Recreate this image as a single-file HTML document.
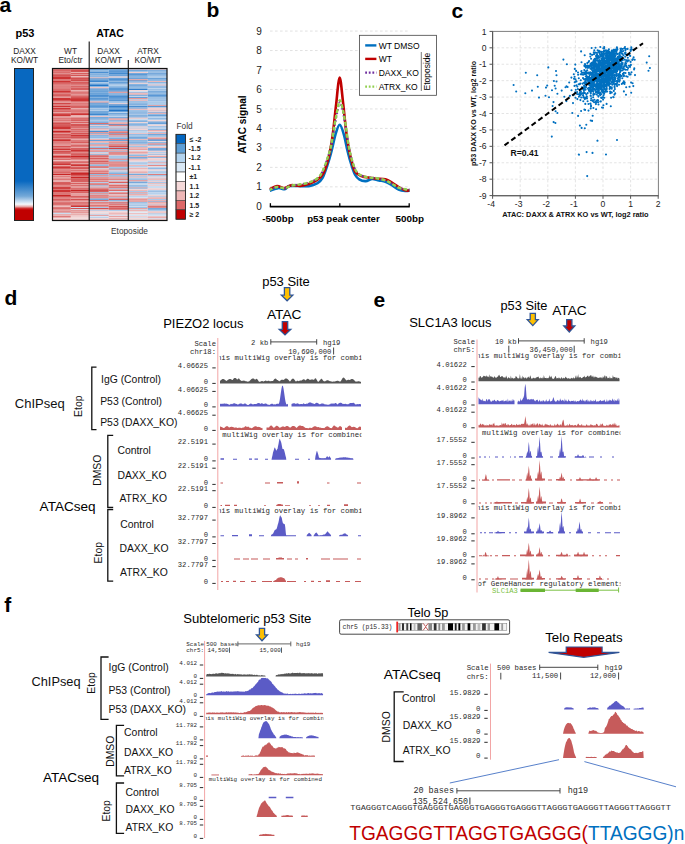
<!DOCTYPE html>
<html><head><meta charset="utf-8"><style>
html,body{margin:0;padding:0;background:#fff;width:685px;height:844px;overflow:hidden}
svg{display:block;font-family:"Liberation Sans",sans-serif}
</style></head><body>
<svg width="685" height="844" viewBox="0 0 685 844">
<text x="-0.50" y="11.50" font-size="21" font-weight="bold" >a</text>
<text x="25.00" y="37.20" font-size="11" text-anchor="middle" font-weight="bold" >p53</text>
<text x="24.50" y="53.80" font-size="8.3" text-anchor="middle" fill="#222" >DAXX</text>
<text x="24.50" y="63.20" font-size="8.3" text-anchor="middle" fill="#222" >KO/WT</text>
<defs><linearGradient id="gbar" x1="0" y1="0" x2="0" y2="1">
<stop offset="0" stop-color="#0868c0"/><stop offset="0.74" stop-color="#0868c0"/>
<stop offset="0.84" stop-color="#74a9d8"/><stop offset="0.893" stop-color="#f4f8fc"/>
<stop offset="0.907" stop-color="#e8b4b4"/><stop offset="0.922" stop-color="#cc2424"/><stop offset="0.932" stop-color="#c00000"/><stop offset="1" stop-color="#c00000"/>
</linearGradient></defs>
<rect x="14.50" y="68.50" width="19.00" height="152.00" fill="url(#gbar)" stroke="#222" stroke-width="1"/>
<text x="110.00" y="37.00" font-size="10.5" text-anchor="middle" font-weight="bold" >ATAC</text>
<text x="70.50" y="53.80" font-size="8.3" text-anchor="middle" fill="#222" >WT</text>
<text x="70.50" y="63.20" font-size="8.3" text-anchor="middle" fill="#222" >Eto/ctr</text>
<text x="108.50" y="53.80" font-size="8.3" text-anchor="middle" fill="#222" >DAXX</text>
<text x="108.50" y="63.20" font-size="8.3" text-anchor="middle" fill="#222" >KO/WT</text>
<text x="148.00" y="53.80" font-size="8.3" text-anchor="middle" fill="#222" >ATRX</text>
<text x="148.00" y="63.20" font-size="8.3" text-anchor="middle" fill="#222" >KO/WT</text>
<path d="M89.2 69.39h19.5v0.91h-19.5zM128.3 69.39h19.4v0.91h-19.4zM108.7 71.18h19.6v0.91h-19.6zM108.7 79.23h19.6v0.91h-19.6zM89.2 84.59h19.5v0.91h-19.5zM89.2 85.49h19.5v0.91h-19.5zM108.7 88.17h19.6v0.91h-19.6zM89.2 96.22h19.5v0.91h-19.5zM89.2 102.48h19.5v0.91h-19.5zM108.7 104.26h19.6v0.91h-19.6zM108.7 109.63h19.6v0.91h-19.6zM108.7 110.52h19.6v0.91h-19.6zM89.2 111.42h19.5v0.91h-19.5zM108.7 113.21h19.6v0.91h-19.6z" fill="#2376c8"/>
<path d="M89.2 83.70h19.5v0.91h-19.5zM128.3 83.70h19.4v0.91h-19.4zM128.3 89.06h19.4v0.91h-19.4zM89.2 93.54h19.5v0.91h-19.5zM147.7 95.32h19.3v0.91h-19.3zM108.7 106.05h19.6v0.91h-19.6zM89.2 106.95h19.5v0.91h-19.5zM89.2 123.94h19.5v0.91h-19.5zM108.7 123.94h19.6v0.91h-19.6z" fill="#317ecb"/>
<path d="M108.7 72.97h19.6v0.91h-19.6zM108.7 75.65h19.6v0.91h-19.6zM89.2 78.34h19.5v0.91h-19.5zM108.7 78.34h19.6v0.91h-19.6zM128.3 78.34h19.4v0.91h-19.4zM147.7 78.34h19.3v0.91h-19.3zM89.2 81.02h19.5v0.91h-19.5zM108.7 81.91h19.6v0.91h-19.6zM128.3 86.38h19.4v0.91h-19.4zM89.2 90.85h19.5v0.91h-19.5zM89.2 92.64h19.5v0.91h-19.5zM147.7 94.43h19.3v0.91h-19.3zM89.2 105.16h19.5v0.91h-19.5zM108.7 108.74h19.6v0.91h-19.6zM128.3 110.52h19.4v0.91h-19.4zM108.7 111.42h19.6v0.91h-19.6zM89.2 113.21h19.5v0.91h-19.5zM89.2 114.10h19.5v0.91h-19.5zM89.2 117.68h19.5v0.91h-19.5zM108.7 127.51h19.6v0.91h-19.6z" fill="#3e87ce"/>
<path d="M108.7 68.50h19.6v0.91h-19.6zM89.2 72.08h19.5v0.91h-19.5zM108.7 74.76h19.6v0.91h-19.6zM89.2 75.65h19.5v0.91h-19.5zM108.7 77.44h19.6v0.91h-19.6zM108.7 82.81h19.6v0.91h-19.6zM147.7 85.49h19.3v0.91h-19.3zM108.7 86.38h19.6v0.91h-19.6zM108.7 89.96h19.6v0.91h-19.6zM89.2 94.43h19.5v0.91h-19.5zM89.2 95.32h19.5v0.91h-19.5zM108.7 95.32h19.6v0.91h-19.6zM108.7 96.22h19.6v0.91h-19.6zM128.3 97.11h19.4v0.91h-19.4zM108.7 98.90h19.6v0.91h-19.6zM108.7 105.16h19.6v0.91h-19.6zM128.3 106.05h19.4v0.91h-19.4zM108.7 116.78h19.6v0.91h-19.6zM108.7 130.19h19.6v0.91h-19.6zM89.2 131.09h19.5v0.91h-19.5zM147.7 133.77h19.3v0.91h-19.3zM108.7 138.24h19.6v0.91h-19.6zM147.7 139.14h19.3v0.91h-19.3zM128.3 186.52h19.4v0.91h-19.4zM108.7 199.94h19.6v0.91h-19.6z" fill="#4c8fd1"/>
<path d="M89.2 68.50h19.5v0.91h-19.5zM147.7 69.39h19.3v0.91h-19.3zM128.3 70.29h19.4v0.91h-19.4zM89.2 73.86h19.5v0.91h-19.5zM108.7 73.86h19.6v0.91h-19.6zM128.3 73.86h19.4v0.91h-19.4zM128.3 74.76h19.4v0.91h-19.4zM128.3 76.55h19.4v0.91h-19.4zM89.2 79.23h19.5v0.91h-19.5zM89.2 80.12h19.5v0.91h-19.5zM147.7 81.91h19.3v0.91h-19.3zM89.2 88.17h19.5v0.91h-19.5zM108.7 89.06h19.6v0.91h-19.6zM89.2 89.96h19.5v0.91h-19.5zM108.7 90.85h19.6v0.91h-19.6zM147.7 90.85h19.3v0.91h-19.3zM108.7 92.64h19.6v0.91h-19.6zM147.7 93.54h19.3v0.91h-19.3zM108.7 94.43h19.6v0.91h-19.6zM147.7 96.22h19.3v0.91h-19.3zM108.7 97.11h19.6v0.91h-19.6zM89.2 98.01h19.5v0.91h-19.5zM108.7 99.79h19.6v0.91h-19.6zM108.7 100.69h19.6v0.91h-19.6zM89.2 104.26h19.5v0.91h-19.5zM128.3 104.26h19.4v0.91h-19.4zM89.2 106.05h19.5v0.91h-19.5zM147.7 106.05h19.3v0.91h-19.3zM108.7 106.95h19.6v0.91h-19.6zM108.7 107.84h19.6v0.91h-19.6zM89.2 110.52h19.5v0.91h-19.5zM89.2 112.31h19.5v0.91h-19.5zM147.7 112.31h19.3v0.91h-19.3zM89.2 116.78h19.5v0.91h-19.5zM147.7 117.68h19.3v0.91h-19.3zM108.7 120.36h19.6v0.91h-19.6zM89.2 122.15h19.5v0.91h-19.5zM147.7 122.15h19.3v0.91h-19.3zM89.2 125.72h19.5v0.91h-19.5zM89.2 127.51h19.5v0.91h-19.5zM89.2 132.88h19.5v0.91h-19.5zM108.7 132.88h19.6v0.91h-19.6zM89.2 135.56h19.5v0.91h-19.5zM128.3 141.82h19.4v0.91h-19.4zM89.2 142.71h19.5v0.91h-19.5zM108.7 142.71h19.6v0.91h-19.6zM128.3 143.61h19.4v0.91h-19.4z" fill="#5a98d4"/>
<path d="M108.7 69.39h19.6v0.91h-19.6zM108.7 70.29h19.6v0.91h-19.6zM147.7 70.29h19.3v0.91h-19.3zM89.2 71.18h19.5v0.91h-19.5zM108.7 72.08h19.6v0.91h-19.6zM147.7 73.86h19.3v0.91h-19.3zM128.3 75.65h19.4v0.91h-19.4zM147.7 75.65h19.3v0.91h-19.3zM128.3 77.44h19.4v0.91h-19.4zM147.7 77.44h19.3v0.91h-19.3zM108.7 80.12h19.6v0.91h-19.6zM128.3 80.12h19.4v0.91h-19.4zM108.7 87.28h19.6v0.91h-19.6zM128.3 88.17h19.4v0.91h-19.4zM89.2 91.75h19.5v0.91h-19.5zM147.7 91.75h19.3v0.91h-19.3zM108.7 93.54h19.6v0.91h-19.6zM108.7 98.01h19.6v0.91h-19.6zM89.2 98.90h19.5v0.91h-19.5zM89.2 99.79h19.5v0.91h-19.5zM128.3 100.69h19.4v0.91h-19.4zM89.2 103.37h19.5v0.91h-19.5zM128.3 107.84h19.4v0.91h-19.4zM89.2 108.74h19.5v0.91h-19.5zM147.7 114.99h19.3v0.91h-19.3zM128.3 115.89h19.4v0.91h-19.4zM89.2 118.57h19.5v0.91h-19.5zM147.7 123.04h19.3v0.91h-19.3zM128.3 123.94h19.4v0.91h-19.4zM147.7 129.30h19.3v0.91h-19.3zM89.2 134.66h19.5v0.91h-19.5zM147.7 134.66h19.3v0.91h-19.3zM128.3 138.24h19.4v0.91h-19.4zM89.2 140.03h19.5v0.91h-19.5zM108.7 140.03h19.6v0.91h-19.6zM147.7 140.03h19.3v0.91h-19.3zM147.7 141.82h19.3v0.91h-19.3zM89.2 147.18h19.5v0.91h-19.5zM147.7 149.86h19.3v0.91h-19.3zM89.2 154.34h19.5v0.91h-19.5zM108.7 160.59h19.6v0.91h-19.6zM128.3 162.38h19.4v0.91h-19.4zM147.7 208.88h19.3v0.91h-19.3z" fill="#68a0d8"/>
<path d="M128.3 72.97h19.4v0.91h-19.4zM147.7 72.97h19.3v0.91h-19.3zM89.2 76.55h19.5v0.91h-19.5zM147.7 79.23h19.3v0.91h-19.3zM128.3 81.91h19.4v0.91h-19.4zM147.7 83.70h19.3v0.91h-19.3zM128.3 84.59h19.4v0.91h-19.4zM128.3 85.49h19.4v0.91h-19.4zM147.7 87.28h19.3v0.91h-19.3zM89.2 89.06h19.5v0.91h-19.5zM128.3 91.75h19.4v0.91h-19.4zM147.7 99.79h19.3v0.91h-19.3zM108.7 102.48h19.6v0.91h-19.6zM128.3 102.48h19.4v0.91h-19.4zM128.3 106.95h19.4v0.91h-19.4zM128.3 113.21h19.4v0.91h-19.4zM147.7 118.57h19.3v0.91h-19.3zM89.2 119.46h19.5v0.91h-19.5zM89.2 121.25h19.5v0.91h-19.5zM147.7 121.25h19.3v0.91h-19.3zM128.3 124.83h19.4v0.91h-19.4zM147.7 126.62h19.3v0.91h-19.3zM108.7 129.30h19.6v0.91h-19.6zM128.3 133.77h19.4v0.91h-19.4zM108.7 134.66h19.6v0.91h-19.6zM128.3 136.45h19.4v0.91h-19.4zM89.2 137.35h19.5v0.91h-19.5zM128.3 137.35h19.4v0.91h-19.4zM147.7 144.50h19.3v0.91h-19.3zM147.7 148.08h19.3v0.91h-19.3zM147.7 148.97h19.3v0.91h-19.3zM147.7 154.34h19.3v0.91h-19.3zM128.3 157.02h19.4v0.91h-19.4zM128.3 157.91h19.4v0.91h-19.4zM147.7 167.75h19.3v0.91h-19.3zM128.3 174.01h19.4v0.91h-19.4zM128.3 182.05h19.4v0.91h-19.4zM128.3 184.74h19.4v0.91h-19.4zM89.2 199.04h19.5v0.91h-19.5zM147.7 200.83h19.3v0.91h-19.3zM147.7 207.98h19.3v0.91h-19.3z" fill="#76a8db"/>
<path d="M89.2 70.29h19.5v0.91h-19.5zM147.7 71.18h19.3v0.91h-19.3zM89.2 74.76h19.5v0.91h-19.5zM147.7 74.76h19.3v0.91h-19.3zM89.2 82.81h19.5v0.91h-19.5zM108.7 85.49h19.6v0.91h-19.6zM89.2 86.38h19.5v0.91h-19.5zM147.7 86.38h19.3v0.91h-19.3zM128.3 87.28h19.4v0.91h-19.4zM147.7 92.64h19.3v0.91h-19.3zM128.3 94.43h19.4v0.91h-19.4zM128.3 95.32h19.4v0.91h-19.4zM89.2 97.11h19.5v0.91h-19.5zM128.3 101.58h19.4v0.91h-19.4zM147.7 102.48h19.3v0.91h-19.3zM128.3 103.37h19.4v0.91h-19.4zM128.3 114.99h19.4v0.91h-19.4zM147.7 115.89h19.3v0.91h-19.3zM108.7 117.68h19.6v0.91h-19.6zM128.3 120.36h19.4v0.91h-19.4zM128.3 121.25h19.4v0.91h-19.4zM108.7 125.72h19.6v0.91h-19.6zM128.3 127.51h19.4v0.91h-19.4zM89.2 130.19h19.5v0.91h-19.5zM128.3 130.19h19.4v0.91h-19.4zM128.3 135.56h19.4v0.91h-19.4zM147.7 135.56h19.3v0.91h-19.3zM89.2 136.45h19.5v0.91h-19.5zM108.7 136.45h19.6v0.91h-19.6zM128.3 140.92h19.4v0.91h-19.4zM128.3 142.71h19.4v0.91h-19.4zM89.2 143.61h19.5v0.91h-19.5zM128.3 146.29h19.4v0.91h-19.4zM147.7 152.55h19.3v0.91h-19.3zM108.7 159.70h19.6v0.91h-19.6zM108.7 167.75h19.6v0.91h-19.6zM147.7 168.64h19.3v0.91h-19.3zM108.7 169.54h19.6v0.91h-19.6zM108.7 172.22h19.6v0.91h-19.6zM108.7 173.11h19.6v0.91h-19.6zM147.7 174.90h19.3v0.91h-19.3zM128.3 178.48h19.4v0.91h-19.4zM89.2 184.74h19.5v0.91h-19.5zM128.3 188.31h19.4v0.91h-19.4zM89.2 191.89h19.5v0.91h-19.5zM89.2 193.68h19.5v0.91h-19.5zM89.2 198.15h19.5v0.91h-19.5zM108.7 209.77h19.6v0.91h-19.6zM147.7 209.77h19.3v0.91h-19.3z" fill="#83b1de"/>
<path d="M128.3 71.18h19.4v0.91h-19.4zM89.2 72.97h19.5v0.91h-19.5zM147.7 80.12h19.3v0.91h-19.3zM108.7 81.02h19.6v0.91h-19.6zM128.3 81.02h19.4v0.91h-19.4zM147.7 98.90h19.3v0.91h-19.3zM89.2 100.69h19.5v0.91h-19.5zM108.7 101.58h19.6v0.91h-19.6zM147.7 101.58h19.3v0.91h-19.3zM147.7 104.26h19.3v0.91h-19.3zM128.3 105.16h19.4v0.91h-19.4zM147.7 106.95h19.3v0.91h-19.3zM128.3 111.42h19.4v0.91h-19.4zM128.3 112.31h19.4v0.91h-19.4zM108.7 114.10h19.6v0.91h-19.6zM147.7 114.10h19.3v0.91h-19.3zM128.3 116.78h19.4v0.91h-19.4zM128.3 119.46h19.4v0.91h-19.4zM108.7 121.25h19.6v0.91h-19.6zM147.7 128.41h19.3v0.91h-19.3zM128.3 134.66h19.4v0.91h-19.4zM147.7 136.45h19.3v0.91h-19.3zM108.7 137.35h19.6v0.91h-19.6zM128.3 140.03h19.4v0.91h-19.4zM147.7 145.39h19.3v0.91h-19.3zM108.7 150.76h19.6v0.91h-19.6zM89.2 151.65h19.5v0.91h-19.5zM128.3 154.34h19.4v0.91h-19.4zM128.3 155.23h19.4v0.91h-19.4zM147.7 157.02h19.3v0.91h-19.3zM108.7 157.91h19.6v0.91h-19.6zM89.2 165.06h19.5v0.91h-19.5zM128.3 165.96h19.4v0.91h-19.4zM108.7 166.85h19.6v0.91h-19.6zM147.7 172.22h19.3v0.91h-19.3zM89.2 174.01h19.5v0.91h-19.5zM89.2 175.79h19.5v0.91h-19.5zM128.3 179.37h19.4v0.91h-19.4zM108.7 188.31h19.6v0.91h-19.6zM147.7 193.68h19.3v0.91h-19.3zM128.3 203.51h19.4v0.91h-19.4zM147.7 204.41h19.3v0.91h-19.3zM89.2 216.92h19.5v0.91h-19.5z" fill="#91b9e1"/>
<path d="M147.7 72.08h19.3v0.91h-19.3zM89.2 81.91h19.5v0.91h-19.5zM147.7 89.06h19.3v0.91h-19.3zM147.7 89.96h19.3v0.91h-19.3zM147.7 97.11h19.3v0.91h-19.3zM147.7 98.01h19.3v0.91h-19.3zM128.3 98.90h19.4v0.91h-19.4zM147.7 100.69h19.3v0.91h-19.3zM89.2 107.84h19.5v0.91h-19.5zM128.3 109.63h19.4v0.91h-19.4zM147.7 110.52h19.3v0.91h-19.3zM89.2 114.99h19.5v0.91h-19.5zM108.7 114.99h19.6v0.91h-19.6zM89.2 120.36h19.5v0.91h-19.5zM128.3 123.04h19.4v0.91h-19.4zM128.3 125.72h19.4v0.91h-19.4zM147.7 125.72h19.3v0.91h-19.3zM147.7 142.71h19.3v0.91h-19.3zM108.7 147.18h19.6v0.91h-19.6zM108.7 148.97h19.6v0.91h-19.6zM108.7 156.12h19.6v0.91h-19.6zM147.7 160.59h19.3v0.91h-19.3zM128.3 163.28h19.4v0.91h-19.4zM89.2 164.17h19.5v0.91h-19.5zM108.7 171.32h19.6v0.91h-19.6zM108.7 174.90h19.6v0.91h-19.6zM108.7 175.79h19.6v0.91h-19.6zM128.3 175.79h19.4v0.91h-19.4zM128.3 177.58h19.4v0.91h-19.4zM128.3 181.16h19.4v0.91h-19.4zM128.3 185.63h19.4v0.91h-19.4zM89.2 186.52h19.5v0.91h-19.5zM147.7 190.99h19.3v0.91h-19.3zM128.3 192.78h19.4v0.91h-19.4zM147.7 196.36h19.3v0.91h-19.3zM108.7 197.25h19.6v0.91h-19.6zM128.3 201.72h19.4v0.91h-19.4zM128.3 202.62h19.4v0.91h-19.4zM128.3 207.09h19.4v0.91h-19.4zM89.2 209.77h19.5v0.91h-19.5zM147.7 213.35h19.3v0.91h-19.3z" fill="#9dc0e4"/>
<path d="M147.7 76.55h19.3v0.91h-19.3zM147.7 82.81h19.3v0.91h-19.3zM108.7 83.70h19.6v0.91h-19.6zM108.7 84.59h19.6v0.91h-19.6zM147.7 103.37h19.3v0.91h-19.3zM128.3 114.10h19.4v0.91h-19.4zM147.7 119.46h19.3v0.91h-19.3zM89.2 126.62h19.5v0.91h-19.5zM147.7 131.98h19.3v0.91h-19.3zM128.3 145.39h19.4v0.91h-19.4zM89.2 146.29h19.5v0.91h-19.5zM89.2 148.97h19.5v0.91h-19.5zM147.7 151.65h19.3v0.91h-19.3zM108.7 157.02h19.6v0.91h-19.6zM147.7 161.49h19.3v0.91h-19.3zM147.7 164.17h19.3v0.91h-19.3zM147.7 166.85h19.3v0.91h-19.3zM147.7 180.26h19.3v0.91h-19.3zM147.7 182.05h19.3v0.91h-19.3zM108.7 182.95h19.6v0.91h-19.6zM128.3 182.95h19.4v0.91h-19.4zM147.7 185.63h19.3v0.91h-19.3zM147.7 187.42h19.3v0.91h-19.3zM128.3 190.99h19.4v0.91h-19.4zM147.7 192.78h19.3v0.91h-19.3zM128.3 196.36h19.4v0.91h-19.4zM147.7 199.04h19.3v0.91h-19.3zM89.2 200.83h19.5v0.91h-19.5zM108.7 202.62h19.6v0.91h-19.6zM128.3 204.41h19.4v0.91h-19.4zM128.3 205.30h19.4v0.91h-19.4zM89.2 207.09h19.5v0.91h-19.5zM89.2 214.24h19.5v0.91h-19.5z" fill="#a9c7e7"/>
<path d="M147.7 88.17h19.3v0.91h-19.3zM128.3 96.22h19.4v0.91h-19.4zM89.2 109.63h19.5v0.91h-19.5zM108.7 112.31h19.6v0.91h-19.6zM108.7 115.89h19.6v0.91h-19.6zM147.7 116.78h19.3v0.91h-19.3zM147.7 123.94h19.3v0.91h-19.3zM147.7 127.51h19.3v0.91h-19.3zM89.2 138.24h19.5v0.91h-19.5zM89.2 152.55h19.5v0.91h-19.5zM128.3 161.49h19.4v0.91h-19.4zM128.3 164.17h19.4v0.91h-19.4zM147.7 170.43h19.3v0.91h-19.3zM147.7 171.32h19.3v0.91h-19.3zM147.7 175.79h19.3v0.91h-19.3zM147.7 177.58h19.3v0.91h-19.3zM108.7 180.26h19.6v0.91h-19.6zM89.2 182.05h19.5v0.91h-19.5zM147.7 190.10h19.3v0.91h-19.3zM147.7 191.89h19.3v0.91h-19.3zM128.3 195.46h19.4v0.91h-19.4z" fill="#b5ceea"/>
<path d="M128.3 131.09h19.4v0.91h-19.4zM128.3 131.98h19.4v0.91h-19.4zM108.7 155.23h19.6v0.91h-19.6zM89.2 167.75h19.5v0.91h-19.5zM128.3 173.11h19.4v0.91h-19.4zM147.7 173.11h19.3v0.91h-19.3zM128.3 183.84h19.4v0.91h-19.4zM147.7 183.84h19.3v0.91h-19.3zM147.7 186.52h19.3v0.91h-19.3zM108.7 193.68h19.6v0.91h-19.6zM108.7 200.83h19.6v0.91h-19.6zM128.3 206.19h19.4v0.91h-19.4zM128.3 208.88h19.4v0.91h-19.4zM128.3 211.56h19.4v0.91h-19.4zM89.2 212.45h19.5v0.91h-19.5zM147.7 214.24h19.3v0.91h-19.3zM128.3 215.14h19.4v0.91h-19.4zM128.3 216.92h19.4v0.91h-19.4z" fill="#c0d6ec"/>
<path d="M128.3 90.85h19.4v0.91h-19.4zM128.3 118.57h19.4v0.91h-19.4zM128.3 149.86h19.4v0.91h-19.4zM147.7 163.28h19.3v0.91h-19.3zM128.3 166.85h19.4v0.91h-19.4zM108.7 177.58h19.6v0.91h-19.6zM108.7 190.99h19.6v0.91h-19.6zM147.7 194.57h19.3v0.91h-19.3zM128.3 197.25h19.4v0.91h-19.4zM70.8 207.09h18.4v0.91h-18.4zM70.8 208.88h18.4v0.91h-18.4zM52.5 212.45h18.3v0.91h-18.3zM52.5 213.35h18.3v0.91h-18.3zM108.7 215.14h19.6v0.91h-19.6zM147.7 215.14h19.3v0.91h-19.3zM147.7 217.82h19.3v0.91h-19.3zM108.7 219.61h19.6v0.91h-19.6z" fill="#ccddef"/>
<path d="M147.7 210.66h19.3v0.91h-19.3zM89.2 216.03h19.5v0.91h-19.5z" fill="#d8e4f2"/>
<path d="M108.7 210.66h19.6v0.91h-19.6zM128.3 212.45h19.4v0.91h-19.4zM128.3 214.24h19.4v0.91h-19.4z" fill="#e4ebf5"/>
<path d="M108.7 216.92h19.6v0.91h-19.6zM52.5 217.82h18.3v0.91h-18.3zM89.2 217.82h19.5v0.91h-19.5zM128.3 219.61h19.4v0.91h-19.4z" fill="#f4e5e7"/>
<path d="M89.2 211.56h19.5v0.91h-19.5zM70.8 217.82h18.4v0.91h-18.4zM128.3 218.71h19.4v0.91h-19.4z" fill="#f2dadc"/>
<path d="M128.3 72.08h19.4v0.91h-19.4zM108.7 76.55h19.6v0.91h-19.6zM128.3 82.81h19.4v0.91h-19.4zM128.3 89.96h19.4v0.91h-19.4zM108.7 103.37h19.6v0.91h-19.6zM147.7 108.74h19.3v0.91h-19.3zM147.7 120.36h19.3v0.91h-19.3zM128.3 122.15h19.4v0.91h-19.4zM147.7 124.83h19.3v0.91h-19.3zM108.7 126.62h19.6v0.91h-19.6zM128.3 126.62h19.4v0.91h-19.4zM128.3 129.30h19.4v0.91h-19.4zM147.7 131.09h19.3v0.91h-19.3zM147.7 140.92h19.3v0.91h-19.3zM147.7 146.29h19.3v0.91h-19.3zM128.3 150.76h19.4v0.91h-19.4zM128.3 153.44h19.4v0.91h-19.4zM147.7 153.44h19.3v0.91h-19.3zM147.7 155.23h19.3v0.91h-19.3zM147.7 157.91h19.3v0.91h-19.3zM147.7 159.70h19.3v0.91h-19.3zM128.3 160.59h19.4v0.91h-19.4zM147.7 165.96h19.3v0.91h-19.3zM128.3 168.64h19.4v0.91h-19.4zM147.7 169.54h19.3v0.91h-19.3zM128.3 170.43h19.4v0.91h-19.4zM147.7 188.31h19.3v0.91h-19.3zM128.3 189.21h19.4v0.91h-19.4zM147.7 189.21h19.3v0.91h-19.3zM128.3 210.66h19.4v0.91h-19.4zM147.7 212.45h19.3v0.91h-19.3zM70.8 213.35h18.4v0.91h-18.4zM89.2 213.35h19.5v0.91h-19.5zM70.8 215.14h18.4v0.91h-18.4zM70.8 216.03h18.4v0.91h-18.4zM128.3 216.03h19.4v0.91h-19.4zM70.8 216.92h18.4v0.91h-18.4zM128.3 217.82h19.4v0.91h-19.4zM70.8 218.71h18.4v0.91h-18.4zM147.7 219.61h19.3v0.91h-19.3z" fill="#efcfd0"/>
<path d="M128.3 68.50h19.4v0.91h-19.4zM147.7 84.59h19.3v0.91h-19.3zM147.7 107.84h19.3v0.91h-19.3zM147.7 111.42h19.3v0.91h-19.3zM89.2 124.83h19.5v0.91h-19.5zM128.3 128.41h19.4v0.91h-19.4zM89.2 129.30h19.5v0.91h-19.5zM147.7 150.76h19.3v0.91h-19.3zM147.7 158.81h19.3v0.91h-19.3zM128.3 169.54h19.4v0.91h-19.4zM108.7 170.43h19.6v0.91h-19.6zM147.7 176.69h19.3v0.91h-19.3zM147.7 179.37h19.3v0.91h-19.3zM147.7 181.16h19.3v0.91h-19.3zM147.7 184.74h19.3v0.91h-19.3zM89.2 210.66h19.5v0.91h-19.5zM108.7 211.56h19.6v0.91h-19.6zM108.7 214.24h19.6v0.91h-19.6zM147.7 216.03h19.3v0.91h-19.3zM70.8 219.61h18.4v0.91h-18.4zM89.2 219.61h19.5v0.91h-19.5z" fill="#edc4c5"/>
<path d="M147.7 68.50h19.3v0.91h-19.3zM147.7 81.02h19.3v0.91h-19.3zM89.2 87.28h19.5v0.91h-19.5zM128.3 92.64h19.4v0.91h-19.4zM89.2 115.89h19.5v0.91h-19.5zM108.7 119.46h19.6v0.91h-19.6zM128.3 132.88h19.4v0.91h-19.4zM128.3 148.08h19.4v0.91h-19.4zM128.3 159.70h19.4v0.91h-19.4zM128.3 165.06h19.4v0.91h-19.4zM108.7 183.84h19.6v0.91h-19.6zM128.3 190.10h19.4v0.91h-19.4zM147.7 195.46h19.3v0.91h-19.3zM147.7 202.62h19.3v0.91h-19.3zM52.5 206.19h18.3v0.91h-18.3zM108.7 212.45h19.6v0.91h-19.6zM108.7 213.35h19.6v0.91h-19.6zM147.7 218.71h19.3v0.91h-19.3zM52.5 219.61h18.3v0.91h-18.3z" fill="#ebb9ba"/>
<path d="M70.8 72.08h18.4v0.91h-18.4zM70.8 75.65h18.4v0.91h-18.4zM89.2 77.44h19.5v0.91h-19.5zM70.8 89.96h18.4v0.91h-18.4zM128.3 99.79h19.4v0.91h-19.4zM52.5 101.58h18.3v0.91h-18.3zM70.8 107.84h18.4v0.91h-18.4zM128.3 108.74h19.4v0.91h-19.4zM52.5 112.31h18.3v0.91h-18.3zM70.8 114.99h18.4v0.91h-18.4zM70.8 115.89h18.4v0.91h-18.4zM128.3 117.68h19.4v0.91h-19.4zM108.7 123.04h19.6v0.91h-19.6zM108.7 128.41h19.6v0.91h-19.6zM147.7 137.35h19.3v0.91h-19.3zM128.3 139.14h19.4v0.91h-19.4zM89.2 141.82h19.5v0.91h-19.5zM52.5 144.50h18.3v0.91h-18.3zM147.7 147.18h19.3v0.91h-19.3zM89.2 153.44h19.5v0.91h-19.5zM52.5 154.34h18.3v0.91h-18.3zM128.3 156.12h19.4v0.91h-19.4zM128.3 158.81h19.4v0.91h-19.4zM52.5 160.59h18.3v0.91h-18.3zM128.3 171.32h19.4v0.91h-19.4zM128.3 172.22h19.4v0.91h-19.4zM128.3 174.90h19.4v0.91h-19.4zM128.3 176.69h19.4v0.91h-19.4zM52.5 180.26h18.3v0.91h-18.3zM52.5 181.16h18.3v0.91h-18.3zM147.7 182.95h19.3v0.91h-19.3zM128.3 194.57h19.4v0.91h-19.4zM147.7 197.25h19.3v0.91h-19.3zM70.8 200.83h18.4v0.91h-18.4zM147.7 211.56h19.3v0.91h-19.3zM128.3 213.35h19.4v0.91h-19.4zM52.5 215.14h18.3v0.91h-18.3zM52.5 218.71h18.3v0.91h-18.3zM89.2 218.71h19.5v0.91h-19.5zM108.7 218.71h19.6v0.91h-19.6z" fill="#e8aeae"/>
<path d="M52.5 72.97h18.3v0.91h-18.3zM70.8 73.86h18.4v0.91h-18.4zM70.8 93.54h18.4v0.91h-18.4zM52.5 97.11h18.3v0.91h-18.3zM70.8 109.63h18.4v0.91h-18.4zM147.7 109.63h19.3v0.91h-19.3zM147.7 113.21h19.3v0.91h-19.3zM70.8 116.78h18.4v0.91h-18.4zM52.5 119.46h18.3v0.91h-18.3zM52.5 121.25h18.3v0.91h-18.3zM70.8 121.25h18.4v0.91h-18.4zM108.7 122.15h19.6v0.91h-19.6zM70.8 123.04h18.4v0.91h-18.4zM70.8 125.72h18.4v0.91h-18.4zM52.5 132.88h18.3v0.91h-18.3zM147.7 132.88h19.3v0.91h-19.3zM89.2 133.77h19.5v0.91h-19.5zM70.8 139.14h18.4v0.91h-18.4zM89.2 139.14h19.5v0.91h-19.5zM89.2 140.92h19.5v0.91h-19.5zM108.7 140.92h19.6v0.91h-19.6zM70.8 143.61h18.4v0.91h-18.4zM128.3 144.50h19.4v0.91h-19.4zM89.2 145.39h19.5v0.91h-19.5zM70.8 147.18h18.4v0.91h-18.4zM128.3 147.18h19.4v0.91h-19.4zM128.3 148.97h19.4v0.91h-19.4zM147.7 156.12h19.3v0.91h-19.3zM52.5 159.70h18.3v0.91h-18.3zM70.8 160.59h18.4v0.91h-18.4zM70.8 163.28h18.4v0.91h-18.4zM52.5 165.06h18.3v0.91h-18.3zM128.3 167.75h19.4v0.91h-19.4zM89.2 169.54h19.5v0.91h-19.5zM70.8 171.32h18.4v0.91h-18.4zM52.5 174.90h18.3v0.91h-18.3zM147.7 178.48h19.3v0.91h-19.3zM89.2 180.26h19.5v0.91h-19.5zM70.8 182.05h18.4v0.91h-18.4zM128.3 187.42h19.4v0.91h-19.4zM108.7 191.89h19.6v0.91h-19.6zM70.8 192.78h18.4v0.91h-18.4zM70.8 194.57h18.4v0.91h-18.4zM108.7 195.46h19.6v0.91h-19.6zM128.3 198.15h19.4v0.91h-19.4zM147.7 198.15h19.3v0.91h-19.3zM147.7 199.94h19.3v0.91h-19.3zM147.7 203.51h19.3v0.91h-19.3zM128.3 207.98h19.4v0.91h-19.4zM89.2 208.88h19.5v0.91h-19.5zM128.3 209.77h19.4v0.91h-19.4zM108.7 216.03h19.6v0.91h-19.6zM108.7 217.82h19.6v0.91h-19.6z" fill="#e6a3a3"/>
<path d="M70.8 76.55h18.4v0.91h-18.4zM128.3 79.23h19.4v0.91h-19.4zM70.8 84.59h18.4v0.91h-18.4zM52.5 85.49h18.3v0.91h-18.3zM128.3 93.54h19.4v0.91h-19.4zM128.3 98.01h19.4v0.91h-19.4zM89.2 101.58h19.5v0.91h-19.5zM70.8 102.48h18.4v0.91h-18.4zM52.5 109.63h18.3v0.91h-18.3zM70.8 111.42h18.4v0.91h-18.4zM52.5 115.89h18.3v0.91h-18.3zM52.5 116.78h18.3v0.91h-18.3zM89.2 128.41h19.5v0.91h-19.5zM147.7 130.19h19.3v0.91h-19.3zM108.7 131.09h19.6v0.91h-19.6zM89.2 131.98h19.5v0.91h-19.5zM52.5 149.86h18.3v0.91h-18.3zM89.2 149.86h19.5v0.91h-19.5zM108.7 149.86h19.6v0.91h-19.6zM128.3 152.55h19.4v0.91h-19.4zM89.2 157.02h19.5v0.91h-19.5zM70.8 159.70h18.4v0.91h-18.4zM89.2 159.70h19.5v0.91h-19.5zM70.8 165.96h18.4v0.91h-18.4zM70.8 168.64h18.4v0.91h-18.4zM89.2 168.64h19.5v0.91h-19.5zM89.2 172.22h19.5v0.91h-19.5zM52.5 173.11h18.3v0.91h-18.3zM108.7 174.01h19.6v0.91h-19.6zM52.5 177.58h18.3v0.91h-18.3zM108.7 179.37h19.6v0.91h-19.6zM108.7 181.16h19.6v0.91h-19.6zM70.8 183.84h18.4v0.91h-18.4zM52.5 185.63h18.3v0.91h-18.3zM89.2 185.63h19.5v0.91h-19.5zM70.8 186.52h18.4v0.91h-18.4zM128.3 191.89h19.4v0.91h-19.4zM52.5 193.68h18.3v0.91h-18.3zM108.7 194.57h19.6v0.91h-19.6zM70.8 198.15h18.4v0.91h-18.4zM128.3 199.04h19.4v0.91h-19.4zM128.3 199.94h19.4v0.91h-19.4zM147.7 201.72h19.3v0.91h-19.3zM89.2 203.51h19.5v0.91h-19.5zM70.8 204.41h18.4v0.91h-18.4zM52.5 205.30h18.3v0.91h-18.3zM108.7 205.30h19.6v0.91h-19.6zM147.7 205.30h19.3v0.91h-19.3zM52.5 209.77h18.3v0.91h-18.3zM70.8 209.77h18.4v0.91h-18.4zM70.8 210.66h18.4v0.91h-18.4zM52.5 214.24h18.3v0.91h-18.3zM70.8 214.24h18.4v0.91h-18.4zM52.5 216.92h18.3v0.91h-18.3zM147.7 216.92h19.3v0.91h-19.3z" fill="#e49898"/>
<path d="M70.8 81.02h18.4v0.91h-18.4zM108.7 91.75h19.6v0.91h-19.6zM147.7 105.16h19.3v0.91h-19.3zM52.5 106.95h18.3v0.91h-18.3zM52.5 129.30h18.3v0.91h-18.3zM70.8 131.98h18.4v0.91h-18.4zM108.7 135.56h19.6v0.91h-19.6zM52.5 138.24h18.3v0.91h-18.3zM108.7 143.61h19.6v0.91h-19.6zM108.7 154.34h19.6v0.91h-19.6zM52.5 157.91h18.3v0.91h-18.3zM89.2 162.38h19.5v0.91h-19.5zM147.7 162.38h19.3v0.91h-19.3zM108.7 163.28h19.6v0.91h-19.6zM108.7 164.17h19.6v0.91h-19.6zM108.7 165.06h19.6v0.91h-19.6zM147.7 165.06h19.3v0.91h-19.3zM128.3 180.26h19.4v0.91h-19.4zM108.7 189.21h19.6v0.91h-19.6zM128.3 193.68h19.4v0.91h-19.4zM89.2 194.57h19.5v0.91h-19.5zM89.2 196.36h19.5v0.91h-19.5zM52.5 200.83h18.3v0.91h-18.3zM128.3 200.83h19.4v0.91h-19.4zM89.2 201.72h19.5v0.91h-19.5zM89.2 204.41h19.5v0.91h-19.5zM89.2 206.19h19.5v0.91h-19.5zM147.7 207.09h19.3v0.91h-19.3zM70.8 211.56h18.4v0.91h-18.4zM89.2 215.14h19.5v0.91h-19.5z" fill="#e08a8a"/>
<path d="M70.8 68.50h18.4v0.91h-18.4zM52.5 80.12h18.3v0.91h-18.3zM52.5 87.28h18.3v0.91h-18.3zM70.8 87.28h18.4v0.91h-18.4zM70.8 90.85h18.4v0.91h-18.4zM52.5 96.22h18.3v0.91h-18.3zM52.5 104.26h18.3v0.91h-18.3zM108.7 118.57h19.6v0.91h-19.6zM70.8 128.41h18.4v0.91h-18.4zM70.8 130.19h18.4v0.91h-18.4zM108.7 131.98h19.6v0.91h-19.6zM70.8 138.24h18.4v0.91h-18.4zM147.7 138.24h19.3v0.91h-19.3zM70.8 140.03h18.4v0.91h-18.4zM52.5 141.82h18.3v0.91h-18.3zM108.7 141.82h19.6v0.91h-19.6zM52.5 142.71h18.3v0.91h-18.3zM89.2 144.50h19.5v0.91h-19.5zM108.7 145.39h19.6v0.91h-19.6zM52.5 147.18h18.3v0.91h-18.3zM89.2 150.76h19.5v0.91h-19.5zM128.3 151.65h19.4v0.91h-19.4zM89.2 158.81h19.5v0.91h-19.5zM108.7 158.81h19.6v0.91h-19.6zM108.7 161.49h19.6v0.91h-19.6zM108.7 165.96h19.6v0.91h-19.6zM147.7 174.01h19.3v0.91h-19.3zM89.2 174.90h19.5v0.91h-19.5zM52.5 176.69h18.3v0.91h-18.3zM89.2 176.69h19.5v0.91h-19.5zM89.2 178.48h19.5v0.91h-19.5zM89.2 182.95h19.5v0.91h-19.5zM108.7 186.52h19.6v0.91h-19.6zM89.2 187.42h19.5v0.91h-19.5zM108.7 187.42h19.6v0.91h-19.6zM89.2 192.78h19.5v0.91h-19.5zM108.7 196.36h19.6v0.91h-19.6zM52.5 197.25h18.3v0.91h-18.3zM108.7 198.15h19.6v0.91h-19.6zM52.5 204.41h18.3v0.91h-18.3zM52.5 207.09h18.3v0.91h-18.3zM108.7 207.09h19.6v0.91h-19.6zM52.5 208.88h18.3v0.91h-18.3zM52.5 210.66h18.3v0.91h-18.3zM52.5 216.03h18.3v0.91h-18.3z" fill="#dd7c7c"/>
<path d="M52.5 71.18h18.3v0.91h-18.3zM52.5 72.08h18.3v0.91h-18.3zM52.5 79.23h18.3v0.91h-18.3zM52.5 83.70h18.3v0.91h-18.3zM52.5 89.06h18.3v0.91h-18.3zM70.8 91.75h18.4v0.91h-18.4zM52.5 92.64h18.3v0.91h-18.3zM70.8 95.32h18.4v0.91h-18.4zM70.8 104.26h18.4v0.91h-18.4zM70.8 108.74h18.4v0.91h-18.4zM70.8 112.31h18.4v0.91h-18.4zM89.2 123.04h19.5v0.91h-19.5zM70.8 127.51h18.4v0.91h-18.4zM70.8 131.09h18.4v0.91h-18.4zM70.8 133.77h18.4v0.91h-18.4zM108.7 139.14h19.6v0.91h-19.6zM70.8 140.92h18.4v0.91h-18.4zM70.8 142.71h18.4v0.91h-18.4zM147.7 143.61h19.3v0.91h-19.3zM70.8 146.29h18.4v0.91h-18.4zM52.5 148.08h18.3v0.91h-18.3zM89.2 148.08h19.5v0.91h-19.5zM70.8 148.97h18.4v0.91h-18.4zM70.8 152.55h18.4v0.91h-18.4zM108.7 152.55h19.6v0.91h-19.6zM70.8 153.44h18.4v0.91h-18.4zM89.2 156.12h19.5v0.91h-19.5zM70.8 158.81h18.4v0.91h-18.4zM89.2 165.96h19.5v0.91h-19.5zM108.7 168.64h19.6v0.91h-19.6zM52.5 169.54h18.3v0.91h-18.3zM70.8 169.54h18.4v0.91h-18.4zM89.2 170.43h19.5v0.91h-19.5zM89.2 173.11h19.5v0.91h-19.5zM70.8 175.79h18.4v0.91h-18.4zM108.7 176.69h19.6v0.91h-19.6zM89.2 177.58h19.5v0.91h-19.5zM52.5 179.37h18.3v0.91h-18.3zM52.5 184.74h18.3v0.91h-18.3zM70.8 184.74h18.4v0.91h-18.4zM108.7 184.74h19.6v0.91h-19.6zM70.8 185.63h18.4v0.91h-18.4zM108.7 185.63h19.6v0.91h-19.6zM70.8 187.42h18.4v0.91h-18.4zM70.8 188.31h18.4v0.91h-18.4zM89.2 188.31h19.5v0.91h-19.5zM108.7 190.10h19.6v0.91h-19.6zM70.8 190.99h18.4v0.91h-18.4zM70.8 193.68h18.4v0.91h-18.4zM70.8 195.46h18.4v0.91h-18.4zM70.8 197.25h18.4v0.91h-18.4zM89.2 197.25h19.5v0.91h-19.5zM52.5 198.15h18.3v0.91h-18.3zM70.8 199.94h18.4v0.91h-18.4zM52.5 201.72h18.3v0.91h-18.3zM70.8 202.62h18.4v0.91h-18.4zM108.7 204.41h19.6v0.91h-19.6zM52.5 207.98h18.3v0.91h-18.3zM70.8 212.45h18.4v0.91h-18.4z" fill="#da6d6d"/>
<path d="M52.5 69.39h18.3v0.91h-18.3zM70.8 72.97h18.4v0.91h-18.4zM52.5 88.17h18.3v0.91h-18.3zM70.8 89.06h18.4v0.91h-18.4zM70.8 94.43h18.4v0.91h-18.4zM70.8 97.11h18.4v0.91h-18.4zM70.8 101.58h18.4v0.91h-18.4zM52.5 102.48h18.3v0.91h-18.3zM70.8 103.37h18.4v0.91h-18.4zM52.5 105.16h18.3v0.91h-18.3zM70.8 105.16h18.4v0.91h-18.4zM70.8 106.05h18.4v0.91h-18.4zM52.5 117.68h18.3v0.91h-18.3zM70.8 118.57h18.4v0.91h-18.4zM108.7 124.83h19.6v0.91h-19.6zM52.5 130.19h18.3v0.91h-18.3zM52.5 131.98h18.3v0.91h-18.3zM108.7 133.77h19.6v0.91h-19.6zM52.5 136.45h18.3v0.91h-18.3zM52.5 140.92h18.3v0.91h-18.3zM52.5 145.39h18.3v0.91h-18.3zM70.8 148.08h18.4v0.91h-18.4zM70.8 151.65h18.4v0.91h-18.4zM108.7 151.65h19.6v0.91h-19.6zM52.5 153.44h18.3v0.91h-18.3zM108.7 153.44h19.6v0.91h-19.6zM52.5 155.23h18.3v0.91h-18.3zM89.2 155.23h19.5v0.91h-19.5zM52.5 157.02h18.3v0.91h-18.3zM70.8 157.02h18.4v0.91h-18.4zM89.2 160.59h19.5v0.91h-19.5zM89.2 161.49h19.5v0.91h-19.5zM70.8 162.38h18.4v0.91h-18.4zM108.7 162.38h19.6v0.91h-19.6zM89.2 163.28h19.5v0.91h-19.5zM52.5 168.64h18.3v0.91h-18.3zM52.5 171.32h18.3v0.91h-18.3zM89.2 171.32h19.5v0.91h-19.5zM52.5 175.79h18.3v0.91h-18.3zM52.5 178.48h18.3v0.91h-18.3zM70.8 178.48h18.4v0.91h-18.4zM108.7 178.48h19.6v0.91h-19.6zM70.8 179.37h18.4v0.91h-18.4zM89.2 179.37h19.5v0.91h-19.5zM70.8 180.26h18.4v0.91h-18.4zM70.8 181.16h18.4v0.91h-18.4zM89.2 181.16h19.5v0.91h-19.5zM52.5 182.05h18.3v0.91h-18.3zM108.7 182.05h19.6v0.91h-19.6zM89.2 183.84h19.5v0.91h-19.5zM52.5 189.21h18.3v0.91h-18.3zM89.2 190.99h19.5v0.91h-19.5zM52.5 191.89h18.3v0.91h-18.3zM52.5 199.04h18.3v0.91h-18.3zM108.7 199.04h19.6v0.91h-19.6zM70.8 201.72h18.4v0.91h-18.4zM108.7 201.72h19.6v0.91h-19.6zM52.5 202.62h18.3v0.91h-18.3zM89.2 202.62h19.5v0.91h-19.5zM108.7 207.98h19.6v0.91h-19.6zM108.7 208.88h19.6v0.91h-19.6zM52.5 211.56h18.3v0.91h-18.3z" fill="#d65f5f"/>
<path d="M52.5 73.86h18.3v0.91h-18.3zM70.8 80.12h18.4v0.91h-18.4zM70.8 82.81h18.4v0.91h-18.4zM70.8 85.49h18.4v0.91h-18.4zM52.5 89.96h18.3v0.91h-18.3zM52.5 93.54h18.3v0.91h-18.3zM52.5 111.42h18.3v0.91h-18.3zM52.5 120.36h18.3v0.91h-18.3zM52.5 122.15h18.3v0.91h-18.3zM52.5 123.04h18.3v0.91h-18.3zM52.5 143.61h18.3v0.91h-18.3zM70.8 144.50h18.4v0.91h-18.4zM108.7 144.50h19.6v0.91h-19.6zM70.8 155.23h18.4v0.91h-18.4zM89.2 166.85h19.5v0.91h-19.5zM52.5 170.43h18.3v0.91h-18.3zM70.8 189.21h18.4v0.91h-18.4zM89.2 190.10h19.5v0.91h-19.5zM52.5 192.78h18.3v0.91h-18.3zM108.7 192.78h19.6v0.91h-19.6zM70.8 199.04h18.4v0.91h-18.4zM52.5 199.94h18.3v0.91h-18.3zM89.2 205.30h19.5v0.91h-19.5zM147.7 206.19h19.3v0.91h-19.3zM70.8 207.98h18.4v0.91h-18.4zM89.2 207.98h19.5v0.91h-19.5z" fill="#d25151"/>
<path d="M52.5 68.50h18.3v0.91h-18.3zM52.5 70.29h18.3v0.91h-18.3zM70.8 79.23h18.4v0.91h-18.4zM52.5 82.81h18.3v0.91h-18.3zM52.5 84.59h18.3v0.91h-18.3zM52.5 95.32h18.3v0.91h-18.3zM70.8 96.22h18.4v0.91h-18.4zM70.8 98.01h18.4v0.91h-18.4zM52.5 100.69h18.3v0.91h-18.3zM52.5 113.21h18.3v0.91h-18.3zM52.5 114.10h18.3v0.91h-18.3zM52.5 118.57h18.3v0.91h-18.3zM70.8 120.36h18.4v0.91h-18.4zM52.5 123.94h18.3v0.91h-18.3zM52.5 125.72h18.3v0.91h-18.3zM70.8 129.30h18.4v0.91h-18.4zM52.5 134.66h18.3v0.91h-18.3zM108.7 148.08h19.6v0.91h-19.6zM70.8 157.91h18.4v0.91h-18.4zM52.5 158.81h18.3v0.91h-18.3zM52.5 165.96h18.3v0.91h-18.3zM70.8 166.85h18.4v0.91h-18.4zM52.5 172.22h18.3v0.91h-18.3zM52.5 183.84h18.3v0.91h-18.3zM52.5 186.52h18.3v0.91h-18.3zM52.5 187.42h18.3v0.91h-18.3zM52.5 188.31h18.3v0.91h-18.3zM89.2 189.21h19.5v0.91h-19.5zM89.2 195.46h19.5v0.91h-19.5zM89.2 199.94h19.5v0.91h-19.5zM70.8 203.51h18.4v0.91h-18.4zM108.7 203.51h19.6v0.91h-19.6z" fill="#cf4242"/>
<path d="M70.8 69.39h18.4v0.91h-18.4zM70.8 71.18h18.4v0.91h-18.4zM52.5 74.76h18.3v0.91h-18.3zM52.5 76.55h18.3v0.91h-18.3zM52.5 77.44h18.3v0.91h-18.3zM70.8 77.44h18.4v0.91h-18.4zM52.5 78.34h18.3v0.91h-18.3zM52.5 81.02h18.3v0.91h-18.3zM52.5 81.91h18.3v0.91h-18.3zM70.8 81.91h18.4v0.91h-18.4zM52.5 86.38h18.3v0.91h-18.3zM70.8 88.17h18.4v0.91h-18.4zM52.5 90.85h18.3v0.91h-18.3zM52.5 91.75h18.3v0.91h-18.3zM52.5 98.01h18.3v0.91h-18.3zM52.5 98.90h18.3v0.91h-18.3zM70.8 98.90h18.4v0.91h-18.4zM52.5 99.79h18.3v0.91h-18.3zM70.8 99.79h18.4v0.91h-18.4zM70.8 100.69h18.4v0.91h-18.4zM52.5 106.05h18.3v0.91h-18.3zM70.8 106.95h18.4v0.91h-18.4zM52.5 107.84h18.3v0.91h-18.3zM52.5 108.74h18.3v0.91h-18.3zM70.8 114.10h18.4v0.91h-18.4zM52.5 114.99h18.3v0.91h-18.3zM70.8 119.46h18.4v0.91h-18.4zM70.8 122.15h18.4v0.91h-18.4zM70.8 123.94h18.4v0.91h-18.4zM52.5 124.83h18.3v0.91h-18.3zM52.5 126.62h18.3v0.91h-18.3zM52.5 127.51h18.3v0.91h-18.3zM52.5 128.41h18.3v0.91h-18.3zM52.5 133.77h18.3v0.91h-18.3zM70.8 134.66h18.4v0.91h-18.4zM52.5 135.56h18.3v0.91h-18.3zM70.8 135.56h18.4v0.91h-18.4zM52.5 137.35h18.3v0.91h-18.3zM70.8 137.35h18.4v0.91h-18.4zM52.5 140.03h18.3v0.91h-18.3zM70.8 141.82h18.4v0.91h-18.4zM52.5 148.97h18.3v0.91h-18.3zM70.8 149.86h18.4v0.91h-18.4zM70.8 150.76h18.4v0.91h-18.4zM52.5 151.65h18.3v0.91h-18.3zM70.8 154.34h18.4v0.91h-18.4zM52.5 156.12h18.3v0.91h-18.3zM89.2 157.91h19.5v0.91h-19.5zM52.5 161.49h18.3v0.91h-18.3zM52.5 163.28h18.3v0.91h-18.3zM52.5 164.17h18.3v0.91h-18.3zM70.8 165.06h18.4v0.91h-18.4zM52.5 166.85h18.3v0.91h-18.3zM52.5 167.75h18.3v0.91h-18.3zM70.8 170.43h18.4v0.91h-18.4zM70.8 172.22h18.4v0.91h-18.4zM70.8 174.01h18.4v0.91h-18.4zM70.8 174.90h18.4v0.91h-18.4zM52.5 182.95h18.3v0.91h-18.3zM70.8 182.95h18.4v0.91h-18.4zM52.5 190.10h18.3v0.91h-18.3zM52.5 190.99h18.3v0.91h-18.3zM70.8 191.89h18.4v0.91h-18.4zM52.5 196.36h18.3v0.91h-18.3zM70.8 196.36h18.4v0.91h-18.4zM70.8 205.30h18.4v0.91h-18.4zM70.8 206.19h18.4v0.91h-18.4z" fill="#cc3434"/>
<path d="M70.8 70.29h18.4v0.91h-18.4zM70.8 74.76h18.4v0.91h-18.4zM52.5 75.65h18.3v0.91h-18.3zM70.8 78.34h18.4v0.91h-18.4zM70.8 83.70h18.4v0.91h-18.4zM70.8 86.38h18.4v0.91h-18.4zM70.8 92.64h18.4v0.91h-18.4zM52.5 94.43h18.3v0.91h-18.3zM52.5 103.37h18.3v0.91h-18.3zM52.5 110.52h18.3v0.91h-18.3zM70.8 110.52h18.4v0.91h-18.4zM70.8 113.21h18.4v0.91h-18.4zM70.8 117.68h18.4v0.91h-18.4zM70.8 124.83h18.4v0.91h-18.4zM70.8 126.62h18.4v0.91h-18.4zM52.5 131.09h18.3v0.91h-18.3zM70.8 132.88h18.4v0.91h-18.4zM70.8 136.45h18.4v0.91h-18.4zM52.5 139.14h18.3v0.91h-18.3zM70.8 145.39h18.4v0.91h-18.4zM52.5 146.29h18.3v0.91h-18.3zM108.7 146.29h19.6v0.91h-19.6zM52.5 150.76h18.3v0.91h-18.3zM52.5 152.55h18.3v0.91h-18.3zM70.8 156.12h18.4v0.91h-18.4zM70.8 161.49h18.4v0.91h-18.4zM52.5 162.38h18.3v0.91h-18.3zM70.8 164.17h18.4v0.91h-18.4zM70.8 167.75h18.4v0.91h-18.4zM70.8 173.11h18.4v0.91h-18.4zM52.5 174.01h18.3v0.91h-18.3zM70.8 176.69h18.4v0.91h-18.4zM70.8 177.58h18.4v0.91h-18.4zM70.8 190.10h18.4v0.91h-18.4zM52.5 194.57h18.3v0.91h-18.3zM52.5 195.46h18.3v0.91h-18.3zM52.5 203.51h18.3v0.91h-18.3zM108.7 206.19h19.6v0.91h-19.6z" fill="#c82626"/>
<rect x="52.50" y="68.50" width="114.50" height="152.00" fill="none" stroke="#111" stroke-width="1.2"/>
<line x1="89.20" y1="41.50" x2="89.20" y2="220.50" stroke="#111" stroke-width="1.1" />
<line x1="128.30" y1="60.00" x2="128.30" y2="220.50" stroke="#111" stroke-width="1.1" />
<text x="129.50" y="234.00" font-size="8.3" text-anchor="middle" fill="#333" >Etoposide</text>
<text x="176.50" y="129.20" font-size="8.3" fill="#333" >Fold</text>
<rect x="176.00" y="134.30" width="9.50" height="9.43" fill="#0366c0" stroke="#444" stroke-width="0.6"/>
<text x="189.50" y="141.52" font-size="7" font-weight="bold" fill="#222" >≤ -2</text>
<rect x="176.00" y="143.73" width="9.50" height="9.43" fill="#5f9fd6" stroke="#444" stroke-width="0.6"/>
<text x="188.50" y="150.95" font-size="7" font-weight="bold" fill="#222" >-1.5</text>
<rect x="176.00" y="153.17" width="9.50" height="9.43" fill="#b3d3ee" stroke="#444" stroke-width="0.6"/>
<text x="188.50" y="160.38" font-size="7" font-weight="bold" fill="#222" >-1.2</text>
<rect x="176.00" y="162.60" width="9.50" height="9.43" fill="#d9e8f5" stroke="#444" stroke-width="0.6"/>
<text x="188.50" y="169.82" font-size="7" font-weight="bold" fill="#222" >-1.1</text>
<rect x="176.00" y="172.03" width="9.50" height="9.43" fill="#ffffff" stroke="#444" stroke-width="0.6"/>
<text x="189.50" y="179.25" font-size="7" font-weight="bold" fill="#222" >±1</text>
<rect x="176.00" y="181.47" width="9.50" height="9.43" fill="#f5d9d9" stroke="#444" stroke-width="0.6"/>
<text x="189.50" y="188.68" font-size="7" font-weight="bold" fill="#222" >1.1</text>
<rect x="176.00" y="190.90" width="9.50" height="9.43" fill="#eeb7b7" stroke="#444" stroke-width="0.6"/>
<text x="189.50" y="198.12" font-size="7" font-weight="bold" fill="#222" >1.2</text>
<rect x="176.00" y="200.33" width="9.50" height="9.43" fill="#dd6767" stroke="#444" stroke-width="0.6"/>
<text x="189.50" y="207.55" font-size="7" font-weight="bold" fill="#222" >1.5</text>
<rect x="176.00" y="209.77" width="9.50" height="9.43" fill="#c00000" stroke="#444" stroke-width="0.6"/>
<text x="189.50" y="216.98" font-size="7" font-weight="bold" fill="#222" >≥ 2</text>
<rect x="176" y="134.3" width="9.5" height="84.90" fill="none" stroke="#222" stroke-width="0.8"/>
<text x="206.50" y="16.50" font-size="21" font-weight="bold" >b</text>
<text x="261.80" y="209.90" font-size="10" text-anchor="end" fill="#222" >0</text>
<text x="261.80" y="190.43" font-size="10" text-anchor="end" fill="#222" >1</text>
<line x1="270.00" y1="186.83" x2="410.00" y2="186.83" stroke="#d9d9d9" stroke-width="0.8" stroke-dasharray="2.6,2.4"/>
<text x="261.80" y="170.96" font-size="10" text-anchor="end" fill="#222" >2</text>
<line x1="270.00" y1="167.36" x2="410.00" y2="167.36" stroke="#d9d9d9" stroke-width="0.8" stroke-dasharray="2.6,2.4"/>
<text x="261.80" y="151.49" font-size="10" text-anchor="end" fill="#222" >3</text>
<line x1="270.00" y1="147.89" x2="410.00" y2="147.89" stroke="#d9d9d9" stroke-width="0.8" stroke-dasharray="2.6,2.4"/>
<text x="261.80" y="132.02" font-size="10" text-anchor="end" fill="#222" >4</text>
<line x1="270.00" y1="128.42" x2="410.00" y2="128.42" stroke="#d9d9d9" stroke-width="0.8" stroke-dasharray="2.6,2.4"/>
<text x="261.80" y="112.55" font-size="10" text-anchor="end" fill="#222" >5</text>
<line x1="270.00" y1="108.95" x2="410.00" y2="108.95" stroke="#d9d9d9" stroke-width="0.8" stroke-dasharray="2.6,2.4"/>
<text x="261.80" y="93.08" font-size="10" text-anchor="end" fill="#222" >6</text>
<line x1="270.00" y1="89.48" x2="410.00" y2="89.48" stroke="#d9d9d9" stroke-width="0.8" stroke-dasharray="2.6,2.4"/>
<text x="261.80" y="73.61" font-size="10" text-anchor="end" fill="#222" >7</text>
<line x1="270.00" y1="70.01" x2="410.00" y2="70.01" stroke="#d9d9d9" stroke-width="0.8" stroke-dasharray="2.6,2.4"/>
<text x="261.80" y="54.14" font-size="10" text-anchor="end" fill="#222" >8</text>
<line x1="270.00" y1="50.54" x2="410.00" y2="50.54" stroke="#d9d9d9" stroke-width="0.8" stroke-dasharray="2.6,2.4"/>
<text x="261.80" y="34.67" font-size="10" text-anchor="end" fill="#222" >9</text>
<line x1="270.00" y1="31.07" x2="410.00" y2="31.07" stroke="#d9d9d9" stroke-width="0.8" stroke-dasharray="2.6,2.4"/>
<text transform="translate(245.8,124.4) rotate(-90)" text-anchor="middle" font-size="10" font-weight="bold">ATAC signal</text>
<line x1="269.80" y1="206.60" x2="409.80" y2="206.60" stroke="#000" stroke-width="1.6" />
<line x1="270.40" y1="206.60" x2="270.40" y2="203.20" stroke="#000" stroke-width="1.3" />
<line x1="339.80" y1="206.60" x2="339.80" y2="203.20" stroke="#000" stroke-width="1.3" />
<line x1="409.20" y1="206.60" x2="409.20" y2="203.20" stroke="#000" stroke-width="1.3" />
<text x="277.90" y="221.60" font-size="9.8" text-anchor="middle" font-weight="bold" textLength="31.5" lengthAdjust="spacingAndGlyphs" >-500bp</text>
<text x="343.40" y="221.60" font-size="9.8" text-anchor="middle" font-weight="bold" textLength="72.5" lengthAdjust="spacingAndGlyphs" >p53 peak center</text>
<text x="409.80" y="221.60" font-size="9.8" text-anchor="middle" font-weight="bold" textLength="28.5" lengthAdjust="spacingAndGlyphs" >500bp</text>
<path d="M269.8,190.7 C271.2,190.3 275.7,188.3 278.1,188.1 C280.6,187.8 282.9,189.5 284.7,189.2 C286.5,188.9 286.9,186.7 289.1,186.1 C291.3,185.6 294.6,185.9 297.8,185.9 C301.1,185.9 305.5,186.6 308.8,186.1 C312.1,185.6 315.3,184.4 317.6,183.1 C319.8,181.7 320.7,181.2 322.4,178.2 C324.0,175.2 325.9,169.5 327.4,165.1 C328.9,160.7 330.0,157.1 331.3,152.0 C332.7,146.9 334.1,139.0 335.5,134.4 C336.9,129.9 338.3,124.8 339.7,124.8 C341.1,124.8 342.5,129.9 343.8,134.4 C345.2,139.0 346.5,146.9 347.8,152.0 C349.0,157.1 350.2,161.3 351.5,165.1 C352.7,168.9 353.9,172.6 355.2,175.0 C356.5,177.3 357.4,178.3 359.2,179.3 C360.9,180.4 363.5,181.2 365.7,181.1 C367.9,181.0 370.1,179.0 372.3,178.9 C374.5,178.8 376.7,180.0 378.9,180.4 C381.0,180.9 383.2,180.9 385.4,181.7 C387.6,182.5 389.8,183.9 392.0,185.2 C394.2,186.6 396.4,188.7 398.6,189.6 C400.8,190.6 403.3,190.8 405.1,190.9 C407.0,191.1 408.8,190.6 409.5,190.5" fill="none" stroke="#0070c0" stroke-width="2.6" />
<path d="M269.8,189.2 C271.0,188.7 274.6,186.3 277.0,186.1 C279.5,185.9 282.3,188.2 284.7,188.1 C287.1,187.9 288.7,185.6 291.3,185.2 C293.8,184.9 297.1,186.1 300.0,185.9 C303.0,185.7 305.9,185.0 308.8,183.9 C311.7,182.9 315.2,181.2 317.6,179.6 C319.9,177.9 321.4,176.8 323.0,173.9 C324.7,170.9 326.1,166.2 327.4,161.8 C328.7,157.4 329.7,152.9 330.7,147.6 C331.7,142.3 332.4,137.4 333.3,130.1 C334.2,122.8 335.1,112.6 336.2,103.8 C337.2,95.0 338.5,77.5 339.7,77.5 C340.8,77.5 342.1,95.0 343.2,103.8 C344.2,112.6 345.1,122.8 346.0,130.1 C346.9,137.4 347.7,142.5 348.6,147.6 C349.6,152.7 350.4,156.7 351.5,160.7 C352.6,164.7 353.6,169.1 355.2,171.7 C356.9,174.2 358.9,175.0 361.3,176.0 C363.8,177.1 367.5,177.4 370.1,177.8 C372.7,178.2 374.1,178.4 376.7,178.7 C379.2,178.9 382.9,178.7 385.4,179.3 C388.0,180.0 389.8,181.3 392.0,182.6 C394.2,183.9 396.4,185.7 398.6,187.0 C400.8,188.3 403.3,189.7 405.1,190.3 C407.0,190.9 408.8,190.5 409.5,190.5" fill="none" stroke="#c00000" stroke-width="2.6" />
<path d="M269.8,189.8 C271.0,189.4 274.6,187.3 277.0,187.0 C279.5,186.7 282.3,188.5 284.7,188.3 C287.1,188.1 288.7,186.3 291.3,185.7 C293.8,185.0 297.1,184.9 300.0,184.4 C303.0,183.9 305.9,183.6 308.8,182.6 C311.7,181.6 315.3,180.1 317.6,178.2 C319.8,176.4 320.7,175.0 322.4,171.7 C324.0,168.4 325.9,162.9 327.4,158.5 C328.9,154.2 330.0,150.5 331.1,145.4 C332.3,140.3 333.4,133.2 334.4,127.7 C335.4,122.2 336.3,116.6 337.3,112.4 C338.2,108.1 338.9,102.1 339.9,102.1 C340.8,102.1 342.0,108.1 343.0,112.4 C343.9,116.6 344.8,122.2 345.8,127.7 C346.7,133.2 347.6,139.9 348.6,145.4 C349.7,150.9 350.8,156.3 352.1,160.7 C353.5,165.1 354.8,169.1 356.5,171.7 C358.2,174.2 360.2,175.1 362.4,176.0 C364.7,177.0 367.7,177.2 370.1,177.6 C372.5,177.9 374.1,177.8 376.7,178.2 C379.2,178.7 382.9,179.5 385.4,180.4 C388.0,181.3 389.8,182.5 392.0,183.7 C394.2,184.9 396.4,186.7 398.6,187.7 C400.8,188.6 403.3,188.9 405.1,189.2 C407.0,189.5 408.8,189.6 409.5,189.6" fill="none" stroke="#7030a0" stroke-width="2.0" stroke-dasharray="1.6,2.2"/>
<path d="M269.8,189.8 C271.0,189.4 274.6,187.3 277.0,187.0 C279.5,186.7 282.3,188.5 284.7,188.3 C287.1,188.1 288.7,186.3 291.3,185.7 C293.8,185.0 297.1,184.9 300.0,184.4 C303.0,183.9 305.9,183.6 308.8,182.6 C311.7,181.6 315.3,180.1 317.6,178.2 C319.8,176.4 320.7,175.0 322.4,171.7 C324.0,168.4 325.9,162.9 327.4,158.5 C328.9,154.2 330.0,150.9 331.1,145.4 C332.3,139.9 333.4,131.5 334.4,125.7 C335.4,119.8 336.3,114.6 337.3,110.4 C338.2,106.1 338.9,100.1 339.9,100.1 C340.8,100.1 342.0,106.1 343.0,110.4 C343.9,114.6 344.8,119.8 345.8,125.7 C346.7,131.5 347.6,139.6 348.6,145.4 C349.7,151.2 350.8,156.3 352.1,160.7 C353.5,165.1 354.8,169.1 356.5,171.7 C358.2,174.2 360.2,175.1 362.4,176.0 C364.7,177.0 367.7,177.2 370.1,177.6 C372.5,177.9 374.1,177.8 376.7,178.2 C379.2,178.7 382.9,179.5 385.4,180.4 C388.0,181.3 389.8,182.5 392.0,183.7 C394.2,184.9 396.4,186.7 398.6,187.7 C400.8,188.6 403.3,188.9 405.1,189.2 C407.0,189.5 408.8,189.6 409.5,189.6" fill="none" stroke="#92d050" stroke-width="2.4" stroke-dasharray="4,2" stroke-dashoffset="1"/>
<rect x="359.40" y="35.30" width="77.10" height="60.00" fill="#fff" stroke="#444" stroke-width="0.8"/>
<line x1="365.20" y1="45.40" x2="376.40" y2="45.40" stroke="#0070c0" stroke-width="2.4" />
<text x="378.70" y="48.50" font-size="8.5" >WT DMSO</text>
<line x1="365.20" y1="58.90" x2="376.40" y2="58.90" stroke="#c00000" stroke-width="2.4" />
<text x="378.70" y="62.00" font-size="8.5" >WT</text>
<line x1="365.20" y1="72.60" x2="376.40" y2="72.60" stroke="#7030a0" stroke-width="2.2" stroke-dasharray="1.8,1.8"/>
<text x="378.70" y="75.70" font-size="8.5" >DAXX_KO</text>
<line x1="365.20" y1="86.60" x2="376.40" y2="86.60" stroke="#92d050" stroke-width="2.2" stroke-dasharray="1.8,1.8"/>
<text x="378.70" y="89.70" font-size="8.5" >ATRX_KO</text>
<line x1="421.30" y1="52.00" x2="421.30" y2="91.00" stroke="#444" stroke-width="0.7" />
<text transform="translate(430.4,71.6) rotate(-90)" text-anchor="middle" font-size="8.5">Etoposide</text>
<text x="451.50" y="17.50" font-size="21" font-weight="bold" >c</text>
<line x1="520.20" y1="31.40" x2="520.20" y2="195.70" stroke="#d9d9d9" stroke-width="0.7" stroke-dasharray="2.5,2"/>
<line x1="547.80" y1="31.40" x2="547.80" y2="195.70" stroke="#d9d9d9" stroke-width="0.7" stroke-dasharray="2.5,2"/>
<line x1="575.40" y1="31.40" x2="575.40" y2="195.70" stroke="#d9d9d9" stroke-width="0.7" stroke-dasharray="2.5,2"/>
<line x1="603.00" y1="31.40" x2="603.00" y2="195.70" stroke="#d9d9d9" stroke-width="0.7" stroke-dasharray="2.5,2"/>
<line x1="630.60" y1="31.40" x2="630.60" y2="195.70" stroke="#d9d9d9" stroke-width="0.7" stroke-dasharray="2.5,2"/>
<line x1="492.60" y1="179.18" x2="658.40" y2="179.18" stroke="#d9d9d9" stroke-width="0.7" stroke-dasharray="2.5,2"/>
<line x1="492.60" y1="162.76" x2="658.40" y2="162.76" stroke="#d9d9d9" stroke-width="0.7" stroke-dasharray="2.5,2"/>
<line x1="492.60" y1="146.34" x2="658.40" y2="146.34" stroke="#d9d9d9" stroke-width="0.7" stroke-dasharray="2.5,2"/>
<line x1="492.60" y1="129.92" x2="658.40" y2="129.92" stroke="#d9d9d9" stroke-width="0.7" stroke-dasharray="2.5,2"/>
<line x1="492.60" y1="113.50" x2="658.40" y2="113.50" stroke="#d9d9d9" stroke-width="0.7" stroke-dasharray="2.5,2"/>
<line x1="492.60" y1="97.08" x2="658.40" y2="97.08" stroke="#d9d9d9" stroke-width="0.7" stroke-dasharray="2.5,2"/>
<line x1="492.60" y1="80.66" x2="658.40" y2="80.66" stroke="#d9d9d9" stroke-width="0.7" stroke-dasharray="2.5,2"/>
<line x1="492.60" y1="64.24" x2="658.40" y2="64.24" stroke="#d9d9d9" stroke-width="0.7" stroke-dasharray="2.5,2"/>
<line x1="492.60" y1="47.82" x2="658.40" y2="47.82" stroke="#d9d9d9" stroke-width="0.7" stroke-dasharray="2.5,2"/>
<rect x="492.6" y="31.4" width="165.8" height="164.3" fill="none" stroke="#7f7f7f" stroke-width="1"/>
<line x1="492.60" y1="31.40" x2="492.60" y2="196.00" stroke="#555" stroke-width="1.1" />
<line x1="492.30" y1="195.70" x2="658.40" y2="195.70" stroke="#555" stroke-width="1.1" />
<line x1="489.50" y1="195.60" x2="492.60" y2="195.60" stroke="#555" stroke-width="1" />
<text x="486.60" y="198.70" font-size="8.6" text-anchor="end" fill="#222" >-9</text>
<line x1="489.50" y1="179.18" x2="492.60" y2="179.18" stroke="#555" stroke-width="1" />
<text x="486.60" y="182.28" font-size="8.6" text-anchor="end" fill="#222" >-8</text>
<line x1="489.50" y1="162.76" x2="492.60" y2="162.76" stroke="#555" stroke-width="1" />
<text x="486.60" y="165.86" font-size="8.6" text-anchor="end" fill="#222" >-7</text>
<line x1="489.50" y1="146.34" x2="492.60" y2="146.34" stroke="#555" stroke-width="1" />
<text x="486.60" y="149.44" font-size="8.6" text-anchor="end" fill="#222" >-6</text>
<line x1="489.50" y1="129.92" x2="492.60" y2="129.92" stroke="#555" stroke-width="1" />
<text x="486.60" y="133.02" font-size="8.6" text-anchor="end" fill="#222" >-5</text>
<line x1="489.50" y1="113.50" x2="492.60" y2="113.50" stroke="#555" stroke-width="1" />
<text x="486.60" y="116.60" font-size="8.6" text-anchor="end" fill="#222" >-4</text>
<line x1="489.50" y1="97.08" x2="492.60" y2="97.08" stroke="#555" stroke-width="1" />
<text x="486.60" y="100.18" font-size="8.6" text-anchor="end" fill="#222" >-3</text>
<line x1="489.50" y1="80.66" x2="492.60" y2="80.66" stroke="#555" stroke-width="1" />
<text x="486.60" y="83.76" font-size="8.6" text-anchor="end" fill="#222" >-2</text>
<line x1="489.50" y1="64.24" x2="492.60" y2="64.24" stroke="#555" stroke-width="1" />
<text x="486.60" y="67.34" font-size="8.6" text-anchor="end" fill="#222" >-1</text>
<line x1="489.50" y1="47.82" x2="492.60" y2="47.82" stroke="#555" stroke-width="1" />
<text x="486.60" y="50.92" font-size="8.6" text-anchor="end" fill="#222" >0</text>
<line x1="489.50" y1="31.40" x2="492.60" y2="31.40" stroke="#555" stroke-width="1" />
<text x="486.60" y="34.50" font-size="8.6" text-anchor="end" fill="#222" >1</text>
<line x1="492.60" y1="195.70" x2="492.60" y2="198.80" stroke="#555" stroke-width="1" />
<text x="491.10" y="206.90" font-size="8.6" text-anchor="middle" fill="#222" >-4</text>
<line x1="520.20" y1="195.70" x2="520.20" y2="198.80" stroke="#555" stroke-width="1" />
<text x="518.70" y="206.90" font-size="8.6" text-anchor="middle" fill="#222" >-3</text>
<line x1="547.80" y1="195.70" x2="547.80" y2="198.80" stroke="#555" stroke-width="1" />
<text x="546.30" y="206.90" font-size="8.6" text-anchor="middle" fill="#222" >-2</text>
<line x1="575.40" y1="195.70" x2="575.40" y2="198.80" stroke="#555" stroke-width="1" />
<text x="573.90" y="206.90" font-size="8.6" text-anchor="middle" fill="#222" >-1</text>
<line x1="603.00" y1="195.70" x2="603.00" y2="198.80" stroke="#555" stroke-width="1" />
<text x="603.00" y="206.90" font-size="8.6" text-anchor="middle" fill="#222" >0</text>
<line x1="630.60" y1="195.70" x2="630.60" y2="198.80" stroke="#555" stroke-width="1" />
<text x="630.60" y="206.90" font-size="8.6" text-anchor="middle" fill="#222" >1</text>
<line x1="658.20" y1="195.70" x2="658.20" y2="198.80" stroke="#555" stroke-width="1" />
<text x="658.20" y="206.90" font-size="8.6" text-anchor="middle" fill="#222" >2</text>
<text transform="translate(475.8,113.5) rotate(-90)" text-anchor="middle" font-size="7.9" font-weight="bold" fill="#111" textLength="105" lengthAdjust="spacingAndGlyphs">p53 DAXX KO vs WT, log2 ratio</text>
<text x="575.40" y="217.00" font-size="7.9" text-anchor="middle" font-weight="bold" fill="#111" textLength="146.5" lengthAdjust="spacingAndGlyphs" >ATAC: DAXX &amp; ATRX KO vs WT, log2 ratio</text>
<path d="M590.7 74.3h0M616.5 71.5h0M589.5 80.0h0M610.5 56.0h0M590.8 93.5h0M613.1 61.9h0M622.7 51.2h0M603.8 75.2h0M634.7 59.7h0M595.8 89.2h0M606.0 69.2h0M600.9 74.2h0M608.1 61.9h0M617.6 62.6h0M584.2 73.9h0M588.5 81.8h0M587.8 80.1h0M595.9 73.6h0M614.7 81.7h0M601.6 65.5h0M603.9 67.8h0M606.1 82.4h0M611.5 77.5h0M626.6 66.3h0M612.9 67.4h0M616.0 72.8h0M616.5 67.0h0M619.6 56.9h0M606.6 79.6h0M613.8 61.6h0M624.0 66.2h0M611.4 62.4h0M608.2 67.4h0M607.0 77.3h0M593.2 82.0h0M611.8 50.6h0M616.3 53.6h0M613.9 58.9h0M607.1 61.5h0M625.5 64.8h0M596.9 53.0h0M607.8 58.9h0M615.1 79.4h0M607.0 61.8h0M606.4 80.9h0M603.6 67.8h0M617.9 56.8h0M605.6 55.6h0M596.1 66.8h0M617.8 68.3h0M584.2 92.4h0M607.7 64.0h0M622.9 73.9h0M605.0 64.0h0M603.1 99.6h0M616.6 76.1h0M600.2 71.3h0M633.8 49.8h0M606.2 52.9h0M604.0 50.6h0M597.0 80.9h0M613.3 50.9h0M612.5 64.2h0M583.8 90.3h0M597.9 81.2h0M611.7 71.9h0M614.1 65.9h0M601.1 72.1h0M609.9 59.1h0M599.4 76.9h0M589.1 61.0h0M621.8 65.0h0M599.4 88.5h0M606.9 68.1h0M630.2 55.9h0M595.9 104.1h0M621.3 61.0h0M586.3 78.8h0M617.9 58.3h0M602.9 97.1h0M603.5 90.1h0M611.8 92.6h0M594.4 62.8h0M624.0 75.4h0M587.2 70.4h0M614.8 77.8h0M596.9 83.5h0M591.1 86.3h0M619.4 56.2h0M628.8 60.4h0M603.4 83.6h0M603.5 87.3h0M584.3 73.9h0M621.6 53.4h0M620.4 60.8h0M596.6 74.7h0M600.6 86.4h0M585.3 98.4h0M604.9 69.8h0M599.4 57.8h0M607.0 63.7h0M619.1 73.8h0M582.1 74.4h0M597.0 60.4h0M608.8 57.9h0M613.8 90.9h0M613.3 75.0h0M596.2 80.9h0M613.8 56.8h0M616.7 84.6h0M598.1 102.2h0M603.7 65.2h0M596.1 73.1h0M607.6 58.5h0M595.4 85.8h0M596.1 55.8h0M617.6 66.5h0M607.5 68.8h0M607.3 72.7h0M601.1 87.9h0M597.5 56.3h0M611.2 67.6h0M602.4 72.0h0M609.0 76.8h0M607.2 67.6h0M596.3 84.9h0M593.4 89.6h0M615.2 93.4h0M601.8 80.1h0M597.7 74.0h0M618.0 64.0h0M603.3 79.3h0M603.4 61.7h0M600.4 87.0h0M590.3 91.6h0M588.8 67.0h0M609.0 72.1h0M621.9 70.5h0M613.7 57.9h0M587.0 98.4h0M594.2 66.5h0M620.0 78.0h0M617.1 69.7h0M600.4 80.1h0M601.2 94.3h0M593.3 91.5h0M585.0 86.2h0M594.0 54.2h0M611.6 76.5h0M615.8 59.8h0M586.1 87.1h0M602.2 72.7h0M606.5 74.6h0M607.1 77.1h0M594.5 59.3h0M609.1 64.3h0M586.4 82.7h0M614.4 81.5h0M617.7 69.5h0M609.6 70.6h0M607.5 56.4h0M600.3 55.9h0M595.9 86.8h0M613.2 79.6h0M600.6 63.2h0M619.0 84.8h0M618.8 67.2h0M598.0 78.4h0M591.6 81.3h0M602.8 74.2h0M618.6 67.2h0M588.0 67.9h0M592.5 82.9h0M603.4 76.2h0M593.3 80.2h0M630.3 65.6h0M603.4 59.4h0M613.6 58.3h0M614.9 89.0h0M594.9 75.1h0M610.7 53.7h0M610.4 71.5h0M605.4 73.7h0M607.8 62.3h0M601.0 82.8h0M595.0 63.9h0M619.8 52.6h0M614.9 56.9h0M604.9 63.9h0M592.7 80.0h0M596.4 67.4h0M598.2 76.1h0M609.6 53.6h0M595.8 86.9h0M614.4 79.4h0M610.2 75.4h0M603.7 93.0h0M613.2 73.0h0M594.5 52.9h0M609.7 73.1h0M606.2 52.4h0M604.6 66.4h0M610.9 78.9h0M606.4 76.5h0M590.5 68.8h0M612.6 66.7h0M594.4 99.8h0M610.6 69.8h0M585.4 82.0h0M587.3 80.7h0M606.6 66.6h0M607.4 68.2h0M591.7 82.6h0M599.0 77.2h0M608.1 62.8h0M623.9 91.4h0M609.6 71.4h0M631.3 47.4h0M585.8 76.5h0M598.9 63.1h0M592.7 78.8h0M603.4 73.4h0M598.2 96.0h0M610.3 57.3h0M604.1 83.6h0M607.3 63.8h0M602.9 72.7h0M621.3 76.1h0M598.5 96.6h0M596.8 84.1h0M593.8 85.1h0M625.8 63.2h0M604.2 91.8h0M609.6 79.9h0M623.9 76.2h0M598.2 93.3h0M606.1 82.6h0M604.2 76.2h0M597.8 64.2h0M615.8 65.3h0M594.5 89.1h0M599.6 83.2h0M596.8 88.2h0M593.7 79.5h0M621.6 63.1h0M599.0 93.0h0M607.4 70.5h0M590.7 91.2h0M604.4 60.1h0M612.2 65.4h0M601.2 69.7h0M591.8 82.3h0M619.6 67.1h0M621.4 63.6h0M606.6 74.9h0M588.9 90.7h0M630.6 51.1h0M612.0 57.0h0M611.5 56.4h0M601.8 75.6h0M616.3 69.8h0M589.5 81.9h0M598.6 67.6h0M596.6 87.9h0M601.1 55.6h0M604.4 69.9h0M605.0 68.0h0M615.7 50.0h0M585.9 65.5h0M604.9 75.2h0M632.7 59.4h0M627.5 48.9h0M593.0 71.9h0M613.5 68.6h0M577.9 89.1h0M602.7 85.3h0M626.1 63.6h0M600.4 77.2h0M595.8 85.0h0M606.0 67.3h0M599.1 75.5h0M588.8 73.6h0M596.2 73.4h0M594.4 82.7h0M607.4 84.1h0M633.6 57.4h0M604.1 80.3h0M608.4 85.4h0M599.1 67.3h0M599.0 88.1h0M591.2 87.3h0M605.1 78.8h0M625.5 73.0h0M608.9 68.5h0M603.3 60.3h0M601.1 77.2h0M600.6 74.8h0M619.8 55.0h0M589.4 84.4h0M595.7 66.8h0M607.5 59.9h0M604.2 93.8h0M610.2 66.2h0M610.8 83.5h0M605.9 78.9h0M597.0 71.4h0M609.0 79.7h0M585.1 109.9h0M598.3 61.9h0M604.3 97.7h0M594.9 71.7h0M624.3 48.2h0M609.2 67.1h0M592.7 82.9h0M601.1 82.3h0M605.7 75.6h0M608.8 53.0h0M613.5 62.3h0M602.1 90.4h0M603.6 65.9h0M593.2 63.0h0M601.1 69.2h0M601.1 87.8h0M628.9 72.7h0M615.6 72.5h0M608.2 79.1h0M600.1 63.3h0M627.5 69.8h0M605.0 60.5h0M597.6 67.0h0M595.8 69.1h0M610.0 55.0h0M609.1 83.1h0M612.6 80.2h0M613.6 49.7h0M611.8 74.3h0M618.8 62.6h0M590.5 82.8h0M621.4 66.6h0M606.3 74.7h0M585.4 87.2h0M609.1 67.0h0M602.9 97.0h0M619.1 56.0h0M616.8 50.5h0M599.8 81.0h0M608.6 50.4h0M585.4 84.0h0M596.6 69.2h0M621.9 66.3h0M590.6 78.2h0M601.6 90.9h0M615.2 72.3h0M612.9 82.6h0M617.6 81.6h0M617.1 86.1h0M620.9 67.7h0M586.9 83.3h0M608.8 80.9h0M599.2 71.3h0M603.0 107.7h0M599.9 69.1h0M608.4 58.1h0M614.2 63.2h0M617.5 54.1h0M606.1 78.0h0M616.8 60.6h0M583.0 95.3h0M610.3 67.5h0M608.2 62.5h0M606.6 52.4h0M598.1 79.5h0M608.7 61.0h0M614.1 49.8h0M599.4 60.9h0M610.4 80.7h0M603.3 48.3h0M614.0 72.3h0M577.1 94.0h0M596.8 74.7h0M631.7 49.4h0M608.6 80.4h0M591.2 80.8h0M600.2 80.9h0M618.0 64.0h0M590.6 63.9h0M601.3 88.6h0M608.7 64.0h0M601.0 65.4h0M614.4 76.8h0M581.1 111.0h0M603.4 58.1h0M616.6 49.6h0M626.4 60.4h0M617.2 82.9h0M612.9 62.9h0M603.8 77.1h0M592.0 76.4h0M619.7 68.2h0M611.1 76.0h0M607.9 81.6h0M609.3 71.8h0M608.6 76.6h0M591.3 82.1h0M616.9 47.2h0M601.2 64.2h0M613.7 62.5h0M586.9 76.8h0M593.7 63.6h0M614.1 59.8h0M575.5 79.2h0M613.0 82.1h0M616.2 64.9h0M602.8 80.7h0M593.1 82.4h0M607.3 77.7h0M597.8 81.4h0M594.7 66.6h0M601.8 63.1h0M591.5 67.6h0M604.6 64.0h0M603.7 82.3h0M619.0 69.4h0M603.2 82.5h0M607.3 74.8h0M608.2 65.9h0M596.9 91.7h0M609.9 58.4h0M613.0 80.6h0M611.9 63.5h0M608.2 64.9h0M601.2 70.9h0M615.7 71.8h0M588.2 81.1h0M607.2 91.5h0M597.1 68.7h0M603.2 71.3h0M590.3 68.4h0M625.3 63.5h0M596.4 89.1h0M615.3 65.1h0M595.7 62.2h0M613.8 60.1h0M584.5 83.0h0M612.2 81.9h0M615.7 49.6h0M616.9 73.7h0M596.7 64.8h0M616.5 51.5h0M618.8 65.6h0M600.2 95.2h0M599.6 79.7h0M612.5 63.4h0M589.0 87.7h0M592.2 54.7h0M596.6 65.9h0M590.6 82.7h0M596.5 79.1h0M611.4 82.4h0M620.5 48.7h0M599.0 50.7h0M605.8 56.1h0M608.5 76.1h0M600.5 75.1h0M612.1 66.4h0M632.3 59.9h0M599.5 82.5h0M595.9 92.6h0M593.5 66.8h0M605.6 73.1h0M609.0 57.1h0M612.1 59.0h0M598.4 77.8h0M595.9 77.1h0M595.5 80.5h0M602.9 75.0h0M601.8 78.7h0M620.1 67.7h0M593.2 75.2h0M592.3 90.2h0M605.9 90.1h0M567.6 87.0h0M616.9 84.6h0M594.5 70.1h0M581.9 93.2h0M591.0 80.8h0M582.1 72.8h0M603.3 68.8h0M601.1 97.8h0M603.2 87.8h0M605.0 81.2h0M601.3 75.8h0M613.9 58.1h0M593.3 77.6h0M621.9 57.2h0M596.5 77.1h0M600.9 62.7h0M605.3 67.0h0M630.6 74.4h0M593.2 97.3h0M586.5 71.0h0M608.3 51.0h0M582.0 93.2h0M621.7 51.2h0M615.2 56.3h0M605.3 71.4h0M605.3 61.6h0M603.0 68.7h0M621.8 75.9h0M596.2 69.4h0M601.9 74.8h0M629.3 54.4h0M600.1 61.3h0M634.1 69.5h0M597.2 74.1h0M597.6 50.2h0M611.0 73.0h0M610.6 77.7h0M597.9 73.8h0M632.6 83.3h0M609.8 53.5h0M610.2 67.2h0M603.4 82.1h0M623.9 75.5h0M603.5 78.2h0M595.8 101.6h0M600.5 72.1h0M606.6 60.9h0M603.1 79.8h0M608.5 62.0h0M594.5 94.2h0M593.0 65.3h0M616.5 75.8h0M606.2 61.2h0M620.3 71.3h0M602.2 56.7h0M591.7 73.0h0M601.5 73.9h0M597.2 80.9h0M604.8 50.8h0M613.0 62.5h0M605.2 79.9h0M602.3 58.6h0M608.0 70.2h0M586.2 76.4h0M585.0 64.0h0M597.6 75.2h0M589.3 85.1h0M594.1 63.9h0M607.8 83.6h0M582.5 83.6h0M599.3 87.1h0M611.8 70.1h0M606.2 77.6h0M598.3 80.1h0M586.4 73.6h0M609.6 88.9h0M606.1 57.6h0M607.7 55.2h0M601.8 73.0h0M589.9 89.5h0M583.8 92.4h0M607.8 64.1h0M618.4 63.2h0M593.5 72.3h0M603.2 51.8h0M627.6 49.0h0M591.8 84.2h0M607.1 78.5h0M611.0 60.5h0M614.6 63.9h0M594.7 86.3h0M603.5 56.9h0M623.2 51.0h0M609.1 61.6h0M614.5 51.8h0M614.9 84.1h0M616.0 61.5h0M599.6 68.1h0M608.3 70.4h0M585.4 80.1h0M611.4 68.8h0M586.5 75.5h0M613.3 65.2h0M609.9 73.0h0M597.3 69.3h0M600.8 71.5h0M606.5 89.3h0M606.0 62.2h0M596.8 78.3h0M578.8 78.3h0M598.0 67.1h0M620.7 65.3h0M616.3 62.8h0M602.6 75.9h0M595.1 61.7h0M615.1 77.9h0M614.7 74.9h0M587.5 66.5h0M590.1 65.4h0M607.2 59.9h0M610.9 55.2h0M609.0 62.8h0M607.8 57.4h0M600.4 62.1h0M622.4 63.4h0M610.0 74.8h0M601.6 70.2h0M601.0 83.7h0M604.6 69.4h0M608.7 61.4h0M584.4 65.6h0M602.9 81.4h0M600.6 68.6h0M615.0 70.6h0M606.8 88.9h0M606.9 71.8h0M599.9 63.8h0M625.7 49.1h0M595.9 58.5h0M601.1 73.9h0M598.2 69.6h0M611.3 66.6h0M602.5 74.4h0M600.3 62.7h0M598.9 76.2h0M602.5 81.3h0M602.3 89.6h0M609.7 62.9h0M601.5 55.4h0M595.4 69.9h0M610.5 74.8h0M602.1 62.7h0M605.6 67.9h0M621.1 60.8h0M585.6 89.6h0M614.6 68.1h0M592.5 100.4h0M608.7 52.4h0M590.5 103.6h0M610.7 74.8h0M601.5 76.9h0M594.5 71.7h0M615.5 61.9h0M598.5 62.8h0M603.7 65.5h0M594.2 69.4h0M613.5 52.4h0M605.3 66.2h0M598.3 64.7h0M613.9 54.6h0M600.5 87.6h0M604.2 74.2h0M596.4 68.9h0M615.8 61.5h0M617.7 60.5h0M593.7 83.8h0M600.9 65.7h0M615.5 64.6h0M616.6 74.9h0M603.6 55.1h0M610.0 57.0h0M583.3 101.3h0M595.1 65.0h0M623.6 69.0h0M593.7 88.6h0M594.7 70.3h0M601.4 51.9h0M613.2 75.0h0M607.7 71.8h0M614.0 56.6h0M601.0 63.3h0M611.5 69.1h0M607.9 62.2h0M601.3 80.9h0M619.5 64.0h0M598.2 69.6h0M588.1 79.3h0M589.4 84.1h0M584.6 89.8h0M615.2 68.3h0M591.1 58.8h0M597.8 58.3h0M599.0 91.0h0M626.0 65.6h0M613.6 53.6h0M590.0 78.1h0M598.4 67.9h0M604.8 85.7h0M605.6 62.4h0M601.6 66.7h0M598.9 75.0h0M609.0 67.8h0M619.4 53.4h0M614.6 58.4h0M606.8 83.6h0M607.6 72.9h0M604.6 58.0h0M608.3 80.8h0M603.1 81.0h0M602.7 82.6h0M595.1 59.7h0M616.9 83.4h0M593.9 82.0h0M600.6 89.1h0M615.1 84.4h0M612.9 59.5h0M600.9 80.8h0M605.7 69.3h0M581.2 97.5h0M611.0 69.5h0M600.3 84.9h0M597.0 84.0h0M622.4 57.2h0M607.4 67.9h0M600.7 55.4h0M610.8 68.7h0M603.6 69.8h0M592.1 81.5h0M598.0 67.9h0M611.8 88.8h0M602.5 61.5h0M590.4 92.0h0M616.4 67.1h0M599.9 87.6h0M607.0 76.6h0M607.4 65.3h0M613.0 70.9h0M599.1 74.0h0M603.9 70.0h0M599.0 77.0h0M598.4 81.3h0M606.8 57.5h0M599.0 67.8h0M608.9 68.1h0M612.7 73.7h0M611.4 64.7h0M565.5 87.3h0M593.0 76.3h0M609.0 80.2h0M618.6 59.4h0M596.0 89.4h0M600.3 47.0h0M629.5 86.8h0M584.4 74.3h0M603.8 79.1h0M611.9 66.8h0M608.3 66.7h0M592.7 62.8h0M599.8 61.2h0M612.9 66.9h0M606.6 71.1h0M584.1 85.6h0M609.9 87.0h0M588.1 67.7h0M614.2 84.1h0M610.3 69.2h0M616.1 69.4h0M602.5 81.1h0M607.1 71.7h0M597.6 79.0h0M596.4 68.7h0M593.3 94.9h0M594.0 64.7h0M599.2 67.0h0M613.4 72.9h0M613.6 61.3h0M604.5 79.6h0M604.3 86.2h0M601.9 79.5h0M610.0 65.0h0M597.7 65.3h0M618.6 63.8h0M596.5 69.9h0M577.1 92.1h0M596.6 58.3h0M578.0 72.5h0M607.2 58.8h0M603.0 79.4h0M602.4 55.7h0M614.6 69.9h0M609.4 59.4h0M611.5 68.6h0M597.4 83.6h0M600.0 80.2h0M586.9 96.6h0M615.0 79.1h0M589.9 79.5h0M621.6 48.7h0M600.2 85.6h0M598.8 84.9h0M598.7 69.1h0M592.7 86.5h0M602.0 73.2h0M596.1 84.9h0M592.0 86.6h0M611.0 71.2h0M569.2 82.5h0M604.2 81.8h0M602.0 107.5h0M585.9 67.8h0M596.5 75.3h0M613.9 81.0h0M625.1 69.5h0M609.0 82.5h0M609.2 69.5h0M617.5 78.3h0M604.8 50.7h0M591.2 74.4h0M610.0 74.6h0M601.9 56.8h0M618.1 58.3h0M608.0 82.9h0M606.0 50.3h0M617.1 80.9h0M580.9 91.2h0M606.9 76.8h0M601.4 69.3h0M615.3 63.8h0M619.4 80.5h0M610.4 63.8h0M587.7 65.8h0M586.4 97.5h0M609.3 53.7h0M618.3 77.7h0M610.6 52.5h0M603.1 71.6h0M599.5 65.7h0M598.5 81.5h0M590.7 89.4h0M607.5 64.7h0M600.4 85.8h0M608.9 65.3h0M619.8 69.7h0M600.1 68.0h0M622.7 63.1h0M604.0 82.8h0M600.5 62.8h0M614.9 53.5h0M585.8 71.4h0M594.2 70.0h0M577.3 86.6h0M594.6 61.9h0M606.4 55.7h0M599.8 51.3h0M599.8 52.1h0M599.3 85.7h0M615.4 70.8h0M604.3 87.4h0M600.9 72.2h0M596.7 71.1h0M578.1 74.7h0M600.2 56.8h0M600.8 81.1h0M599.7 70.9h0M611.9 73.3h0M595.6 71.2h0M614.6 86.8h0M592.7 85.5h0M625.0 47.0h0M614.3 61.0h0M591.8 65.0h0M599.8 83.3h0M627.6 76.8h0M621.2 60.9h0M594.2 74.8h0M595.1 74.3h0M597.4 89.1h0M616.5 66.1h0M612.9 82.1h0M592.7 115.7h0M616.7 60.3h0M591.2 68.7h0M607.7 59.4h0M612.2 58.8h0M604.7 76.4h0M613.3 52.8h0M591.3 91.6h0M604.5 50.7h0M602.5 92.4h0M614.5 57.8h0M627.8 57.7h0M628.1 68.1h0M615.6 64.5h0M591.0 81.7h0M620.6 50.5h0M600.5 60.7h0M615.6 55.6h0M608.4 66.1h0M595.3 77.1h0M606.4 79.2h0M601.6 71.2h0M607.5 57.8h0M592.9 82.1h0M608.2 74.2h0M608.9 74.9h0M618.8 67.0h0M591.7 69.4h0M624.5 83.9h0M603.5 71.3h0M617.1 47.9h0M603.1 90.4h0M612.8 55.7h0M610.4 67.7h0M595.5 47.8h0M590.9 96.0h0M616.5 62.2h0M612.9 63.2h0M598.6 63.0h0M591.2 98.2h0M619.1 69.2h0M579.8 84.3h0M597.2 69.4h0M604.3 80.6h0M596.6 66.7h0M594.1 75.4h0M593.4 72.0h0M625.9 54.2h0M618.1 59.5h0M593.7 80.6h0M605.8 65.8h0M597.9 67.8h0M596.6 74.9h0M604.9 84.8h0M616.8 64.8h0M606.3 71.1h0M580.4 100.1h0M594.5 65.1h0M598.3 67.7h0M593.0 87.2h0M599.5 61.8h0M585.6 83.2h0M609.8 67.4h0M604.8 62.4h0M608.4 81.3h0M612.4 76.7h0M601.0 56.5h0M610.0 77.8h0M596.1 56.5h0M608.9 85.5h0M623.4 55.3h0M620.4 58.9h0M579.8 92.6h0M603.3 74.1h0M622.7 70.2h0M603.9 72.6h0M603.9 83.9h0M590.7 108.5h0M608.9 71.7h0M607.4 82.4h0M605.0 82.6h0M593.2 73.4h0M612.4 60.9h0M604.5 76.1h0M621.3 48.7h0M597.6 87.7h0M609.3 65.5h0M594.3 50.3h0M580.6 93.4h0M607.8 58.5h0M583.3 87.4h0M602.0 72.4h0M594.7 72.0h0M592.8 101.1h0M587.2 79.7h0M589.6 66.3h0M620.0 52.2h0M612.6 54.4h0M608.1 59.7h0M610.5 59.5h0M593.1 85.0h0M593.3 67.7h0M610.9 77.5h0M593.5 83.9h0M615.2 67.5h0M602.2 80.8h0M603.6 53.6h0M597.0 79.5h0M624.8 53.0h0M591.7 65.5h0M590.3 72.3h0M575.5 97.8h0M615.7 72.8h0M596.6 75.0h0M605.0 76.8h0M597.1 54.5h0M622.4 58.7h0M591.6 84.3h0M601.6 67.4h0M623.7 67.9h0M606.7 75.5h0M606.7 78.5h0M609.4 55.7h0M600.4 77.5h0M606.4 85.9h0M626.2 76.2h0M600.8 83.7h0M622.5 68.1h0M599.1 52.5h0M603.6 81.1h0M604.9 69.1h0M596.3 77.9h0M602.6 64.2h0M614.0 57.2h0M603.6 62.8h0M602.5 59.2h0M609.7 73.9h0M619.4 81.6h0M593.7 86.3h0M603.5 86.3h0M591.0 100.3h0M606.4 79.6h0M630.6 49.5h0M591.7 62.8h0M606.3 58.2h0M592.1 64.5h0M617.8 69.7h0M595.1 80.7h0M602.5 76.4h0M609.3 72.3h0M599.6 76.5h0M614.9 67.1h0M607.8 73.0h0M602.8 76.3h0M619.8 61.2h0M622.5 64.5h0M617.4 81.1h0M600.3 74.4h0M597.6 76.4h0M594.2 78.7h0M597.2 75.3h0M601.6 84.6h0M600.3 73.4h0M590.2 77.7h0M619.6 66.6h0M611.4 60.9h0M595.7 60.8h0M634.3 68.4h0M630.0 66.9h0M622.0 83.7h0M618.3 63.0h0M590.1 88.4h0M592.8 87.9h0M609.4 71.2h0M575.8 89.7h0M610.5 67.6h0M624.7 82.6h0M607.9 69.6h0M613.4 82.6h0M589.8 81.0h0M605.9 91.8h0M609.3 69.3h0M613.6 97.2h0M610.9 78.7h0M599.5 65.1h0M624.7 59.6h0M603.7 56.9h0M594.6 78.4h0M599.1 85.7h0M607.9 64.1h0M604.6 58.5h0M607.1 80.5h0M606.2 54.1h0M604.0 58.0h0M604.2 48.3h0M608.3 62.1h0M601.6 63.4h0M602.4 89.8h0M608.6 83.5h0M622.3 53.5h0M605.2 63.3h0M574.8 68.9h0M597.4 67.4h0M600.2 69.8h0M609.9 88.4h0M594.2 59.6h0M598.0 68.5h0M589.0 90.0h0M583.8 79.0h0M618.5 63.4h0M601.8 70.2h0M610.5 71.9h0M630.9 64.9h0M590.3 56.6h0M616.5 51.5h0M612.1 70.4h0M616.4 52.6h0M618.7 76.9h0M617.0 69.3h0M600.9 69.4h0M611.6 64.9h0M602.8 69.6h0M602.4 65.9h0M615.1 56.5h0M590.4 82.6h0M606.0 84.9h0M609.5 70.7h0M605.7 66.6h0M597.8 57.0h0M617.1 71.5h0M610.5 60.0h0M596.1 79.9h0M613.2 97.0h0M589.7 75.3h0M612.3 78.3h0M607.5 70.5h0M605.9 82.6h0M611.5 66.0h0M613.7 50.4h0M605.5 69.0h0M608.9 49.3h0M588.1 79.9h0M597.7 73.5h0M614.8 65.6h0M613.6 64.8h0M596.8 83.1h0M589.0 76.8h0M600.5 63.9h0M616.3 75.8h0M592.4 70.7h0M594.8 74.0h0M612.2 72.1h0M625.8 69.7h0M610.0 73.5h0M571.5 90.2h0M603.2 65.5h0M603.5 80.5h0M599.1 77.8h0M613.9 70.0h0M619.4 54.1h0M596.4 63.7h0M578.7 84.3h0M593.7 78.2h0M618.5 64.5h0M603.1 57.5h0M596.2 85.3h0M616.4 58.4h0M588.4 77.9h0M614.2 68.5h0M600.4 72.1h0M607.5 78.1h0M614.8 84.5h0M604.2 47.0h0M592.7 78.0h0M578.6 94.2h0M591.7 77.3h0M599.3 53.0h0M594.3 77.0h0M607.6 62.6h0M615.5 84.0h0M630.6 61.9h0M596.7 94.5h0M599.9 94.4h0M607.2 77.1h0M608.8 78.5h0M618.7 62.6h0M593.6 60.2h0M585.3 97.6h0M620.1 70.6h0M620.7 56.8h0M611.8 75.1h0M611.9 51.7h0M606.6 103.9h0M600.6 77.8h0M604.3 75.7h0M618.3 79.2h0M610.1 91.6h0M579.7 95.8h0M596.3 86.1h0M596.8 68.4h0M611.7 67.1h0M607.3 78.2h0M593.5 93.6h0M600.2 86.9h0M601.2 65.0h0M611.4 52.9h0M594.1 102.2h0M592.1 55.0h0M613.1 72.4h0M620.3 68.4h0M624.4 66.3h0M600.2 65.8h0M591.7 80.1h0M627.5 55.0h0M592.1 80.8h0M604.6 80.3h0M609.7 54.7h0M605.5 61.0h0M608.4 68.1h0M596.2 64.8h0M620.6 68.7h0M594.8 70.6h0M606.1 57.9h0M610.6 70.1h0M588.8 72.5h0M606.1 85.5h0M587.6 101.2h0M612.1 72.8h0M566.4 101.1h0M597.5 76.5h0M605.3 75.2h0M613.5 55.3h0M602.3 54.6h0M603.5 82.2h0M606.7 87.1h0M601.4 85.5h0M599.9 71.8h0M576.5 81.4h0M607.9 72.5h0M613.2 63.4h0M600.7 85.2h0M613.4 58.5h0M587.8 88.6h0M591.2 68.9h0M598.2 89.3h0M622.4 57.4h0M607.6 67.3h0M602.8 72.2h0M615.3 61.2h0M599.6 73.1h0M626.6 66.9h0M589.6 78.0h0M591.6 48.0h0M612.1 61.1h0M593.0 78.1h0M585.5 67.1h0M604.0 51.6h0M601.6 85.2h0M596.7 66.5h0M595.3 73.4h0M596.4 84.1h0M598.3 56.1h0M592.3 74.2h0M614.2 75.5h0M587.3 63.1h0M625.1 64.3h0M590.9 68.6h0M604.4 81.4h0M600.3 101.5h0M595.3 90.5h0M589.4 72.7h0M607.9 50.5h0M573.5 95.2h0M595.0 61.3h0M616.9 64.2h0M605.9 79.9h0M598.7 79.9h0M575.3 64.6h0M619.2 58.7h0M614.5 86.4h0M592.9 67.9h0M600.3 92.7h0M604.6 86.7h0M604.8 53.6h0M591.5 83.7h0M611.2 68.8h0M606.9 80.5h0M600.8 101.4h0M602.6 57.9h0M591.6 80.6h0M613.0 53.4h0M618.3 75.2h0M599.8 53.9h0M599.2 71.2h0M594.8 84.5h0M569.9 95.8h0M578.9 96.7h0M593.2 61.9h0M613.7 62.6h0M598.6 91.1h0M610.3 78.7h0M603.3 61.6h0M602.4 73.3h0M593.0 65.6h0M610.9 60.5h0M623.7 81.2h0M604.9 64.3h0M608.6 66.4h0M610.1 87.0h0M603.7 58.8h0M604.0 74.5h0M614.6 87.3h0M609.3 51.9h0M601.6 83.0h0M610.8 74.1h0M595.0 74.9h0M585.1 74.0h0M590.6 85.5h0M613.1 68.0h0M607.7 54.3h0M598.2 64.5h0M585.2 72.4h0M620.0 72.6h0M610.1 59.4h0M602.7 80.3h0M622.3 78.3h0M606.6 59.8h0M607.4 52.1h0M622.0 57.7h0M625.5 52.6h0M590.2 83.0h0M607.8 68.1h0M584.7 55.2h0M586.3 94.4h0M609.9 66.9h0M622.7 60.2h0M609.1 61.2h0M596.0 91.3h0M599.2 62.8h0M601.3 59.0h0M598.2 66.3h0M605.0 61.9h0M604.8 69.5h0M599.2 60.1h0M604.3 66.2h0M612.3 78.4h0M594.9 77.3h0M619.7 76.6h0M592.7 89.4h0M600.1 86.6h0M595.1 70.5h0M591.9 78.4h0M590.9 81.2h0M610.8 92.1h0M605.3 68.9h0M604.0 69.2h0M609.6 84.5h0M603.3 65.0h0M619.9 80.0h0M597.7 91.2h0M604.5 84.3h0M593.2 68.7h0M631.1 82.5h0M624.0 72.7h0M612.7 63.6h0M619.2 66.9h0M595.0 77.4h0M614.0 77.5h0M609.5 69.4h0M606.8 70.6h0M611.8 58.8h0M601.3 77.6h0M579.6 94.7h0M586.9 72.9h0M592.1 86.3h0M610.9 57.1h0M619.0 74.4h0M607.5 57.9h0M594.8 79.4h0M590.5 86.4h0M613.1 66.5h0M600.5 80.4h0M622.6 54.0h0M590.3 53.9h0M599.9 75.9h0M599.0 81.2h0M612.3 84.7h0M605.1 75.3h0M625.2 56.8h0M609.9 63.0h0M611.7 66.7h0M576.1 81.3h0M601.0 65.4h0M608.4 76.2h0M594.3 88.7h0M608.1 71.2h0M594.4 81.2h0M608.9 77.3h0M603.3 79.5h0M574.5 85.9h0M605.5 61.9h0M620.0 72.4h0M611.8 65.1h0M605.7 61.6h0M615.0 81.2h0M622.0 65.0h0M597.0 83.6h0M602.2 86.0h0M617.5 60.3h0M594.3 67.4h0M607.6 69.3h0M616.0 67.0h0M601.8 67.4h0M583.4 96.3h0M610.7 56.3h0M585.2 81.4h0M597.1 78.8h0M611.8 50.8h0M625.4 50.3h0M612.3 66.2h0M583.0 78.1h0M590.9 91.6h0M606.2 89.2h0M625.5 54.3h0M609.1 63.9h0M607.6 69.5h0M613.1 75.2h0M608.0 68.1h0M613.9 79.8h0M607.7 71.7h0M612.2 61.7h0M607.0 65.2h0M610.0 53.3h0M608.4 63.6h0M594.0 79.5h0M613.8 55.0h0M593.5 77.8h0M601.7 72.6h0M599.2 79.3h0M604.1 70.5h0M616.7 75.5h0M593.6 68.2h0M610.7 70.8h0M591.4 66.3h0M592.3 64.9h0M607.7 71.9h0M602.9 63.2h0M605.0 91.6h0M596.7 100.5h0M609.5 58.6h0M616.8 81.1h0M603.5 95.2h0M594.7 64.7h0M628.9 65.7h0M583.4 93.6h0M627.1 60.4h0M588.5 104.0h0M612.2 58.6h0M599.3 76.7h0M605.7 75.1h0M598.5 81.5h0M597.9 60.9h0M609.5 57.5h0M626.2 87.2h0M604.1 61.0h0M602.3 79.8h0M609.4 75.4h0M595.0 80.1h0M605.5 71.2h0M615.3 66.1h0M602.2 76.1h0M603.1 80.5h0M586.5 78.7h0M621.8 84.0h0M596.0 71.2h0M596.9 69.6h0M604.3 84.6h0M602.3 78.9h0M611.1 97.7h0M609.6 53.9h0M606.6 68.0h0M598.6 70.9h0M603.1 87.3h0M591.0 105.3h0M609.9 67.1h0M617.5 62.3h0M612.9 83.0h0M583.1 89.2h0M601.0 69.4h0M603.3 74.3h0M605.3 68.5h0M607.2 66.8h0M599.0 75.7h0M587.7 93.1h0M601.7 68.3h0M596.0 92.3h0M615.9 75.6h0M584.8 92.9h0M591.0 106.5h0M600.3 54.5h0M596.2 85.5h0M618.1 63.9h0M603.6 56.6h0M591.1 79.3h0M610.7 66.4h0M591.2 89.2h0M625.5 62.3h0M601.7 60.8h0M584.0 82.8h0M584.4 66.0h0M593.3 76.2h0M594.1 75.6h0M608.5 69.7h0M601.1 70.6h0M602.0 78.8h0M612.1 58.1h0M589.2 91.1h0M595.8 72.8h0M588.6 62.0h0M605.3 69.6h0M615.0 75.1h0M609.2 64.7h0M619.8 76.1h0M620.9 56.6h0M607.8 57.9h0M602.0 75.2h0M614.6 70.7h0M617.4 49.4h0M607.4 68.2h0M597.4 85.9h0M622.4 83.5h0M596.3 74.1h0M577.4 99.1h0M581.1 51.4h0M601.9 53.5h0M620.1 74.8h0M581.5 62.2h0M623.0 82.9h0M616.9 64.2h0M610.2 56.4h0M631.5 72.3h0M594.9 58.8h0M589.9 72.9h0M593.4 108.0h0M584.3 70.0h0M584.4 109.6h0M585.3 82.3h0M604.4 69.4h0M605.2 91.8h0M583.4 97.4h0M586.5 76.1h0M620.7 70.8h0M615.5 51.3h0M573.0 103.1h0M598.0 100.4h0M631.2 92.7h0M571.4 77.6h0M580.7 74.3h0M576.1 70.9h0M583.9 72.6h0M614.5 94.4h0M578.1 115.9h0M573.8 74.2h0M594.6 65.4h0M622.6 49.0h0M609.2 79.4h0M587.8 77.3h0M612.0 53.2h0M601.0 81.0h0M593.8 52.4h0M581.5 71.1h0M599.5 64.4h0M580.8 80.2h0M594.1 84.0h0M572.3 113.0h0M588.9 72.9h0M600.4 72.5h0M601.6 97.9h0M615.9 67.9h0M580.9 94.6h0M614.4 66.6h0M563.4 59.6h0M566.9 64.3h0M611.8 87.4h0M615.5 58.5h0M601.7 72.2h0M585.2 79.1h0M620.1 68.7h0M633.3 86.1h0M596.1 102.6h0M561.7 90.6h0M589.2 90.7h0M575.1 92.2h0M564.3 96.7h0M585.3 103.9h0M603.4 105.3h0M603.8 70.3h0M605.6 71.6h0M610.8 75.6h0M574.7 82.3h0M580.3 91.8h0M597.8 92.7h0M614.4 94.7h0M619.1 67.9h0M608.5 67.6h0M597.8 100.0h0M584.8 99.1h0M581.8 87.2h0M580.2 83.6h0M590.6 88.6h0M603.0 67.4h0M569.8 96.0h0M604.4 88.9h0M606.7 75.5h0M596.1 109.3h0M606.9 78.2h0M603.1 68.9h0M613.2 80.9h0M607.3 62.7h0M596.3 55.2h0M588.5 110.6h0M575.0 82.1h0M576.5 85.2h0M566.5 86.2h0M590.6 95.8h0M584.8 88.1h0M613.1 66.4h0M591.6 77.9h0M612.6 62.9h0M629.2 74.4h0M611.3 69.1h0M583.4 74.6h0M611.5 55.0h0M604.8 88.5h0M598.8 70.8h0M627.5 61.4h0M598.5 51.7h0M596.8 85.3h0M601.0 63.4h0M598.5 104.5h0M587.8 65.9h0M581.3 71.4h0M598.8 90.1h0M610.8 106.3h0M555.4 123.0h0M605.7 78.3h0M607.6 74.1h0M598.0 86.0h0M587.9 66.1h0M610.2 93.3h0M610.0 87.1h0M609.8 68.3h0M589.4 65.7h0M619.0 75.9h0M597.9 83.9h0M595.6 52.6h0M587.2 73.3h0M600.5 74.9h0M574.0 78.7h0M574.6 76.8h0M548.3 67.4h0M525.8 72.7h0M537.2 75.3h0M556.0 71.0h0M556.5 75.3h0M513.6 85.0h0M516.2 91.5h0M525.3 93.2h0M532.0 90.6h0M537.8 86.7h0M539.0 97.6h0M546.0 87.6h0M547.2 85.5h0M545.5 95.8h0M549.0 97.2h0M552.0 90.2h0M553.9 81.0h0M554.7 85.8h0M555.6 88.5h0M556.5 81.5h0M557.4 93.7h0M553.5 102.1h0M552.6 106.0h0M555.6 111.2h0M557.4 113.0h0M553.6 122.1h0M551.8 136.6h0M579.0 154.7h0M592.5 152.9h0M587.2 176.1h0M597.4 140.7h0M579.9 125.6h0M581.6 127.9h0M584.8 128.2h0M586.3 124.7h0M592.1 120.9h0M590.7 120.5h0M649.2 56.2h0M646.7 62.6h0M648.5 70.8h0M649.9 68.0h0M635.0 75.1h0M626.0 94.8h0M578.8 154.5h0M586.6 152.1h0M597.5 140.7h0M606.0 154.5h0M617.0 140.0h0" stroke="#0070c0" stroke-width="2.1" stroke-linecap="round" fill="none"/>
<line x1="504.50" y1="145.40" x2="643.00" y2="43.20" stroke="#000" stroke-width="2" stroke-dasharray="5.2,3.2"/>
<text x="510.50" y="156.00" font-size="8.6" font-weight="bold" fill="#111" >R=0.41</text>
<text x="4.50" y="304.80" font-size="21" font-weight="bold" >d</text>
<text x="14.80" y="408.48" font-size="13" fill="#111" >ChIPseq</text>
<text transform="translate(82.00,406.20) rotate(-90)" text-anchor="middle" font-size="10.4" fill="#111">Etop</text>
<path d="M96.5 367.2H91.8V429.6H96.5" fill="none" stroke="#111" stroke-width="1.3" />
<text x="101.00" y="383.04" font-size="10.4" fill="#111" >IgG (Control)</text>
<text x="100.20" y="404.94" font-size="10.4" fill="#111" >P53 (Control)</text>
<text x="100.20" y="426.34" font-size="10.4" fill="#111" >P53 (DAXX_KO)</text>
<path d="M113.2 435.3H107.8V507.3H113.2" fill="none" stroke="#111" stroke-width="1.3" />
<text transform="translate(101.30,470.20) rotate(-90)" text-anchor="middle" font-size="10.4" fill="#111">DMSO</text>
<text x="117.40" y="454.14" font-size="10.4" fill="#111" >Control</text>
<text x="117.40" y="478.94" font-size="10.4" fill="#111" >DAXX_KO</text>
<text x="119.40" y="502.24" font-size="10.4" fill="#111" >ATRX_KO</text>
<text x="39.60" y="510.50" font-size="13" textLength="56" lengthAdjust="spacingAndGlyphs" >ATACseq</text>
<path d="M113.2 509.5H107.8V581.2H113.2" fill="none" stroke="#111" stroke-width="1.3" />
<text transform="translate(101.90,552.70) rotate(-90)" text-anchor="middle" font-size="10.4" fill="#111">Etop</text>
<text x="120.30" y="528.04" font-size="10.4" fill="#111" >Control</text>
<text x="119.40" y="551.94" font-size="10.4" fill="#111" >DAXX_KO</text>
<text x="120.00" y="575.54" font-size="10.4" fill="#111" >ATRX_KO</text>
<text x="163.20" y="328.00" font-size="13" >PIEZO2 locus</text>
<text x="262.20" y="285.60" font-size="12.6" textLength="47.6" lengthAdjust="spacingAndGlyphs" >p53 Site</text>
<text x="266.90" y="318.60" font-size="12.3" textLength="34.6" lengthAdjust="spacingAndGlyphs" >ATAC</text>
<path d="M284.4 287.6H289.8V295.2H292.8L287.1 300.8L281.4 295.2H284.4Z" fill="#ffc000" stroke="#2f5597" stroke-width="1.3" stroke-linejoin="miter"/>
<path d="M282.3 321.6H287.7V329.3H290.8L285.0 334.9L279.2 329.3H282.3Z" fill="#c00000" stroke="#2f5597" stroke-width="1.3" stroke-linejoin="miter"/>
<line x1="217.80" y1="338.00" x2="217.80" y2="590.00" stroke="#f2a5a5" stroke-width="1" />
<text x="216.00" y="346.00" font-size="7.2" text-anchor="end" font-family='"Liberation Mono", monospace' fill="#2a2a2a" >Scale</text>
<text x="216.00" y="354.20" font-size="7.2" text-anchor="end" font-family='"Liberation Mono", monospace' fill="#2a2a2a" >chr18:</text>
<text x="251.00" y="344.50" font-size="7.2" font-family='"Liberation Mono", monospace' fill="#2a2a2a" >2 kb</text>
<line x1="270.80" y1="341.90" x2="316.70" y2="341.90" stroke="#333" stroke-width="0.9" />
<line x1="270.80" y1="339.20" x2="270.80" y2="344.60" stroke="#333" stroke-width="0.9" />
<line x1="316.70" y1="339.20" x2="316.70" y2="344.60" stroke="#333" stroke-width="0.9" />
<text x="323.00" y="344.50" font-size="7.2" font-family='"Liberation Mono", monospace' fill="#2a2a2a" >hg19</text>
<text x="288.20" y="353.70" font-size="7.2" font-family='"Liberation Mono", monospace' fill="#2a2a2a" >10,690,000</text>
<line x1="333.60" y1="347.50" x2="333.60" y2="354.50" stroke="#333" stroke-width="0.9" />
<clipPath id="cp1"><rect x="219.6" y="330" width="141.9" height="270"/></clipPath>
<text x="212.50" y="360.00" font-size="7.37" font-family='"Liberation Mono", monospace' fill="#2a2a2a" clip-path="url(#cp1)">this multiWig overlay is for combin</text>
<text x="222.30" y="436.60" font-size="7.37" font-family='"Liberation Mono", monospace' fill="#2a2a2a" clip-path="url(#cp1)">multiWig overlay is for combined</text>
<text x="212.50" y="513.20" font-size="7.37" font-family='"Liberation Mono", monospace' fill="#2a2a2a" clip-path="url(#cp1)">this multiWig overlay is for combin</text>
<text x="208.00" y="368.09" font-size="7.2" text-anchor="end" font-family='"Liberation Mono", monospace' fill="#2a2a2a" >4.06625</text>
<line x1="212.30" y1="367.90" x2="215.70" y2="367.90" stroke="#111" stroke-width="0.9" />
<text x="208.00" y="383.59" font-size="7.2" text-anchor="end" font-family='"Liberation Mono", monospace' fill="#2a2a2a" >0</text>
<line x1="212.30" y1="383.40" x2="215.70" y2="383.40" stroke="#111" stroke-width="0.9" />
<text x="208.00" y="391.59" font-size="7.2" text-anchor="end" font-family='"Liberation Mono", monospace' fill="#2a2a2a" >4.06625</text>
<line x1="212.30" y1="391.40" x2="215.70" y2="391.40" stroke="#111" stroke-width="0.9" />
<text x="208.00" y="407.09" font-size="7.2" text-anchor="end" font-family='"Liberation Mono", monospace' fill="#2a2a2a" >0</text>
<line x1="212.30" y1="406.90" x2="215.70" y2="406.90" stroke="#111" stroke-width="0.9" />
<text x="208.00" y="415.39" font-size="7.2" text-anchor="end" font-family='"Liberation Mono", monospace' fill="#2a2a2a" >4.06625</text>
<line x1="212.30" y1="415.20" x2="215.70" y2="415.20" stroke="#111" stroke-width="0.9" />
<text x="208.00" y="430.59" font-size="7.2" text-anchor="end" font-family='"Liberation Mono", monospace' fill="#2a2a2a" >0</text>
<line x1="212.30" y1="430.40" x2="215.70" y2="430.40" stroke="#111" stroke-width="0.9" />
<text x="208.00" y="444.29" font-size="7.2" text-anchor="end" font-family='"Liberation Mono", monospace' fill="#2a2a2a" >22.5191</text>
<line x1="212.30" y1="444.10" x2="215.70" y2="444.10" stroke="#111" stroke-width="0.9" />
<text x="208.00" y="461.09" font-size="7.2" text-anchor="end" font-family='"Liberation Mono", monospace' fill="#2a2a2a" >0</text>
<line x1="212.30" y1="460.90" x2="215.70" y2="460.90" stroke="#111" stroke-width="0.9" />
<text x="208.00" y="468.39" font-size="7.2" text-anchor="end" font-family='"Liberation Mono", monospace' fill="#2a2a2a" >22.5191</text>
<line x1="212.30" y1="468.20" x2="215.70" y2="468.20" stroke="#111" stroke-width="0.9" />
<text x="208.00" y="484.59" font-size="7.2" text-anchor="end" font-family='"Liberation Mono", monospace' fill="#2a2a2a" >0</text>
<line x1="212.30" y1="484.40" x2="215.70" y2="484.40" stroke="#111" stroke-width="0.9" />
<text x="208.00" y="490.89" font-size="7.2" text-anchor="end" font-family='"Liberation Mono", monospace' fill="#2a2a2a" >22.5191</text>
<line x1="212.30" y1="490.70" x2="215.70" y2="490.70" stroke="#111" stroke-width="0.9" />
<text x="208.00" y="507.59" font-size="7.2" text-anchor="end" font-family='"Liberation Mono", monospace' fill="#2a2a2a" >0</text>
<line x1="212.30" y1="507.40" x2="215.70" y2="507.40" stroke="#111" stroke-width="0.9" />
<text x="208.00" y="520.29" font-size="7.2" text-anchor="end" font-family='"Liberation Mono", monospace' fill="#2a2a2a" >32.7797</text>
<line x1="212.30" y1="520.10" x2="215.70" y2="520.10" stroke="#111" stroke-width="0.9" />
<text x="208.00" y="537.09" font-size="7.2" text-anchor="end" font-family='"Liberation Mono", monospace' fill="#2a2a2a" >0</text>
<line x1="212.30" y1="536.90" x2="215.70" y2="536.90" stroke="#111" stroke-width="0.9" />
<text x="208.00" y="543.69" font-size="7.2" text-anchor="end" font-family='"Liberation Mono", monospace' fill="#2a2a2a" >32.7797</text>
<line x1="212.30" y1="543.50" x2="215.70" y2="543.50" stroke="#111" stroke-width="0.9" />
<text x="208.00" y="560.59" font-size="7.2" text-anchor="end" font-family='"Liberation Mono", monospace' fill="#2a2a2a" >0</text>
<line x1="212.30" y1="560.40" x2="215.70" y2="560.40" stroke="#111" stroke-width="0.9" />
<text x="208.00" y="566.79" font-size="7.2" text-anchor="end" font-family='"Liberation Mono", monospace' fill="#2a2a2a" >32.7797</text>
<line x1="212.30" y1="566.60" x2="215.70" y2="566.60" stroke="#111" stroke-width="0.9" />
<text x="208.00" y="583.59" font-size="7.2" text-anchor="end" font-family='"Liberation Mono", monospace' fill="#2a2a2a" >0</text>
<line x1="212.30" y1="583.40" x2="215.70" y2="583.40" stroke="#111" stroke-width="0.9" />
<path d="M220.0 383.4L220.0 381.0L220.5 380.5L221.0 380.1L221.5 379.7L222.0 379.3L222.5 379.1L223.0 379.0L223.5 379.1L224.0 379.2L224.5 379.5L225.0 379.9L225.5 380.3L226.0 380.8L226.5 381.0L227.0 380.6L227.5 380.2L228.0 379.8L228.5 379.5L229.0 379.2L229.5 379.1L230.0 379.0L230.5 379.1L231.0 379.3L231.5 379.6L232.0 380.0L232.5 380.0L233.0 379.4L233.5 378.8L234.0 378.3L234.5 378.0L235.0 377.9L235.5 378.0L236.0 378.3L236.5 378.8L237.0 379.4L237.5 379.4L238.0 378.8L238.5 378.5L239.0 378.6L239.5 379.1L240.0 379.9L240.5 380.2L241.0 380.4L241.5 380.9L242.0 381.1L242.5 380.8L243.0 380.7L243.5 380.6L244.0 380.7L244.5 380.8L245.0 380.8L245.5 381.2L246.0 381.3L246.5 381.3L247.0 381.6L247.5 381.7L248.0 381.5L248.5 381.4L249.0 381.4L249.5 381.0L250.0 380.5L250.5 380.0L251.0 379.5L251.5 379.0L252.0 378.7L252.5 378.5L253.0 378.5L253.5 378.6L254.0 378.8L254.5 379.2L255.0 379.7L255.5 379.5L256.0 379.0L256.5 378.8L257.0 379.0L257.5 379.5L258.0 380.2L258.5 380.9L259.0 381.7L259.5 381.7L260.0 381.7L260.5 381.4L261.0 381.4L261.5 381.1L262.0 381.0L262.5 381.1L263.0 381.4L263.5 381.4L264.0 381.3L264.5 381.0L265.0 381.0L265.5 380.4L266.0 380.6L266.5 381.0L267.0 381.2L267.5 381.1L268.0 380.8L268.5 380.7L269.0 380.7L269.5 381.1L270.0 381.5L270.5 381.1L271.0 381.2L271.5 381.0L272.0 380.9L272.5 381.1L273.0 381.0L273.5 380.3L274.0 379.6L274.5 379.1L275.0 378.7L275.5 378.6L276.0 378.8L276.5 379.3L277.0 379.9L277.5 380.0L278.0 380.3L278.5 380.7L279.0 381.2L279.5 381.2L280.0 380.8L280.5 380.4L281.0 380.1L281.5 379.8L282.0 379.7L282.5 379.7L283.0 379.8L283.5 380.1L284.0 379.7L284.5 379.2L285.0 378.8L285.5 378.5L286.0 378.4L286.5 378.5L287.0 378.7L287.5 379.1L288.0 379.5L288.5 380.1L289.0 380.6L289.5 381.2L290.0 381.5L290.5 381.0L291.0 380.3L291.5 379.6L292.0 379.0L292.5 378.7L293.0 378.5L293.5 378.7L294.0 379.2L294.5 379.8L295.0 380.5L295.5 381.2L296.0 381.4L296.5 381.2L297.0 380.7L297.5 380.8L298.0 380.8L298.5 381.2L299.0 381.0L299.5 380.7L300.0 380.5L300.5 380.4L301.0 380.5L301.5 380.6L302.0 380.3L302.5 379.8L303.0 379.4L303.5 379.2L304.0 379.3L304.5 379.5L305.0 380.0L305.5 380.6L306.0 380.1L306.5 379.5L307.0 379.1L307.5 378.8L308.0 378.8L308.5 378.9L309.0 379.3L309.5 379.7L310.0 380.0L310.5 379.7L311.0 379.6L311.5 379.4L312.0 379.4L312.5 379.4L313.0 379.6L313.5 379.7L314.0 379.9L314.5 379.0L315.0 378.4L315.5 378.3L316.0 378.6L316.5 379.4L317.0 380.3L317.5 381.3L318.0 381.8L318.5 381.7L319.0 381.2L319.5 380.6L320.0 380.2L320.5 379.4L321.0 378.8L321.5 378.7L322.0 379.0L322.5 379.7L323.0 380.6L323.5 381.0L324.0 381.3L324.5 381.2L325.0 381.4L325.5 381.1L326.0 380.8L326.5 380.5L327.0 380.3L327.5 380.2L328.0 380.3L328.5 380.5L329.0 380.7L329.5 381.1L330.0 381.2L330.5 381.2L331.0 381.3L331.5 381.5L332.0 381.8L332.5 381.7L333.0 381.4L333.5 381.4L334.0 381.5L334.5 381.4L335.0 381.4L335.5 381.3L336.0 381.1L336.5 380.9L337.0 380.8L337.5 380.8L338.0 380.8L338.5 381.0L339.0 381.2L339.5 381.4L340.0 381.4L340.5 381.6L341.0 380.8L341.5 379.9L342.0 379.0L342.5 378.3L343.0 377.8L343.5 377.6L344.0 377.8L344.5 378.3L345.0 378.8L345.5 379.4L346.0 380.0L346.5 380.6L347.0 380.2L347.5 380.0L348.0 379.8L348.5 379.7L349.0 379.8L349.5 379.9L350.0 379.9L350.5 379.6L351.0 379.3L351.5 379.1L352.0 379.0L352.5 379.1L353.0 379.3L353.5 379.6L354.0 380.0L354.5 380.4L355.0 380.9L355.5 381.4L356.0 381.7L356.5 381.6L357.0 381.5L357.5 381.4L358.0 381.3L358.5 381.3L359.0 381.3L359.5 381.4L360.0 381.5L360.5 381.7L361.0 381.9L361.0 383.4Z" fill="#555555"/>
<path d="M220.0 406.4L220.0 403.9L220.5 403.8L221.0 403.8L221.5 403.8L222.0 404.1L222.5 403.8L223.0 403.5L223.5 403.8L224.0 403.7L224.5 403.2L225.0 403.7L225.5 403.7L226.0 403.6L226.5 403.7L227.0 403.7L227.5 403.9L228.0 404.1L228.5 404.4L229.0 404.6L229.5 404.8L230.0 404.7L230.5 404.1L231.0 403.8L231.5 404.0L232.0 404.2L232.5 404.0L233.0 403.6L233.5 403.4L234.0 403.3L234.5 403.3L235.0 403.5L235.5 403.7L236.0 403.7L236.5 403.9L237.0 404.0L237.5 404.4L238.0 404.7L238.5 404.2L239.0 404.1L239.5 403.8L240.0 403.6L240.5 403.5L241.0 403.5L241.5 403.6L242.0 403.8L242.5 404.0L243.0 404.4L243.5 404.1L244.0 403.7L244.5 403.5L245.0 403.5L245.5 403.6L246.0 403.9L246.5 404.3L247.0 404.8L247.5 405.1L248.0 404.8L248.5 404.9L249.0 404.8L249.5 403.9L250.0 403.9L250.5 403.6L251.0 403.6L251.5 403.7L252.0 404.1L252.5 404.2L253.0 404.4L253.5 404.2L254.0 404.0L254.5 403.9L255.0 403.9L255.5 404.0L256.0 404.1L256.5 403.9L257.0 403.6L257.5 403.3L258.0 403.2L258.5 403.1L259.0 403.1L259.5 403.3L260.0 403.6L260.5 403.9L261.0 403.6L261.5 403.3L262.0 403.2L262.5 403.4L263.0 403.8L263.5 404.1L264.0 404.0L264.5 403.7L265.0 403.4L265.5 403.4L266.0 403.5L266.5 403.8L267.0 404.3L267.5 404.5L268.0 404.5L268.5 404.8L269.0 404.8L269.5 404.9L270.0 404.6L270.5 404.2L271.0 403.9L271.5 403.7L272.0 403.7L272.5 403.8L273.0 404.0L273.5 404.4L274.0 404.5L274.5 404.3L275.0 404.2L275.5 404.5L276.0 404.2L276.5 403.8L277.0 404.0L277.5 403.8L278.0 403.4L278.5 403.9L279.0 403.4L279.5 401.4L280.0 398.7L280.5 395.3L281.0 391.7L281.5 388.5L282.0 386.2L282.5 385.4L283.0 386.2L283.5 388.5L284.0 391.7L284.5 395.3L285.0 398.7L285.5 401.4L286.0 403.4L286.5 404.4L287.0 404.3L287.5 404.2L288.0 403.7L288.0 406.4ZM291.5 406.4L291.5 404.0L292.0 403.8L292.5 403.6L293.0 403.4L293.5 403.2L294.0 403.2L294.5 403.3L295.0 403.4L295.5 403.7L296.0 403.9L296.5 403.6L297.0 403.4L297.5 403.3L298.0 403.4L298.5 403.7L299.0 404.0L299.5 404.3L300.0 404.3L300.5 404.1L301.0 404.0L301.5 404.0L302.0 404.1L302.5 404.2L303.0 403.8L303.5 403.2L304.0 403.6L304.5 404.0L305.0 404.1L305.5 403.9L306.0 403.9L306.5 403.5L307.0 403.7L307.5 403.7L308.0 403.3L308.5 402.9L309.0 402.6L309.5 402.5L310.0 402.4L310.5 402.5L311.0 402.6L311.5 402.9L312.0 403.2L312.5 403.3L313.0 403.4L313.5 403.6L314.0 403.9L314.5 404.1L315.0 403.7L315.5 403.3L316.0 403.0L316.5 402.8L317.0 402.8L317.5 402.9L318.0 403.2L318.5 403.5L319.0 404.0L319.5 404.3L320.0 404.2L320.5 403.9L321.0 403.7L321.5 403.5L322.0 403.4L322.5 403.4L323.0 403.5L323.5 403.7L324.0 403.8L324.5 404.2L325.0 404.5L325.5 404.2L326.0 404.5L326.5 404.6L327.0 404.5L327.5 404.7L328.0 404.8L328.5 404.8L329.0 404.6L329.5 404.2L330.0 404.4L330.5 403.7L331.0 403.5L331.5 403.7L332.0 403.3L332.5 403.7L333.0 403.6L333.5 403.4L334.0 403.8L334.5 403.6L335.0 403.2L335.5 403.0L336.0 403.1L336.5 403.6L337.0 404.2L337.5 404.4L338.0 404.0L338.5 403.6L339.0 403.2L339.5 402.9L340.0 402.7L340.5 402.7L341.0 402.8L341.5 403.0L342.0 403.3L342.5 403.7L343.0 404.2L343.5 403.8L344.0 404.1L344.5 403.9L345.0 403.7L345.5 403.7L346.0 404.0L346.5 404.3L347.0 404.1L347.5 404.2L348.0 404.4L348.5 404.0L349.0 403.7L349.5 403.4L350.0 403.1L350.5 403.0L351.0 402.9L351.5 403.0L352.0 403.1L352.5 403.0L353.0 402.7L353.5 402.7L354.0 403.0L354.5 403.4L355.0 404.0L355.5 404.5L356.0 404.4L356.5 404.3L357.0 404.2L357.5 404.1L358.0 404.3L358.5 404.2L359.0 403.9L359.5 404.0L360.0 403.9L360.5 404.3L361.0 404.3L361.0 406.4Z" fill="#5b5bc6"/>
<path d="M220.0 429.9L220.0 426.6L220.5 426.6L221.0 426.7L221.5 426.9L222.0 427.1L222.5 427.4L223.0 427.7L223.5 428.1L224.0 428.0L224.5 427.7L225.0 427.2L225.5 426.7L226.0 426.4L226.5 426.2L227.0 426.1L227.5 426.3L228.0 426.6L228.5 427.0L229.0 427.5L229.5 427.4L230.0 427.1L230.5 426.9L231.0 426.8L231.5 426.7L232.0 426.8L232.5 426.9L233.0 427.1L233.5 427.3L234.0 427.5L234.5 427.7L235.0 427.6L235.5 427.5L236.0 427.5L236.5 427.6L237.0 427.7L237.5 428.0L238.0 428.0L238.5 427.8L239.0 427.6L239.5 427.8L240.0 427.7L240.5 427.7L241.0 428.0L241.5 428.2L242.0 427.7L242.5 427.7L243.0 427.5L243.5 427.5L244.0 427.5L244.5 427.1L245.0 426.5L245.5 426.1L246.0 426.6L246.5 426.7L247.0 426.8L247.5 426.9L248.0 426.5L248.5 426.7L249.0 427.1L249.5 427.7L250.0 427.7L250.5 427.8L251.0 427.9L251.5 428.2L252.0 428.2L252.5 427.8L253.0 427.4L253.5 427.0L254.0 426.7L254.5 426.4L255.0 426.3L255.5 426.2L256.0 426.3L256.5 426.5L257.0 426.8L257.5 427.1L258.0 426.9L258.5 426.8L259.0 426.9L259.5 427.0L260.0 427.2L260.5 427.4L261.0 427.7L261.5 428.0L262.0 428.2L262.5 427.7L262.5 429.9ZM266.5 429.9L266.5 427.5L267.0 427.5L267.5 427.6L268.0 427.6L268.5 427.4L269.0 427.4L269.5 426.7L270.0 426.1L270.5 425.7L271.0 425.5L271.5 425.6L272.0 426.0L272.5 426.6L273.0 427.3L273.5 427.7L274.0 427.6L274.5 427.4L275.0 426.9L275.5 426.4L276.0 426.0L276.5 425.8L277.0 425.8L277.5 425.9L278.0 426.3L278.5 426.7L279.0 427.2L279.5 427.7L280.0 427.6L280.5 427.5L281.0 427.2L281.5 426.9L282.0 426.6L282.5 426.5L283.0 426.4L283.5 426.5L284.0 426.6L284.5 426.9L285.0 426.9L285.5 426.6L286.0 426.3L286.5 426.1L287.0 426.0L287.5 426.1L288.0 426.3L288.5 426.5L289.0 426.9L289.5 427.3L290.0 427.7L290.5 427.5L291.0 427.1L291.5 426.7L292.0 426.3L292.5 426.1L293.0 425.9L293.5 425.9L294.0 426.0L294.5 426.3L295.0 426.6L295.5 427.0L296.0 427.5L296.5 427.9L297.0 427.6L297.5 427.1L298.0 426.6L298.5 426.1L299.0 425.7L299.5 425.5L300.0 425.4L300.5 425.5L301.0 425.8L301.5 426.0L302.0 425.9L302.5 426.0L303.0 426.1L303.5 426.4L304.0 426.8L304.5 427.2L305.0 427.6L305.5 428.0L306.0 428.0L306.5 428.0L307.0 428.0L307.5 428.1L308.0 428.4L308.5 428.2L309.0 428.0L309.5 427.8L310.0 427.7L310.5 427.7L311.0 427.9L311.5 428.1L312.0 427.8L312.5 427.4L313.0 427.1L313.5 426.7L314.0 426.5L314.5 426.3L315.0 426.3L315.5 426.3L316.0 426.5L316.5 426.8L317.0 427.1L317.5 427.2L318.0 427.1L318.5 427.1L319.0 427.2L319.5 427.4L320.0 427.7L320.5 427.6L321.0 427.7L321.5 428.0L322.0 428.0L322.5 428.0L323.0 428.0L323.5 428.0L324.0 428.2L324.5 428.1L325.0 427.6L325.5 427.1L326.0 426.7L326.5 426.4L327.0 426.3L327.5 426.3L328.0 426.4L328.5 426.7L329.0 427.1L329.5 427.6L330.0 428.0L330.5 428.0L331.0 428.0L331.5 428.2L332.0 427.9L332.5 427.1L333.0 426.4L333.5 425.8L334.0 425.5L334.5 425.6L335.0 426.0L335.5 426.5L336.0 426.6L336.5 426.9L337.0 427.2L337.5 427.5L338.0 427.8L338.5 427.2L339.0 426.7L339.5 426.3L340.0 426.1L340.5 426.2L341.0 426.4L341.5 426.9L342.0 427.4L342.0 429.9ZM345.0 429.9L345.0 427.4L345.5 427.8L346.0 428.0L346.5 427.8L347.0 427.7L347.5 427.1L348.0 426.6L348.5 426.0L349.0 425.7L349.5 425.5L350.0 425.6L350.5 425.9L351.0 426.4L351.5 426.9L352.0 427.3L352.5 427.1L353.0 426.9L353.5 426.8L354.0 426.8L354.5 426.9L355.0 427.1L355.5 427.4L356.0 427.7L356.5 428.1L357.0 428.3L357.5 428.2L358.0 427.7L358.5 427.3L359.0 426.9L359.5 426.6L360.0 426.6L360.5 426.7L361.0 427.0L361.0 429.9Z" fill="#c65b5b"/>
<path d="M271.5 459.7L271.5 459.7L272.0 457.2L272.5 455.2L273.0 452.6L273.5 451.1L274.0 449.6L274.5 447.5L275.0 447.7L275.5 448.7L276.0 450.1L276.5 450.7L277.0 449.3L277.5 449.0L278.0 446.2L278.5 444.1L279.0 440.9L279.5 438.8L280.0 439.3L280.5 440.7L281.0 441.7L281.5 443.7L282.0 446.4L282.5 448.9L283.0 449.0L283.5 449.0L284.0 449.8L284.5 451.6L285.0 453.4L285.5 455.8L286.0 457.6L286.3 459.7Z" fill="#5b5bc6"/>
<path d="M315.0 459.7L315.0 459.7L315.5 455.9L316.0 453.9L316.5 451.8L317.0 450.7L317.5 452.3L318.0 453.7L318.5 455.5L319.0 457.7L319.5 457.8L320.0 458.0L320.5 458.0L321.0 458.3L321.5 458.2L322.0 458.1L322.5 458.2L323.0 458.3L323.5 458.3L324.0 458.1L324.5 458.1L325.0 458.4L325.5 458.0L326.0 457.7L326.5 456.8L327.0 456.6L327.5 456.2L328.0 456.9L328.5 457.6L329.0 457.1L329.5 456.1L330.0 457.1L330.5 457.7L331.0 458.6L331.1 459.7Z" fill="#5b5bc6"/>
<path d="M335.0 459.7L335.0 459.7L335.5 458.5L336.0 458.6L336.5 458.1L337.0 458.4L337.5 457.9L338.0 458.1L338.5 457.9L339.0 457.8L339.5 457.8L340.0 457.5L340.5 457.4L341.0 457.7L341.5 457.6L342.0 457.2L342.5 457.6L343.0 457.4L343.5 457.3L344.0 456.9L344.5 457.5L345.0 457.2L345.5 457.2L346.0 457.3L346.5 457.8L347.0 457.3L347.5 457.8L348.0 457.5L348.5 457.7L349.0 457.9L349.5 457.7L350.0 457.9L350.5 458.2L351.0 458.0L351.5 458.2L352.0 458.2L352.5 458.3L353.0 458.3L353.5 459.7L353.5 459.7Z" fill="#5b5bc6"/>
<path d="M220.5 459.7H224.0V458.3H220.5ZM233.0 459.7H237.0V458.7H233.0ZM249.0 459.7H252.0V458.4H249.0ZM254.5 459.7H258.0V458.4H254.5ZM265.0 459.7H268.0V458.7H265.0ZM295.0 459.7H299.0V458.7H295.0ZM308.0 459.7H310.0V458.7H308.0Z" fill="#5b5bc6"/>
<path d="M220.5 483.5H223.0V482.5H220.5ZM265.0 483.5H270.0V482.5H265.0ZM277.0 483.5H283.0V482.1H277.0ZM297.0 483.5H299.0V481.3H297.0ZM327.0 483.5H329.5V482.5H327.0ZM357.0 483.5H361.0V482.5H357.0Z" fill="#c65b5b"/>
<path d="M276.0 506.0L276.0 506.0L276.5 504.9L277.0 504.6L277.5 504.5L278.0 504.1L278.5 504.0L279.0 503.9L279.5 503.9L280.0 503.9L280.5 504.1L281.0 504.3L281.5 504.4L282.0 504.4L282.5 504.6L283.0 504.9L283.1 506.0Z" fill="#c65b5b"/>
<path d="M220.5 506.0H222.0V505.0H220.5ZM225.0 506.0H230.0V504.8H225.0ZM234.0 506.0H237.0V504.7H234.0ZM264.0 506.0H266.0V505.2H264.0ZM285.0 506.0H290.0V505.2H285.0ZM309.0 506.0H311.0V505.2H309.0ZM318.0 506.0H320.0V505.2H318.0ZM327.0 506.0H330.0V504.8H327.0ZM344.0 506.0H348.0V504.2H344.0Z" fill="#c65b5b"/>
<path d="M270.8 536.2L270.8 536.2L271.3 534.7L271.8 534.4L272.3 534.3L272.8 533.7L273.3 533.2L273.8 532.0L274.3 531.1L274.8 529.9L275.3 529.7L275.8 529.4L276.3 529.3L276.8 528.2L277.3 526.6L277.8 524.5L278.3 523.0L278.8 520.7L279.3 518.1L279.8 515.9L280.3 515.2L280.8 516.5L281.3 517.1L281.8 518.1L282.3 520.7L282.8 522.8L283.3 523.7L283.8 523.4L284.3 524.2L284.8 524.1L285.3 527.6L285.8 533.0L286.3 536.2L286.3 536.2Z" fill="#5b5bc6"/>
<path d="M220.5 536.2H224.0V535.2H220.5ZM232.0 536.2H238.0V535.1H232.0ZM249.0 536.2H252.0V534.2H249.0ZM259.0 536.2H264.0V535.2H259.0ZM286.0 536.2H296.0V535.2H286.0ZM358.0 536.2H361.0V535.2H358.0Z" fill="#5b5bc6"/>
<path d="M306.5 536.2L306.5 536.2L307.0 534.8L307.5 534.3L308.0 534.0L308.5 533.2L309.0 532.7L309.5 532.9L310.0 533.4L310.5 534.0L311.0 534.5L311.5 535.1L311.6 536.2Z" fill="#5b5bc6"/>
<path d="M313.5 536.2L313.5 536.2L314.0 534.7L314.5 534.5L315.0 533.6L315.5 533.0L316.0 532.8L316.5 532.4L317.0 533.0L317.5 533.9L318.0 534.5L318.5 535.4L319.0 535.3L319.5 535.4L320.0 535.2L320.5 535.3L321.0 535.1L321.5 535.2L322.0 535.3L322.5 534.9L323.0 534.7L323.5 534.6L324.0 534.6L324.5 534.4L325.0 534.2L325.5 533.7L326.0 533.3L326.5 532.5L327.0 531.9L327.5 531.3L328.0 531.8L328.5 532.4L329.0 533.0L329.5 533.5L330.0 534.0L330.5 534.6L331.0 535.2L331.1 536.2Z" fill="#5b5bc6"/>
<path d="M339.0 536.2L339.0 536.2L339.5 535.1L340.0 535.0L340.5 534.8L341.0 534.7L341.5 534.7L342.0 534.7L342.5 534.4L343.0 534.2L343.5 533.8L344.0 533.6L344.5 533.6L345.0 533.2L345.5 533.4L346.0 533.9L346.5 534.4L347.0 534.5L347.5 534.9L348.0 535.3L348.1 536.2Z" fill="#5b5bc6"/>
<path d="M234.0 559.4H240.0V558.4H234.0ZM243.0 559.4H249.0V558.4H243.0ZM251.0 559.4H258.0V558.4H251.0ZM263.0 559.4H270.0V558.4H263.0ZM276.0 559.4H284.0V558.1H276.0ZM278.5 559.4H282.0V557.4H278.5ZM287.0 559.4H292.0V558.4H287.0ZM295.0 559.4H298.0V558.4H295.0ZM306.0 559.4H308.0V557.9H306.0ZM321.0 559.4H330.0V558.4H321.0ZM333.0 559.4H348.0V558.4H333.0ZM357.0 559.4H361.0V558.4H357.0Z" fill="#c65b5b"/>
<path d="M273.0 582.1L273.0 582.1L273.5 581.0L274.0 580.9L274.5 580.6L275.0 580.2L275.5 580.1L276.0 579.9L276.5 579.2L277.0 578.6L277.5 578.3L278.0 578.2L278.5 577.5L279.0 577.8L279.5 577.4L280.0 577.2L280.5 577.3L281.0 577.2L281.5 577.3L282.0 577.6L282.5 577.6L283.0 578.0L283.5 577.9L284.0 578.3L284.5 578.6L285.0 579.6L285.5 580.3L286.0 581.1L286.1 582.1Z" fill="#c65b5b"/>
<path d="M221.0 582.1H223.0V581.1H221.0ZM226.0 582.1H229.0V581.1H226.0ZM233.0 582.1H236.0V580.8H233.0ZM240.0 582.1H245.0V581.1H240.0ZM251.0 582.1H256.0V581.1H251.0ZM262.0 582.1H272.0V581.1H262.0ZM287.0 582.1H296.0V581.1H287.0ZM304.0 582.1H306.0V581.1H304.0ZM311.0 582.1H314.0V580.8H311.0ZM318.0 582.1H321.0V581.1H318.0ZM326.0 582.1H330.0V580.3H326.0ZM336.0 582.1H340.0V581.1H336.0ZM345.0 582.1H350.0V581.1H345.0ZM355.0 582.1H361.0V581.1H355.0Z" fill="#c65b5b"/>
<text x="373.50" y="306.80" font-size="21" font-weight="bold" >e</text>
<text x="409.20" y="326.60" font-size="13" >SLC1A3 locus</text>
<text x="500.50" y="309.70" font-size="12.6" textLength="47" lengthAdjust="spacingAndGlyphs" >p53 Site</text>
<text x="552.20" y="314.50" font-size="12.3" textLength="34.5" lengthAdjust="spacingAndGlyphs" >ATAC</text>
<path d="M530.2 313.3H535.4V319.7H538.2L532.8 325.6L527.3 319.7H530.2Z" fill="#ffc000" stroke="#2f5597" stroke-width="1.3" stroke-linejoin="miter"/>
<path d="M566.7 319.7H571.9V326.0H574.8L569.3 332.0L563.8 326.0H566.7Z" fill="#c00000" stroke="#2f5597" stroke-width="1.3" stroke-linejoin="miter"/>
<line x1="477.00" y1="339.50" x2="477.00" y2="592.50" stroke="#f2a5a5" stroke-width="1" />
<text x="475.00" y="343.50" font-size="7.2" text-anchor="end" font-family='"Liberation Mono", monospace' fill="#2a2a2a" >Scale</text>
<text x="475.00" y="351.80" font-size="7.2" text-anchor="end" font-family='"Liberation Mono", monospace' fill="#2a2a2a" >chr5:</text>
<text x="494.90" y="343.50" font-size="7.2" font-family='"Liberation Mono", monospace' fill="#2a2a2a" >10 kb</text>
<line x1="518.50" y1="340.90" x2="584.20" y2="340.90" stroke="#333" stroke-width="0.9" />
<line x1="518.50" y1="338.20" x2="518.50" y2="343.60" stroke="#333" stroke-width="0.9" />
<line x1="584.20" y1="338.20" x2="584.20" y2="343.60" stroke="#333" stroke-width="0.9" />
<text x="590.60" y="343.50" font-size="7.2" font-family='"Liberation Mono", monospace' fill="#2a2a2a" >hg19</text>
<line x1="508.80" y1="345.70" x2="508.80" y2="352.70" stroke="#333" stroke-width="0.9" />
<text x="529.60" y="351.80" font-size="7.2" font-family='"Liberation Mono", monospace' fill="#2a2a2a" >36,450,000</text>
<line x1="574.20" y1="345.70" x2="574.20" y2="352.70" stroke="#333" stroke-width="0.9" />
<clipPath id="cp2"><rect x="478.5" y="330" width="142.0" height="270"/></clipPath>
<text x="471.70" y="358.40" font-size="7.37" font-family='"Liberation Mono", monospace' fill="#2a2a2a" clip-path="url(#cp2)">this multiWig overlay is for combin</text>
<text x="482.10" y="435.30" font-size="7.37" font-family='"Liberation Mono", monospace' fill="#2a2a2a" clip-path="url(#cp2)">multiWig overlay is for combined</text>
<text x="471.70" y="510.30" font-size="7.37" font-family='"Liberation Mono", monospace' fill="#2a2a2a" clip-path="url(#cp2)">this multiWig overlay is for combin</text>
<text x="477.60" y="585.90" font-size="7.37" font-family='"Liberation Mono", monospace' fill="#2a2a2a" clip-path="url(#cp2)">of GeneHancer regulatory elements</text>
<text x="466.80" y="366.79" font-size="7.2" text-anchor="end" font-family='"Liberation Mono", monospace' fill="#2a2a2a" >4.01622</text>
<line x1="471.30" y1="366.60" x2="474.70" y2="366.60" stroke="#111" stroke-width="0.9" />
<text x="466.80" y="382.19" font-size="7.2" text-anchor="end" font-family='"Liberation Mono", monospace' fill="#2a2a2a" >0</text>
<line x1="471.30" y1="382.00" x2="474.70" y2="382.00" stroke="#111" stroke-width="0.9" />
<text x="466.80" y="389.69" font-size="7.2" text-anchor="end" font-family='"Liberation Mono", monospace' fill="#2a2a2a" >4.01622</text>
<line x1="471.30" y1="389.50" x2="474.70" y2="389.50" stroke="#111" stroke-width="0.9" />
<text x="466.80" y="405.19" font-size="7.2" text-anchor="end" font-family='"Liberation Mono", monospace' fill="#2a2a2a" >0</text>
<line x1="471.30" y1="405.00" x2="474.70" y2="405.00" stroke="#111" stroke-width="0.9" />
<text x="466.80" y="412.39" font-size="7.2" text-anchor="end" font-family='"Liberation Mono", monospace' fill="#2a2a2a" >4.01622</text>
<line x1="471.30" y1="412.20" x2="474.70" y2="412.20" stroke="#111" stroke-width="0.9" />
<text x="466.80" y="427.99" font-size="7.2" text-anchor="end" font-family='"Liberation Mono", monospace' fill="#2a2a2a" >0</text>
<line x1="471.30" y1="427.80" x2="474.70" y2="427.80" stroke="#111" stroke-width="0.9" />
<text x="466.80" y="442.49" font-size="7.2" text-anchor="end" font-family='"Liberation Mono", monospace' fill="#2a2a2a" >17.5552</text>
<line x1="471.30" y1="442.30" x2="474.70" y2="442.30" stroke="#111" stroke-width="0.9" />
<text x="466.80" y="458.19" font-size="7.2" text-anchor="end" font-family='"Liberation Mono", monospace' fill="#2a2a2a" >0</text>
<line x1="471.30" y1="458.00" x2="474.70" y2="458.00" stroke="#111" stroke-width="0.9" />
<text x="466.80" y="464.89" font-size="7.2" text-anchor="end" font-family='"Liberation Mono", monospace' fill="#2a2a2a" >17.5552</text>
<line x1="471.30" y1="464.70" x2="474.70" y2="464.70" stroke="#111" stroke-width="0.9" />
<text x="466.80" y="480.99" font-size="7.2" text-anchor="end" font-family='"Liberation Mono", monospace' fill="#2a2a2a" >0</text>
<line x1="471.30" y1="480.80" x2="474.70" y2="480.80" stroke="#111" stroke-width="0.9" />
<text x="466.80" y="488.49" font-size="7.2" text-anchor="end" font-family='"Liberation Mono", monospace' fill="#2a2a2a" >17.5552</text>
<line x1="471.30" y1="488.30" x2="474.70" y2="488.30" stroke="#111" stroke-width="0.9" />
<text x="466.80" y="503.99" font-size="7.2" text-anchor="end" font-family='"Liberation Mono", monospace' fill="#2a2a2a" >0</text>
<line x1="471.30" y1="503.80" x2="474.70" y2="503.80" stroke="#111" stroke-width="0.9" />
<text x="466.80" y="518.09" font-size="7.2" text-anchor="end" font-family='"Liberation Mono", monospace' fill="#2a2a2a" >19.8962</text>
<line x1="471.30" y1="517.90" x2="474.70" y2="517.90" stroke="#111" stroke-width="0.9" />
<text x="466.80" y="533.99" font-size="7.2" text-anchor="end" font-family='"Liberation Mono", monospace' fill="#2a2a2a" >0</text>
<line x1="471.30" y1="533.80" x2="474.70" y2="533.80" stroke="#111" stroke-width="0.9" />
<text x="466.80" y="541.09" font-size="7.2" text-anchor="end" font-family='"Liberation Mono", monospace' fill="#2a2a2a" >19.8962</text>
<line x1="471.30" y1="540.90" x2="474.70" y2="540.90" stroke="#111" stroke-width="0.9" />
<text x="466.80" y="556.99" font-size="7.2" text-anchor="end" font-family='"Liberation Mono", monospace' fill="#2a2a2a" >0</text>
<line x1="471.30" y1="556.80" x2="474.70" y2="556.80" stroke="#111" stroke-width="0.9" />
<text x="466.80" y="564.09" font-size="7.2" text-anchor="end" font-family='"Liberation Mono", monospace' fill="#2a2a2a" >19.8962</text>
<line x1="471.30" y1="563.90" x2="474.70" y2="563.90" stroke="#111" stroke-width="0.9" />
<text x="466.80" y="579.99" font-size="7.2" text-anchor="end" font-family='"Liberation Mono", monospace' fill="#2a2a2a" >0</text>
<line x1="471.30" y1="579.80" x2="474.70" y2="579.80" stroke="#111" stroke-width="0.9" />
<path d="M478.5 381.3L478.5 377.3L479.1 378.3L479.7 376.6L480.3 376.1L480.9 376.4L481.5 377.9L482.1 377.3L482.7 377.2L483.3 375.4L483.9 376.5L484.5 375.7L485.1 376.6L485.7 376.4L486.3 375.3L486.9 376.8L487.5 376.2L488.1 377.2L488.7 376.7L489.3 374.2L489.9 377.7L490.5 375.8L491.1 376.8L491.7 376.5L492.3 376.8L492.9 377.5L493.5 377.7L494.1 377.2L494.7 376.1L495.3 377.5L495.9 377.7L496.5 377.7L497.1 376.7L497.7 377.1L498.3 374.8L498.9 376.5L499.5 374.4L500.1 377.0L500.7 377.1L501.3 376.2L501.9 376.3L502.5 376.1L503.1 377.5L503.7 377.3L504.3 377.6L504.9 377.5L505.5 377.8L506.1 375.6L506.7 377.0L507.3 378.5L507.9 378.5L508.5 377.1L509.1 377.8L509.7 378.2L510.3 378.8L510.9 375.5L511.5 378.8L512.1 377.5L512.7 378.2L513.3 378.5L513.9 378.4L514.5 378.1L515.1 378.5L515.7 376.0L516.3 376.5L516.9 377.1L517.5 378.3L518.1 378.2L518.7 378.4L519.3 378.3L519.9 374.1L520.5 378.1L521.1 378.9L521.7 377.9L522.3 375.4L522.9 378.7L523.5 376.8L524.1 377.5L524.7 378.5L525.3 378.0L525.9 377.1L526.5 378.8L527.1 378.3L527.7 377.2L528.3 376.4L528.9 377.5L529.5 378.1L530.1 375.3L530.7 376.4L531.3 378.6L531.9 378.8L532.5 378.5L533.1 377.6L533.7 377.9L534.3 378.5L534.9 377.7L535.5 378.4L536.1 377.1L536.7 377.8L537.3 376.8L537.9 377.3L538.5 376.3L539.1 378.5L539.7 378.3L540.3 377.3L540.9 378.6L541.5 377.8L542.1 378.8L542.7 377.3L543.3 378.4L543.9 375.1L544.5 377.7L545.1 378.1L545.7 378.0L546.3 377.8L546.9 378.4L547.5 378.1L548.1 378.3L548.7 377.9L549.3 375.0L549.9 377.6L550.5 377.2L551.1 375.7L551.7 376.9L552.3 378.7L552.9 378.4L553.5 378.9L554.1 378.5L554.7 377.5L555.3 375.9L555.9 376.4L556.5 378.4L557.1 378.2L557.7 378.1L558.3 378.6L558.9 377.3L559.5 377.9L560.1 378.7L560.7 378.4L561.3 376.7L561.9 378.2L562.5 378.8L563.1 377.4L563.7 378.2L564.3 378.3L564.9 378.3L565.5 376.4L566.1 377.6L566.7 377.7L567.3 378.5L567.9 378.6L568.5 378.0L569.1 378.7L569.7 378.5L570.3 378.4L570.9 378.7L571.5 377.8L572.1 378.0L572.7 378.8L573.3 377.0L573.9 378.4L574.5 378.2L575.1 378.3L575.7 375.2L576.3 378.4L576.9 375.3L577.5 378.0L578.1 374.1L578.7 377.8L579.3 377.2L579.9 377.4L580.5 376.7L581.1 378.2L581.7 377.9L582.3 378.0L582.9 377.0L583.5 376.7L584.1 377.3L584.7 375.6L585.3 377.7L585.9 377.1L586.5 377.1L587.1 376.0L587.7 375.4L588.3 377.3L588.9 375.5L589.5 376.7L590.1 375.2L590.7 375.2L591.3 377.1L591.9 374.7L592.5 377.3L593.1 375.5L593.7 377.4L594.3 377.5L594.9 376.2L595.5 376.8L596.1 377.4L596.7 376.8L597.3 377.4L597.9 377.9L598.5 377.7L599.1 377.9L599.7 377.3L600.3 378.1L600.9 376.8L601.5 378.4L602.1 376.2L602.7 378.4L603.3 377.5L603.9 376.6L604.5 375.1L605.1 378.7L605.7 375.4L606.3 376.7L606.9 376.1L607.5 378.6L608.1 377.8L608.7 378.0L609.3 378.6L609.9 376.3L610.5 378.5L611.1 377.9L611.7 378.3L612.3 378.4L612.9 375.1L613.5 377.3L614.1 377.2L614.7 377.1L615.3 377.1L615.9 378.5L616.5 377.4L617.1 377.3L617.7 378.8L618.3 377.7L618.9 377.9L619.5 378.8L619.5 381.3Z" fill="#555555"/>
<path d="M478.5 404.3L478.5 396.9L479.1 398.4L479.7 398.7L480.3 399.4L480.9 399.7L481.5 400.0L482.1 401.0L482.7 398.4L483.3 400.8L483.9 401.2L484.5 400.7L485.1 401.4L485.7 401.0L486.3 399.2L486.9 399.1L487.5 401.5L488.1 398.9L488.7 399.8L489.3 399.3L489.9 399.4L490.5 401.2L491.1 401.8L491.7 401.4L492.3 400.8L492.9 400.4L493.5 400.8L494.1 400.2L494.7 399.4L495.3 401.0L495.9 401.3L496.5 401.6L497.1 400.1L497.7 400.3L498.3 400.6L498.9 400.9L499.5 401.5L500.1 400.7L500.7 401.1L501.3 400.9L501.9 400.1L502.5 401.0L503.1 399.6L503.7 401.4L504.3 401.2L504.9 400.9L505.5 400.9L506.1 399.8L506.7 401.2L507.3 401.7L507.9 398.6L508.5 401.8L509.1 400.8L509.7 400.5L510.3 401.5L510.9 399.9L511.5 401.7L512.1 398.7L512.7 401.3L513.3 400.5L513.9 399.2L514.5 401.2L514.5 404.3ZM517.5 404.3L517.5 401.8L518.1 401.6L518.7 400.6L519.3 401.3L519.9 401.7L520.5 398.1L521.1 401.2L521.7 400.0L522.3 399.7L522.9 398.6L523.5 397.5L524.1 395.6L524.7 387.7L525.3 383.7L525.9 387.8L526.5 396.5L527.1 399.8L527.7 399.2L528.3 398.8L528.9 399.7L529.5 399.4L530.1 399.7L530.7 399.0L531.3 399.6L531.9 398.7L532.5 399.5L533.1 399.5L533.7 398.8L534.3 401.3L534.9 399.8L535.5 401.4L536.1 400.2L536.7 400.0L537.3 399.6L537.9 400.4L538.5 401.8L539.1 401.0L539.7 399.6L540.3 401.2L540.9 401.7L541.5 400.5L542.1 401.9L542.7 400.4L543.3 400.3L543.9 400.7L544.5 401.6L545.1 401.7L545.7 400.8L546.3 399.3L546.9 401.5L547.5 401.3L548.1 401.2L548.7 401.1L549.3 398.6L549.9 401.0L550.5 401.7L551.1 400.8L551.7 401.2L552.3 400.4L552.9 398.5L553.5 397.0L554.1 399.6L554.7 400.9L555.3 401.3L555.9 401.9L556.5 401.3L557.1 400.4L557.7 399.7L558.3 401.4L558.9 399.9L559.5 401.4L560.1 398.3L560.7 399.9L561.3 400.6L561.9 401.1L562.5 399.8L563.1 400.1L563.7 400.9L564.3 401.7L564.9 398.3L565.5 401.2L566.1 399.6L566.7 401.3L567.3 400.9L567.9 401.7L568.5 399.0L569.1 400.8L569.7 401.0L570.3 401.4L570.9 401.3L571.5 400.8L572.1 401.0L572.7 400.9L573.3 400.3L573.9 401.5L574.5 401.6L575.1 400.2L575.7 401.4L576.3 401.8L576.9 401.5L577.5 401.1L578.1 400.9L578.7 401.4L579.3 400.9L579.9 400.2L580.5 399.2L581.1 400.4L581.7 401.0L582.3 398.4L582.9 401.0L583.5 400.6L584.1 400.3L584.7 401.5L585.3 401.5L585.9 400.1L586.5 400.6L587.1 399.1L587.7 401.4L588.3 401.4L588.9 400.0L589.5 401.5L590.1 401.8L590.7 399.7L591.3 400.5L591.9 401.4L592.5 400.8L593.1 401.8L593.7 400.1L594.3 401.2L594.9 400.7L595.5 399.0L596.1 401.8L596.7 401.6L597.3 401.1L597.9 401.7L598.5 401.5L599.1 400.8L599.7 400.9L600.3 399.9L600.9 400.5L601.5 401.3L602.1 401.0L602.7 400.8L603.3 400.2L603.9 400.9L604.5 399.3L605.1 401.4L605.7 401.8L606.3 401.4L606.9 398.9L607.5 401.5L608.1 401.5L608.7 400.4L609.3 399.6L609.9 401.0L610.5 399.7L611.1 400.8L611.7 400.9L612.3 398.2L612.9 400.0L613.5 401.1L614.1 398.8L614.7 401.7L615.3 400.4L615.9 400.1L616.5 400.7L617.1 401.0L617.7 398.5L618.3 401.6L618.9 397.7L619.5 401.0L619.5 404.3Z" fill="#5b5bc6"/>
<path d="M478.5 427.6L478.5 425.4L479.1 424.6L479.7 425.4L480.3 423.6L480.9 423.7L481.5 425.5L482.1 423.7L482.7 424.2L483.3 425.1L483.9 424.1L484.5 425.8L485.1 424.9L485.7 425.5L486.3 425.8L486.9 424.6L487.5 425.6L488.1 425.1L488.7 425.7L489.3 424.5L489.9 424.0L490.5 425.1L491.1 424.8L491.7 424.5L492.3 425.8L492.9 423.4L493.5 423.9L494.1 422.5L494.7 425.4L495.3 425.2L495.9 425.9L496.5 424.9L497.1 425.8L497.7 425.3L498.3 426.0L498.9 425.2L499.5 425.6L500.1 424.9L500.7 425.1L501.3 425.4L501.9 422.3L502.5 424.9L503.1 423.3L503.7 423.7L504.3 424.7L504.9 423.1L505.5 423.0L506.1 424.8L506.7 425.3L507.3 424.0L507.9 425.7L508.5 423.7L509.1 425.6L509.7 425.3L510.3 425.0L510.9 425.0L511.5 423.8L512.1 424.2L512.7 425.6L513.3 424.9L513.9 424.8L514.5 424.8L515.1 425.2L515.7 425.6L516.3 423.8L516.9 424.6L517.5 425.3L518.1 424.5L518.7 425.1L519.3 424.8L519.9 424.3L520.5 425.3L521.1 424.1L521.7 423.8L522.3 424.3L522.9 423.4L523.5 424.0L524.1 423.8L524.7 421.1L525.3 416.0L525.9 419.7L526.5 424.1L527.1 424.9L527.7 423.1L528.3 425.9L528.9 424.5L529.5 425.9L530.1 423.6L530.7 425.7L531.3 424.3L531.9 424.3L532.5 423.9L533.1 422.7L533.7 425.6L534.3 424.8L534.9 423.1L535.5 425.6L536.1 425.0L536.7 424.1L537.3 423.0L537.9 424.1L538.5 425.9L539.1 423.5L539.7 424.0L540.3 424.4L540.9 424.7L541.5 425.4L542.1 423.5L542.7 425.2L543.3 425.6L543.9 425.9L544.5 425.3L545.1 423.4L545.7 424.6L546.3 424.8L546.9 423.9L547.5 424.8L548.1 425.2L548.7 425.1L549.3 424.8L549.9 425.9L550.5 423.8L551.1 425.2L551.7 425.7L552.3 425.5L552.9 425.5L553.5 425.7L554.1 425.8L554.7 423.4L555.3 426.0L555.9 424.6L556.5 425.6L557.1 423.8L557.7 423.7L558.3 425.6L558.9 424.3L559.5 425.9L560.1 424.1L560.7 424.8L561.3 425.7L561.9 423.7L562.5 421.6L563.1 419.6L563.7 420.7L564.3 425.2L564.9 425.8L565.5 425.7L566.1 425.4L566.7 425.6L567.3 424.1L567.9 426.0L568.5 425.5L569.1 424.7L569.7 423.5L570.3 425.3L570.9 425.2L571.5 425.1L572.1 425.5L572.7 424.8L573.3 425.5L573.9 425.8L574.5 424.9L575.1 425.3L575.7 424.7L576.3 425.7L576.9 425.7L577.5 424.5L578.1 423.4L578.7 424.0L579.3 425.2L579.9 425.2L580.5 425.3L581.1 425.6L581.7 423.7L582.3 425.0L582.9 425.9L583.5 425.2L584.1 425.7L584.7 425.4L585.3 425.9L585.9 425.2L586.5 424.3L587.1 424.7L587.7 425.8L588.3 425.5L588.9 425.4L589.5 425.6L590.1 425.5L590.7 423.9L591.3 424.6L591.9 425.2L592.5 425.0L593.1 425.4L593.7 425.5L594.3 425.4L594.9 424.9L595.5 425.8L596.1 424.0L596.7 423.8L597.3 424.2L597.9 425.2L598.5 426.0L599.1 425.9L599.7 425.4L600.3 423.2L600.9 426.0L601.5 424.3L602.1 424.1L602.7 423.2L603.3 425.9L603.9 425.2L604.5 425.9L605.1 425.8L605.7 425.9L606.3 425.4L606.9 424.6L607.5 425.9L608.1 424.4L608.7 425.9L609.3 424.7L609.9 424.2L610.5 423.9L611.1 425.3L611.7 425.1L612.3 423.6L612.9 424.9L613.5 424.6L614.1 422.4L614.7 424.5L615.3 425.3L615.9 423.1L616.5 425.8L617.1 425.4L617.7 425.9L618.3 425.6L618.9 425.6L619.5 425.2L619.5 427.6Z" fill="#c65b5b"/>
<path d="M525.3 457.6L525.3 457.3L525.8 457.0L526.3 456.2L526.8 453.5L527.3 451.1L527.8 453.5L528.3 446.7L528.8 441.7L529.3 446.6L529.8 453.7L530.3 450.8L530.8 451.6L531.3 455.5L531.8 457.0L532.3 457.2L532.3 457.6Z" fill="#5b5bc6"/>
<path d="M536.1 457.6L536.1 456.3L536.6 456.8L537.1 456.0L537.6 449.4L538.1 445.7L538.6 452.9L539.1 443.0L539.6 436.5L540.1 443.4L540.6 452.6L541.1 451.5L541.6 452.4L542.1 456.0L542.6 457.2L543.1 456.9L543.1 457.6Z" fill="#5b5bc6"/>
<path d="M558.1 457.6L558.1 457.0L558.6 456.8L559.1 456.2L559.6 451.4L560.1 447.9L560.6 452.9L561.1 442.8L561.6 436.1L562.1 443.0L562.6 452.3L563.1 451.2L563.6 452.2L564.1 455.9L564.6 456.7L565.1 457.1L565.1 457.6Z" fill="#5b5bc6"/>
<path d="M574.5 457.6L574.5 456.8L575.0 456.7L575.5 456.8L576.0 456.8L576.5 457.2L577.0 456.4L577.5 455.2L578.0 454.2L578.5 454.9L579.0 456.4L579.5 456.8L580.0 457.1L580.5 456.7L581.0 457.0L581.5 457.0L581.5 457.6Z" fill="#5b5bc6"/>
<path d="M579.5 457.6L579.5 456.6L580.0 457.3L580.5 456.9L581.0 457.2L581.5 457.1L582.0 456.9L582.5 455.3L583.0 455.1L583.5 455.4L584.0 456.8L584.5 457.0L585.0 457.1L585.5 456.2L586.0 457.3L586.5 457.2L586.5 457.6Z" fill="#5b5bc6"/>
<path d="M479.0 457.6H481.0V456.6H479.0ZM484.0 457.6H486.0V456.6H484.0ZM489.0 457.6H490.0V456.6H489.0ZM495.0 457.6H498.0V456.6H495.0ZM502.0 457.6H504.0V456.6H502.0ZM510.0 457.6H511.0V456.6H510.0ZM514.0 457.6H516.0V456.6H514.0ZM519.0 457.6H523.0V456.3H519.0ZM526.0 457.6H532.0V456.1H526.0ZM536.0 457.6H543.0V456.3H536.0ZM550.0 457.6H553.0V456.6H550.0ZM558.0 457.6H566.0V456.2H558.0ZM575.0 457.6H584.0V456.3H575.0ZM589.0 457.6H594.0V456.6H589.0ZM600.0 457.6H602.0V456.6H600.0ZM612.0 457.6H614.0V456.6H612.0Z" fill="#5b5bc6"/>
<path d="M482.4 480.6L482.4 479.4L482.9 480.0L483.4 480.1L483.9 480.2L484.4 479.8L484.9 478.5L485.4 476.1L485.9 474.0L486.4 475.8L486.9 478.7L487.4 479.9L487.9 480.2L488.4 479.9L488.9 480.1L489.4 480.1L489.4 480.6Z" fill="#c65b5b"/>
<path d="M525.3 480.6L525.3 479.0L525.8 480.0L526.3 479.3L526.8 474.9L527.3 472.3L527.8 476.9L528.3 470.8L528.8 465.7L529.3 470.2L529.8 476.9L530.3 475.1L530.8 475.8L531.3 479.2L531.8 480.1L532.3 480.1L532.3 480.6Z" fill="#c65b5b"/>
<path d="M536.1 480.6L536.1 480.2L536.6 480.0L537.1 478.8L537.6 473.9L538.1 471.2L538.6 475.3L539.1 467.0L539.6 460.1L540.1 466.4L540.6 475.3L541.1 471.3L541.6 472.7L542.1 478.6L542.6 479.6L543.1 479.8L543.1 480.6Z" fill="#c65b5b"/>
<path d="M558.1 480.6L558.1 480.2L558.6 479.5L559.1 479.9L559.6 477.7L560.1 476.4L560.6 478.5L561.1 475.3L561.6 472.5L562.1 475.2L562.6 478.8L563.1 476.8L563.6 477.6L564.1 479.4L564.6 480.2L565.1 480.1L565.1 480.6Z" fill="#c65b5b"/>
<path d="M576.5 480.6L576.5 480.0L577.0 480.1L577.5 480.0L578.0 480.1L578.5 479.6L579.0 479.5L579.5 477.8L580.0 477.3L580.5 478.0L581.0 479.2L581.5 480.1L582.0 480.0L582.5 479.4L583.0 480.2L583.5 480.2L583.5 480.6Z" fill="#c65b5b"/>
<path d="M586.5 480.6L586.5 480.2L587.0 480.0L587.5 479.7L588.0 480.1L588.5 480.1L589.0 479.8L589.5 478.5L590.0 477.6L590.5 478.3L591.0 479.7L591.5 479.4L592.0 479.9L592.5 480.0L593.0 480.1L593.5 480.1L593.5 480.6Z" fill="#c65b5b"/>
<path d="M592.5 480.6L592.5 480.1L593.0 479.5L593.5 479.7L594.0 480.0L594.5 479.9L595.0 479.7L595.5 478.3L596.0 477.3L596.5 477.7L597.0 479.3L597.5 479.6L598.0 480.2L598.5 480.0L599.0 480.3L599.5 480.2L599.5 480.6Z" fill="#c65b5b"/>
<path d="M479.0 480.6H480.0V479.6H479.0ZM482.0 480.6H489.0V479.4H482.0ZM492.0 480.6H494.0V479.6H492.0ZM497.0 480.6H510.0V479.3H497.0ZM512.0 480.6H515.0V479.6H512.0ZM519.0 480.6H522.0V479.6H519.0ZM526.0 480.6H532.0V478.8H526.0ZM535.0 480.6H545.0V478.6H535.0ZM548.0 480.6H552.0V479.6H548.0ZM556.0 480.6H565.0V479.1H556.0ZM570.0 480.6H572.0V479.6H570.0ZM576.0 480.6H600.0V479.3H576.0ZM604.0 480.6H607.0V479.6H604.0ZM611.0 480.6H613.0V479.6H611.0ZM617.0 480.6H620.0V479.6H617.0Z" fill="#c65b5b"/>
<path d="M525.3 503.6L525.3 502.9L525.8 502.9L526.3 502.5L526.8 499.3L527.3 496.6L527.8 500.1L528.3 493.1L528.8 488.0L529.3 492.7L529.8 500.1L530.3 497.6L530.8 498.1L531.3 502.1L531.8 503.1L532.3 502.8L532.3 503.6Z" fill="#c65b5b"/>
<path d="M536.1 503.6L536.1 502.7L536.6 503.2L537.1 502.3L537.6 498.2L538.1 495.0L538.6 499.8L539.1 492.0L539.6 486.5L540.1 491.8L540.6 499.7L541.1 495.9L541.6 497.3L542.1 501.2L542.6 502.7L543.1 502.9L543.1 503.6Z" fill="#c65b5b"/>
<path d="M558.1 503.6L558.1 502.4L558.6 503.0L559.1 503.2L559.6 503.2L560.1 503.0L560.6 502.0L561.1 499.5L561.6 498.2L562.1 499.7L562.6 502.0L563.1 502.8L563.6 503.3L564.1 503.0L564.6 502.9L565.1 502.6L565.1 503.6Z" fill="#c65b5b"/>
<path d="M576.5 503.6L576.5 502.9L577.0 502.9L577.5 502.5L578.0 502.5L578.5 502.2L579.0 502.3L579.5 500.4L580.0 498.6L580.5 499.8L581.0 502.0L581.5 502.9L582.0 503.2L582.5 503.0L583.0 503.0L583.5 502.8L583.5 503.6Z" fill="#c65b5b"/>
<path d="M596.5 503.6L596.5 503.3L597.0 503.2L597.5 502.6L598.0 502.3L598.5 502.6L599.0 502.4L599.5 501.4L600.0 500.7L600.5 501.4L601.0 502.1L601.5 503.1L602.0 503.2L602.5 503.2L603.0 503.2L603.5 503.2L603.5 503.6Z" fill="#c65b5b"/>
<path d="M493.5 503.6L493.5 502.9L494.0 502.5L494.5 502.5L495.0 501.9L495.5 503.2L496.0 502.8L496.5 501.8L497.0 501.2L497.5 501.9L498.0 502.7L498.5 502.9L499.0 503.1L499.5 503.2L500.0 502.5L500.5 503.1L500.5 503.6Z" fill="#c65b5b"/>
<path d="M479.0 503.6H481.0V502.6H479.0ZM485.0 503.6H487.0V502.6H485.0ZM490.0 503.6H492.0V502.6H490.0ZM495.0 503.6H512.0V502.1H495.0ZM515.0 503.6H518.0V502.6H515.0ZM521.0 503.6H534.0V502.1H521.0ZM536.0 503.6H546.0V501.6H536.0ZM549.0 503.6H553.0V502.6H549.0ZM557.0 503.6H566.0V502.1H557.0ZM575.0 503.6H586.0V502.1H575.0ZM591.0 503.6H594.0V502.6H591.0ZM598.0 503.6H603.0V502.1H598.0ZM609.0 503.6H612.0V502.6H609.0Z" fill="#c65b5b"/>
<path d="M525.3 533.2L525.3 532.7L525.8 532.7L526.3 531.9L526.8 528.8L527.3 526.3L527.8 529.4L528.3 522.7L528.8 517.6L529.3 522.4L529.8 529.7L530.3 528.5L530.8 529.0L531.3 531.9L531.8 532.0L532.3 532.6L532.3 533.2Z" fill="#5b5bc6"/>
<path d="M536.1 533.2L536.1 532.3L536.6 532.7L537.1 531.8L537.6 529.5L538.1 527.0L538.6 530.8L539.1 526.4L539.6 522.9L540.1 526.1L540.6 530.7L541.1 530.0L541.6 530.2L542.1 532.3L542.6 532.1L543.1 532.6L543.1 533.2Z" fill="#5b5bc6"/>
<path d="M558.1 533.2L558.1 532.5L558.6 532.6L559.1 531.2L559.6 525.7L560.1 522.3L560.6 528.4L561.1 518.0L561.6 511.2L562.1 518.2L562.6 528.1L563.1 525.9L563.6 526.8L564.1 531.1L564.6 532.7L565.1 532.8L565.1 533.2Z" fill="#5b5bc6"/>
<path d="M576.0 533.2L576.0 532.4L576.5 532.6L577.0 532.4L577.5 529.4L578.0 527.8L578.5 530.4L579.0 525.2L579.5 521.5L580.0 524.9L580.5 530.4L581.0 528.8L581.5 529.6L582.0 532.1L582.5 532.6L583.0 532.8L583.0 533.2Z" fill="#5b5bc6"/>
<path d="M546.5 533.2L546.5 532.8L547.0 532.3L547.5 532.9L548.0 532.5L548.5 532.6L549.0 532.1L549.5 531.0L550.0 530.7L550.5 530.8L551.0 531.9L551.5 532.7L552.0 531.9L552.5 532.6L553.0 532.9L553.5 532.2L553.5 533.2Z" fill="#5b5bc6"/>
<path d="M494.5 533.2L494.5 532.8L495.0 532.1L495.5 532.4L496.0 532.4L496.5 532.3L497.0 532.4L497.5 531.3L498.0 530.7L498.5 531.5L499.0 531.7L499.5 532.1L500.0 532.9L500.5 532.9L501.0 532.7L501.5 532.8L501.5 533.2Z" fill="#5b5bc6"/>
<path d="M480.0 533.2H482.0V532.2H480.0ZM484.0 533.2H486.0V532.2H484.0ZM489.0 533.2H493.0V532.2H489.0ZM496.0 533.2H505.0V532.0H496.0ZM509.0 533.2H511.0V532.2H509.0ZM515.0 533.2H517.0V532.2H515.0ZM524.0 533.2H534.0V531.5H524.0ZM536.0 533.2H544.0V531.6H536.0ZM547.0 533.2H553.0V532.0H547.0ZM558.0 533.2H565.0V531.6H558.0ZM569.0 533.2H571.0V532.2H569.0ZM576.0 533.2H583.0V531.4H576.0ZM588.0 533.2H591.0V532.2H588.0ZM597.0 533.2H600.0V532.2H597.0ZM605.0 533.2H611.0V532.2H605.0ZM614.0 533.2H620.0V532.2H614.0Z" fill="#5b5bc6"/>
<path d="M525.3 556.2L525.3 555.6L525.8 555.0L526.3 555.1L526.8 550.8L527.3 549.1L527.8 553.1L528.3 546.6L528.8 542.7L529.3 546.9L529.8 553.1L530.3 550.4L530.8 551.3L531.3 554.4L531.8 555.7L532.3 555.6L532.3 556.2Z" fill="#c65b5b"/>
<path d="M536.1 556.2L536.1 555.9L536.6 555.9L537.1 555.3L537.6 553.7L538.1 552.4L538.6 554.1L539.1 550.3L539.6 547.1L540.1 550.5L540.6 554.2L541.1 552.2L541.6 552.1L542.1 555.2L542.6 555.6L543.1 554.9L543.1 556.2Z" fill="#c65b5b"/>
<path d="M558.1 556.2L558.1 555.3L558.6 555.8L559.1 555.6L559.6 555.0L560.1 555.4L560.6 554.1L561.1 552.9L561.6 551.7L562.1 553.0L562.6 554.9L563.1 555.7L563.6 555.8L564.1 555.7L564.6 555.4L565.1 555.3L565.1 556.2Z" fill="#c65b5b"/>
<path d="M563.5 556.2L563.5 555.9L564.0 555.7L564.5 555.6L565.0 555.7L565.5 555.4L566.0 555.2L566.5 553.8L567.0 553.4L567.5 554.1L568.0 555.3L568.5 555.8L569.0 555.9L569.5 555.1L570.0 555.2L570.5 555.8L570.5 556.2Z" fill="#c65b5b"/>
<path d="M574.5 556.2L574.5 555.5L575.0 555.5L575.5 555.8L576.0 555.9L576.5 555.4L577.0 554.3L577.5 553.3L578.0 551.8L578.5 552.7L579.0 554.8L579.5 555.6L580.0 555.6L580.5 555.2L581.0 555.8L581.5 555.4L581.5 556.2Z" fill="#c65b5b"/>
<path d="M580.5 556.2L580.5 555.5L581.0 555.7L581.5 555.1L582.0 555.0L582.5 555.6L583.0 554.9L583.5 553.3L584.0 551.7L584.5 553.0L585.0 554.7L585.5 555.0L586.0 555.6L586.5 555.8L587.0 555.8L587.5 555.7L587.5 556.2Z" fill="#c65b5b"/>
<path d="M482.1 556.2L482.1 555.7L482.6 555.8L483.1 555.4L483.6 554.6L484.1 555.7L484.6 555.0L485.1 552.7L485.6 551.9L486.1 552.9L486.6 554.9L487.1 555.2L487.6 555.5L488.1 555.5L488.6 555.8L489.1 555.1L489.1 556.2Z" fill="#c65b5b"/>
<path d="M479.0 556.2H482.0V555.2H479.0ZM485.0 556.2H487.0V555.0H485.0ZM490.0 556.2H492.0V555.2H490.0ZM495.0 556.2H498.0V555.2H495.0ZM502.0 556.2H510.0V555.0H502.0ZM514.0 556.2H516.0V555.2H514.0ZM520.0 556.2H534.0V554.4H520.0ZM536.0 556.2H543.0V554.6H536.0ZM548.0 556.2H550.0V555.2H548.0ZM556.0 556.2H568.0V554.8H556.0ZM574.0 556.2H588.0V554.6H574.0ZM592.0 556.2H594.0V555.2H592.0ZM599.0 556.2H601.0V555.2H599.0ZM605.0 556.2H607.0V555.2H605.0ZM616.0 556.2H620.0V555.0H616.0Z" fill="#c65b5b"/>
<path d="M525.3 579.5L525.3 578.9L525.8 579.1L526.3 577.5L526.8 572.3L527.3 568.1L527.8 575.0L528.3 565.5L528.8 559.2L529.3 565.9L529.8 574.4L530.3 571.0L530.8 571.7L531.3 577.1L531.8 579.0L532.3 579.0L532.3 579.5Z" fill="#c65b5b"/>
<path d="M536.1 579.5L536.1 578.7L536.6 579.0L537.1 578.1L537.6 575.6L538.1 573.8L538.6 576.6L539.1 572.4L539.6 569.6L540.1 572.4L540.6 577.0L541.1 576.1L541.6 576.4L542.1 578.4L542.6 578.7L543.1 579.0L543.1 579.5Z" fill="#c65b5b"/>
<path d="M558.1 579.5L558.1 579.0L558.6 578.6L559.1 578.6L559.6 578.5L560.1 578.7L560.6 578.3L561.1 576.8L561.6 575.7L562.1 576.8L562.6 577.5L563.1 578.7L563.6 579.1L564.1 578.9L564.6 579.0L565.1 579.1L565.1 579.5Z" fill="#c65b5b"/>
<path d="M574.5 579.5L574.5 579.1L575.0 578.8L575.5 578.9L576.0 578.8L576.5 578.7L577.0 578.3L577.5 576.2L578.0 575.0L578.5 576.5L579.0 578.2L579.5 578.3L580.0 579.2L580.5 579.1L581.0 579.2L581.5 579.1L581.5 579.5Z" fill="#c65b5b"/>
<path d="M596.5 579.5L596.5 578.8L597.0 578.4L597.5 579.0L598.0 579.0L598.5 578.8L599.0 578.4L599.5 576.3L600.0 575.5L600.5 577.1L601.0 578.5L601.5 579.1L602.0 578.8L602.5 578.9L603.0 579.2L603.5 578.4L603.5 579.5Z" fill="#c65b5b"/>
<path d="M494.5 579.5L494.5 579.1L495.0 578.8L495.5 578.5L496.0 578.5L496.5 578.9L497.0 578.5L497.5 577.0L498.0 576.1L498.5 577.4L499.0 578.5L499.5 579.0L500.0 579.2L500.5 578.9L501.0 578.5L501.5 579.1L501.5 579.5Z" fill="#c65b5b"/>
<path d="M479.0 579.5H481.0V578.5H479.0ZM485.0 579.5H488.0V578.5H485.0ZM492.0 579.5H494.0V578.5H492.0ZM496.0 579.5H506.0V578.2H496.0ZM510.0 579.5H518.0V578.4H510.0ZM522.0 579.5H534.0V577.7H522.0ZM537.0 579.5H545.0V577.9H537.0ZM549.0 579.5H551.0V578.5H549.0ZM556.0 579.5H566.0V578.2H556.0ZM573.0 579.5H582.0V577.9H573.0ZM587.0 579.5H590.0V578.5H587.0ZM596.0 579.5H602.0V578.1H596.0ZM607.0 579.5H609.0V578.5H607.0Z" fill="#c65b5b"/>
<text x="492.00" y="592.60" font-size="7.2" font-family='"Liberation Mono", monospace' fill="#7ac143" >SLC1A3</text>
<line x1="520.50" y1="590.20" x2="618.60" y2="590.20" stroke="#7ac143" stroke-width="1" />
<rect x="520.50" y="588.60" width="24.50" height="3.40" fill="#6ab534" />
<rect x="575.70" y="588.60" width="23.00" height="3.40" fill="#6ab534" />
<line x1="618.60" y1="587.50" x2="618.60" y2="592.50" stroke="#7ac143" stroke-width="1" />
<text x="4.30" y="611.80" font-size="21" font-weight="bold" >f</text>
<text x="31.50" y="685.51" font-size="12.8" fill="#111" >ChIPseq</text>
<text transform="translate(94.80,683.00) rotate(-90)" text-anchor="middle" font-size="10.4" fill="#111">Etop</text>
<path d="M108.6 657.0H101.0V719.4H108.6" fill="none" stroke="#111" stroke-width="1.3" />
<text x="108.60" y="670.64" font-size="10.4" fill="#111" >IgG (Control)</text>
<text x="108.60" y="693.94" font-size="10.4" fill="#111" >P53 (Control)</text>
<text x="108.60" y="712.94" font-size="10.4" fill="#111" >P53 (DAXX_KO)</text>
<path d="M124.1 725.3H116.4V775.8H124.1" fill="none" stroke="#111" stroke-width="1.3" />
<text transform="translate(114.10,751.20) rotate(-90)" text-anchor="middle" font-size="10.4" fill="#111">DMSO</text>
<text x="124.10" y="736.34" font-size="10.4" fill="#111" >Control</text>
<text x="124.10" y="755.54" font-size="10.4" fill="#111" >DAXX_KO</text>
<text x="124.10" y="773.64" font-size="10.4" fill="#111" >ATRX_KO</text>
<text x="43.00" y="781.80" font-size="13" textLength="56" lengthAdjust="spacingAndGlyphs" >ATACseq</text>
<path d="M124.1 783.0H116.4V833.3H124.1" fill="none" stroke="#111" stroke-width="1.3" />
<text transform="translate(110.30,810.80) rotate(-90)" text-anchor="middle" font-size="10.4" fill="#111">Etop</text>
<text x="125.50" y="795.54" font-size="10.4" fill="#111" >Control</text>
<text x="125.50" y="812.54" font-size="10.4" fill="#111" >DAXX_KO</text>
<text x="125.50" y="830.64" font-size="10.4" fill="#111" >ATRX_KO</text>
<text x="183.20" y="622.90" font-size="13" textLength="128.2" lengthAdjust="spacingAndGlyphs" >Subtelomeric p53 Site</text>
<path d="M259.4 628.4H264.6V634.8H267.5L262.0 640.7L256.5 634.8H259.4Z" fill="#ffc000" stroke="#2f5597" stroke-width="1.3" stroke-linejoin="miter"/>
<line x1="204.60" y1="640.90" x2="204.60" y2="838.00" stroke="#f2a5a5" stroke-width="1" />
<text x="204.00" y="646.00" font-size="5.9" text-anchor="end" font-family='"Liberation Mono", monospace' fill="#2a2a2a" >Scale</text>
<text x="204.00" y="652.30" font-size="5.9" text-anchor="end" font-family='"Liberation Mono", monospace' fill="#2a2a2a" >chr5:</text>
<text x="206.20" y="646.00" font-size="5.9" font-family='"Liberation Mono", monospace' fill="#2a2a2a" >500 bases</text>
<line x1="237.90" y1="643.90" x2="290.80" y2="643.90" stroke="#555" stroke-width="0.9" />
<line x1="237.90" y1="641.50" x2="237.90" y2="646.30" stroke="#555" stroke-width="0.9" />
<line x1="290.80" y1="641.50" x2="290.80" y2="646.30" stroke="#555" stroke-width="0.9" />
<text x="296.10" y="646.00" font-size="5.9" font-family='"Liberation Mono", monospace' fill="#2a2a2a" >hg19</text>
<text x="207.40" y="652.30" font-size="5.9" font-family='"Liberation Mono", monospace' fill="#2a2a2a" >14,500</text>
<line x1="229.50" y1="647.50" x2="229.50" y2="652.80" stroke="#333" stroke-width="0.8" />
<text x="259.50" y="652.30" font-size="5.9" font-family='"Liberation Mono", monospace' fill="#2a2a2a" >15,000</text>
<line x1="281.50" y1="647.50" x2="281.50" y2="652.80" stroke="#333" stroke-width="0.8" />
<clipPath id="cp3"><rect x="205.8" y="640" width="117.69999999999999" height="200"/></clipPath>
<text x="200.20" y="720.10" font-size="5.9" font-family='"Liberation Mono", monospace' fill="#2a2a2a" clip-path="url(#cp3)">this multiWig overlay is for combined</text>
<text x="208.80" y="781.20" font-size="5.9" font-family='"Liberation Mono", monospace' fill="#2a2a2a" clip-path="url(#cp3)">multiWig overlay is for combined</text>
<text x="197.00" y="664.72" font-size="5.9" text-anchor="end" font-family='"Liberation Mono", monospace' fill="#2a2a2a" >4.012</text>
<line x1="199.80" y1="665.00" x2="203.20" y2="665.00" stroke="#111" stroke-width="0.9" />
<text x="197.00" y="678.12" font-size="5.9" text-anchor="end" font-family='"Liberation Mono", monospace' fill="#2a2a2a" >0</text>
<line x1="199.80" y1="678.40" x2="203.20" y2="678.40" stroke="#111" stroke-width="0.9" />
<text x="197.00" y="683.92" font-size="5.9" text-anchor="end" font-family='"Liberation Mono", monospace' fill="#2a2a2a" >4.012</text>
<line x1="199.80" y1="684.20" x2="203.20" y2="684.20" stroke="#111" stroke-width="0.9" />
<text x="197.00" y="697.12" font-size="5.9" text-anchor="end" font-family='"Liberation Mono", monospace' fill="#2a2a2a" >0</text>
<line x1="199.80" y1="697.40" x2="203.20" y2="697.40" stroke="#111" stroke-width="0.9" />
<text x="197.00" y="702.52" font-size="5.9" text-anchor="end" font-family='"Liberation Mono", monospace' fill="#2a2a2a" >4.012</text>
<line x1="199.80" y1="702.80" x2="203.20" y2="702.80" stroke="#111" stroke-width="0.9" />
<text x="197.00" y="716.12" font-size="5.9" text-anchor="end" font-family='"Liberation Mono", monospace' fill="#2a2a2a" >0</text>
<line x1="199.80" y1="716.40" x2="203.20" y2="716.40" stroke="#111" stroke-width="0.9" />
<text x="197.00" y="726.62" font-size="5.9" text-anchor="end" font-family='"Liberation Mono", monospace' fill="#2a2a2a" >11.782</text>
<line x1="199.80" y1="726.90" x2="203.20" y2="726.90" stroke="#111" stroke-width="0.9" />
<text x="197.00" y="739.62" font-size="5.9" text-anchor="end" font-family='"Liberation Mono", monospace' fill="#2a2a2a" >0</text>
<line x1="199.80" y1="739.90" x2="203.20" y2="739.90" stroke="#111" stroke-width="0.9" />
<text x="197.00" y="745.32" font-size="5.9" text-anchor="end" font-family='"Liberation Mono", monospace' fill="#2a2a2a" >11.782</text>
<line x1="199.80" y1="745.60" x2="203.20" y2="745.60" stroke="#111" stroke-width="0.9" />
<text x="197.00" y="758.62" font-size="5.9" text-anchor="end" font-family='"Liberation Mono", monospace' fill="#2a2a2a" >0</text>
<line x1="199.80" y1="758.90" x2="203.20" y2="758.90" stroke="#111" stroke-width="0.9" />
<text x="197.00" y="764.02" font-size="5.9" text-anchor="end" font-family='"Liberation Mono", monospace' fill="#2a2a2a" >11.782</text>
<line x1="199.80" y1="764.30" x2="203.20" y2="764.30" stroke="#111" stroke-width="0.9" />
<text x="197.00" y="777.12" font-size="5.9" text-anchor="end" font-family='"Liberation Mono", monospace' fill="#2a2a2a" >0</text>
<line x1="199.80" y1="777.40" x2="203.20" y2="777.40" stroke="#111" stroke-width="0.9" />
<text x="197.00" y="787.32" font-size="5.9" text-anchor="end" font-family='"Liberation Mono", monospace' fill="#2a2a2a" >8.705</text>
<line x1="199.80" y1="787.60" x2="203.20" y2="787.60" stroke="#111" stroke-width="0.9" />
<text x="197.00" y="800.12" font-size="5.9" text-anchor="end" font-family='"Liberation Mono", monospace' fill="#2a2a2a" >0</text>
<line x1="199.80" y1="800.40" x2="203.20" y2="800.40" stroke="#111" stroke-width="0.9" />
<text x="197.00" y="806.02" font-size="5.9" text-anchor="end" font-family='"Liberation Mono", monospace' fill="#2a2a2a" >8.705</text>
<line x1="199.80" y1="806.30" x2="203.20" y2="806.30" stroke="#111" stroke-width="0.9" />
<text x="197.00" y="819.12" font-size="5.9" text-anchor="end" font-family='"Liberation Mono", monospace' fill="#2a2a2a" >0</text>
<line x1="199.80" y1="819.40" x2="203.20" y2="819.40" stroke="#111" stroke-width="0.9" />
<text x="197.00" y="824.72" font-size="5.9" text-anchor="end" font-family='"Liberation Mono", monospace' fill="#2a2a2a" >8.705</text>
<line x1="199.80" y1="825.00" x2="203.20" y2="825.00" stroke="#111" stroke-width="0.9" />
<text x="197.00" y="838.12" font-size="5.9" text-anchor="end" font-family='"Liberation Mono", monospace' fill="#2a2a2a" >0</text>
<line x1="199.80" y1="838.40" x2="203.20" y2="838.40" stroke="#111" stroke-width="0.9" />
<path d="M206.0 676.4L206.0 676.4L206.5 674.4L207.0 674.0L207.5 674.0L208.0 674.1L208.5 674.2L209.0 673.8L209.5 673.8L210.0 673.9L210.5 673.9L211.0 674.1L211.5 674.2L212.0 673.9L212.5 673.7L213.0 674.0L213.5 673.5L214.0 673.9L214.5 673.8L215.0 673.9L215.5 673.2L216.0 673.4L216.5 673.2L217.0 673.4L217.5 673.8L218.0 673.5L218.5 673.3L219.0 673.5L219.5 672.9L220.0 673.2L220.5 673.3L221.0 672.7L221.5 673.1L222.0 672.5L222.5 672.9L223.0 672.9L223.5 673.1L224.0 673.1L224.5 673.4L225.0 673.6L225.5 673.1L226.0 673.6L226.5 673.3L227.0 673.7L227.5 673.2L228.0 673.3L228.5 673.5L229.0 673.5L229.5 673.7L230.0 673.6L230.5 674.1L231.0 673.9L231.5 673.7L232.0 674.2L232.5 673.7L233.0 673.8L233.5 674.1L234.0 674.2L234.5 674.2L235.0 674.2L235.5 673.8L236.0 674.3L236.5 674.6L237.0 674.5L237.5 674.1L238.0 674.0L238.5 674.3L239.0 674.4L239.5 674.3L240.0 674.2L240.5 674.6L241.0 674.3L241.5 674.4L242.0 674.4L242.5 674.7L243.0 674.7L243.5 674.6L244.0 674.2L244.5 674.6L245.0 674.4L245.5 674.6L246.0 674.8L246.5 674.8L247.0 674.3L247.5 674.4L248.0 674.6L248.5 674.4L249.0 674.5L249.5 674.3L250.0 674.3L250.5 674.7L251.0 674.3L251.5 674.4L252.0 674.7L252.5 674.5L253.0 674.8L253.5 674.9L254.0 675.0L254.5 674.6L255.0 675.1L255.5 675.2L256.0 674.8L256.5 674.8L257.0 675.0L257.5 674.8L258.0 675.4L258.5 675.3L259.0 675.3L259.5 675.3L260.0 675.5L260.5 675.6L261.0 675.4L261.5 675.1L262.0 675.0L262.5 675.2L263.0 675.4L263.5 675.6L264.0 675.2L264.5 675.6L265.0 675.7L265.5 675.8L265.6 676.4Z" fill="#555555"/>
<path d="M275.5 676.4L275.5 676.4L276.0 675.1L276.5 674.9L277.0 675.3L277.5 675.1L278.0 674.5L278.5 674.5L279.0 674.3L279.5 674.4L280.0 674.5L280.5 674.3L281.0 674.0L281.5 674.3L282.0 674.1L282.5 674.2L283.0 673.8L283.5 674.3L284.0 673.7L284.5 673.5L285.0 674.1L285.5 673.6L286.0 673.5L286.5 673.3L287.0 673.4L287.5 673.6L288.0 673.4L288.5 673.0L289.0 673.0L289.5 673.4L290.0 673.4L290.5 673.4L291.0 673.3L291.5 673.0L292.0 673.2L292.5 672.6L293.0 672.8L293.5 673.2L294.0 672.9L294.5 673.0L295.0 672.9L295.5 673.1L296.0 673.1L296.5 673.1L297.0 673.0L297.5 672.8L298.0 672.9L298.5 673.2L299.0 672.8L299.5 672.7L300.0 672.8L300.5 672.8L301.0 673.4L301.5 673.1L302.0 673.4L302.5 672.9L303.0 673.3L303.5 673.0L304.0 673.3L304.5 673.0L305.0 673.3L305.5 673.5L306.0 673.3L306.5 673.4L307.0 673.0L307.5 673.4L308.0 673.3L308.5 673.3L309.0 673.0L309.5 673.6L310.0 673.3L310.5 673.4L311.0 673.2L311.5 673.1L312.0 673.5L312.5 673.3L313.0 673.4L313.5 673.4L314.0 673.7L314.5 673.2L315.0 673.1L315.5 673.5L316.0 673.5L316.5 673.1L317.0 673.7L317.5 673.7L318.0 673.7L318.5 673.2L319.0 673.2L319.5 673.4L320.0 673.2L320.5 673.6L321.0 673.2L321.5 673.3L322.0 673.2L322.5 673.3L323.0 673.3L323.1 676.4Z" fill="#555555"/>
<path d="M206.0 695.2L206.0 695.2L206.5 693.9L207.0 693.9L207.5 693.5L208.0 693.6L208.5 693.1L209.0 693.0L209.5 692.9L210.0 693.1L210.5 693.2L211.0 693.0L211.5 692.8L212.0 692.6L212.5 692.2L213.0 692.9L213.5 692.5L214.0 692.4L214.5 692.1L215.0 691.9L215.5 691.9L216.0 691.9L216.5 691.7L217.0 691.7L217.5 691.5L218.0 691.5L218.5 691.5L219.0 691.9L219.5 691.3L220.0 691.7L220.5 691.5L221.0 691.3L221.5 691.2L222.0 691.1L222.5 691.9L223.0 691.6L223.5 691.6L224.0 691.5L224.5 691.7L225.0 691.4L225.5 691.8L226.0 691.6L226.5 691.1L227.0 691.3L227.5 691.5L228.0 691.8L228.5 691.1L229.0 691.4L229.5 691.8L230.0 691.7L230.5 691.4L231.0 691.4L231.5 691.8L232.0 691.2L232.5 691.7L233.0 691.7L233.5 691.2L234.0 691.7L234.5 691.3L235.0 691.6L235.5 691.3L236.0 691.5L236.5 691.4L237.0 690.9L237.5 691.3L238.0 691.3L238.5 691.2L239.0 691.5L239.5 691.6L240.0 691.5L240.5 691.6L241.0 691.7L241.5 691.2L242.0 692.0L242.5 691.4L243.0 691.4L243.5 691.4L244.0 691.9L244.5 691.4L245.0 691.7L245.5 691.1L246.0 690.9L246.5 691.2L247.0 691.3L247.5 690.8L248.0 691.0L248.5 690.5L249.0 690.1L249.5 689.4L250.0 689.6L250.5 689.4L251.0 688.6L251.5 688.3L252.0 688.2L252.5 688.1L253.0 687.4L253.5 686.8L254.0 686.2L254.5 685.9L255.0 685.0L255.5 684.4L256.0 683.9L256.5 683.2L257.0 683.3L257.5 682.1L258.0 681.9L258.5 680.5L259.0 680.0L259.5 679.6L260.0 679.6L260.5 679.4L261.0 678.3L261.5 678.1L262.0 678.0L262.5 678.1L263.0 677.7L263.5 678.0L264.0 678.0L264.5 678.0L265.0 678.1L265.5 677.9L266.0 677.7L266.5 678.4L267.0 678.5L267.5 678.2L268.0 678.5L268.5 679.2L269.0 679.6L269.5 680.2L270.0 680.6L270.5 680.9L271.0 681.4L271.5 682.1L272.0 683.1L272.5 683.9L273.0 683.9L273.5 684.8L274.0 685.4L274.5 685.8L275.0 686.4L275.5 687.1L276.0 688.0L276.5 687.9L277.0 688.9L277.5 689.6L278.0 689.8L278.5 690.2L279.0 690.6L279.5 691.3L280.0 691.2L280.5 691.7L281.0 692.2L281.5 692.0L282.0 692.4L282.5 692.5L283.0 692.9L283.5 693.5L284.0 693.2L284.5 693.4L285.0 693.9L285.5 693.6L286.0 693.5L286.5 694.0L287.0 693.6L287.5 693.6L288.0 693.7L288.5 694.3L289.0 694.1L289.5 693.9L290.0 693.9L290.5 693.8L291.0 693.9L291.5 694.3L292.0 693.7L292.5 694.0L293.0 693.7L293.5 694.2L294.0 693.5L294.5 693.9L295.0 693.7L295.5 693.7L296.0 693.5L296.5 693.9L297.0 694.1L297.5 693.9L298.0 694.0L298.5 693.7L299.0 693.5L299.5 693.8L300.0 694.0L300.5 694.1L301.0 693.7L301.5 693.6L302.0 694.0L302.5 693.4L303.0 693.8L303.5 693.8L304.0 693.2L304.5 693.5L305.0 693.1L305.5 693.4L306.0 693.7L306.5 693.6L307.0 693.4L307.5 693.2L308.0 693.1L308.5 693.1L309.0 693.2L309.5 693.5L310.0 693.3L310.5 693.3L311.0 693.2L311.5 693.4L312.0 693.2L312.5 693.2L313.0 693.6L313.5 692.9L314.0 693.1L314.5 693.0L315.0 693.0L315.5 693.0L316.0 692.8L316.5 693.3L317.0 693.3L317.5 693.6L318.0 693.1L318.5 693.2L319.0 693.2L319.5 692.9L320.0 693.5L320.5 693.5L321.0 693.1L321.5 693.1L322.0 693.4L322.5 693.7L323.0 693.5L323.1 695.2Z" fill="#5b5bc6"/>
<path d="M206.0 714.2L206.0 714.2L206.5 712.5L207.0 712.7L207.5 712.7L208.0 712.8L208.5 712.6L209.0 712.6L209.5 712.5L210.0 712.4L210.5 712.5L211.0 712.7L211.5 712.8L212.0 712.4L212.5 712.4L213.0 712.3L213.5 712.8L214.0 712.4L214.5 712.3L215.0 712.9L215.5 712.7L216.0 712.5L216.5 712.8L217.0 712.3L217.5 712.7L218.0 712.4L218.5 712.7L219.0 712.7L219.5 712.7L220.0 712.5L220.5 712.3L221.0 712.7L221.5 712.3L222.0 712.6L222.5 712.3L223.0 712.5L223.5 712.6L224.0 712.7L224.5 712.7L225.0 712.3L225.5 712.5L226.0 712.7L226.5 712.1L227.0 712.3L227.5 712.7L228.0 712.2L228.5 712.3L229.0 712.4L229.5 712.4L230.0 712.1L230.5 712.5L231.0 712.3L231.5 712.3L232.0 712.5L232.5 712.5L233.0 712.2L233.5 712.3L234.0 712.4L234.5 712.4L235.0 712.6L235.5 712.2L236.0 712.8L236.5 712.4L237.0 712.6L237.5 712.8L238.0 712.6L238.5 712.7L239.0 713.1L239.5 712.9L240.0 713.1L240.5 712.6L241.0 712.9L241.5 712.8L242.0 712.8L242.5 712.9L243.0 712.7L243.5 712.7L244.0 712.3L244.5 712.0L245.0 712.4L245.5 712.3L246.0 711.9L246.5 712.0L247.0 711.7L247.5 711.3L248.0 711.5L248.5 711.0L249.0 711.0L249.5 711.1L250.0 710.9L250.5 710.2L251.0 710.1L251.5 709.6L252.0 708.9L252.5 708.3L253.0 708.1L253.5 707.5L254.0 707.5L254.5 707.1L255.0 706.8L255.5 706.1L256.0 706.2L256.5 705.7L257.0 705.9L257.5 705.6L258.0 705.2L258.5 705.3L259.0 705.3L259.5 705.6L260.0 705.0L260.5 705.5L261.0 704.9L261.5 705.0L262.0 705.0L262.5 705.2L263.0 705.4L263.5 705.3L264.0 705.1L264.5 705.1L265.0 705.3L265.5 705.1L266.0 705.7L266.5 705.6L267.0 705.8L267.5 705.7L268.0 705.5L268.5 705.7L269.0 706.3L269.5 706.3L270.0 706.6L270.5 706.4L271.0 706.7L271.5 707.2L272.0 707.5L272.5 707.4L273.0 708.1L273.5 708.2L274.0 708.6L274.5 709.1L275.0 709.5L275.5 710.0L276.0 710.6L276.5 710.8L277.0 711.3L277.5 711.5L278.0 711.8L278.5 711.4L279.0 711.9L279.5 712.2L280.0 712.5L280.5 712.4L281.0 712.0L281.5 712.3L282.0 712.1L282.5 712.4L283.0 712.2L283.5 712.3L284.0 712.1L284.5 712.3L285.0 712.4L285.5 712.5L286.0 712.3L286.5 712.1L287.0 712.2L287.5 712.4L288.0 712.5L288.5 712.1L289.0 712.1L289.5 712.6L290.0 712.3L290.5 712.2L291.0 712.3L291.5 712.1L292.0 712.1L292.5 712.6L293.0 712.1L293.5 712.5L294.0 712.5L294.5 712.1L295.0 712.6L295.5 712.5L296.0 712.3L296.5 712.6L297.0 712.6L297.5 712.2L298.0 712.3L298.5 712.2L299.0 712.2L299.5 712.1L300.0 712.1L300.5 712.2L301.0 712.1L301.5 712.4L302.0 712.3L302.5 712.4L303.0 712.1L303.5 712.4L304.0 712.5L304.5 712.4L305.0 712.6L305.5 712.8L306.0 712.6L306.5 712.8L307.0 712.9L307.5 712.8L308.0 712.6L308.5 712.4L309.0 712.9L309.5 712.5L310.0 712.9L310.5 712.6L311.0 712.8L311.5 712.7L312.0 712.5L312.5 712.8L313.0 712.8L313.5 712.6L314.0 713.0L314.5 712.9L315.0 712.6L315.5 712.6L316.0 712.5L316.5 713.0L317.0 712.8L317.5 713.0L318.0 712.8L318.5 712.7L319.0 713.2L319.5 713.0L320.0 712.6L320.5 713.0L321.0 712.8L321.5 712.7L322.0 713.1L322.5 712.7L323.0 713.2L323.1 714.2Z" fill="#c65b5b"/>
<path d="M258.4 738.2L258.4 738.2L258.9 734.2L259.4 732.9L259.9 731.4L260.4 730.1L260.9 728.9L261.4 727.0L261.9 726.2L262.4 724.6L262.9 723.4L263.4 722.5L263.9 722.0L264.4 721.7L264.9 721.6L265.4 721.0L265.9 721.5L266.4 720.9L266.9 721.4L267.4 722.0L267.9 722.8L268.4 723.4L268.9 723.8L269.4 724.9L269.9 726.3L270.4 727.5L270.9 729.2L271.4 730.1L271.9 731.2L272.4 732.1L272.9 732.7L273.4 733.4L273.9 734.8L274.4 734.8L274.9 735.5L275.4 736.4L275.9 736.7L276.4 738.2L276.4 738.2Z" fill="#5b5bc6"/>
<path d="M279.3 738.2L279.3 738.2L279.8 736.4L280.3 736.3L280.8 735.8L281.3 735.4L281.8 735.2L282.3 735.0L282.8 735.2L283.3 734.9L283.8 734.8L284.3 734.6L284.8 734.8L285.3 734.6L285.8 734.8L286.3 734.6L286.8 734.7L287.3 735.0L287.8 735.0L288.3 735.2L288.8 735.2L289.3 735.4L289.8 735.9L290.3 735.7L290.8 735.9L291.3 736.3L291.8 736.4L292.3 736.6L292.8 736.6L293.3 736.9L293.8 737.0L294.3 736.9L294.8 737.1L295.3 737.1L295.8 736.9L296.3 737.2L296.8 737.2L297.3 736.9L297.8 737.2L298.3 737.1L298.8 737.2L299.3 737.2L299.8 737.2L300.3 737.1L300.8 737.3L301.3 737.1L301.8 737.4L302.3 737.4L302.8 737.3L303.1 738.2Z" fill="#5b5bc6"/>
<path d="M305.9 738.2L305.9 738.2L306.4 736.9L306.9 736.7L307.4 736.5L307.9 736.0L308.4 735.9L308.9 735.8L309.4 735.5L309.9 735.4L310.4 735.4L310.9 735.2L311.4 735.2L311.9 735.4L312.4 735.4L312.9 735.5L313.4 735.5L313.9 735.9L314.4 735.9L314.9 735.9L315.4 736.2L315.9 736.2L316.4 736.7L316.9 736.6L317.4 736.9L317.9 736.8L318.4 737.0L318.7 738.2Z" fill="#5b5bc6"/>
<path d="M240.8 756.7L240.8 756.7L241.3 755.7L241.8 756.0L242.3 755.9L242.8 755.3L243.3 755.6L243.8 755.6L244.3 756.1L244.8 755.9L245.3 755.2L245.8 756.0L246.3 755.7L246.8 755.5L247.3 755.7L247.8 755.6L248.3 755.2L248.8 755.4L249.3 756.0L249.8 755.8L250.3 755.8L250.8 755.5L251.3 755.5L251.8 755.9L252.3 755.5L252.8 755.8L253.3 756.2L253.8 755.9L254.3 755.8L254.8 756.0L255.3 755.5L255.8 755.2L256.3 755.3L256.8 755.6L257.3 755.3L257.8 755.7L258.3 755.2L258.8 754.1L259.3 754.2L259.8 753.1L260.3 752.1L260.8 750.9L261.3 749.5L261.8 748.6L262.3 747.2L262.8 746.4L263.3 746.7L263.8 746.2L264.3 745.7L264.8 745.0L265.3 745.3L265.8 744.5L266.3 744.8L266.8 743.9L267.3 743.4L267.8 743.0L268.3 743.2L268.8 741.9L269.3 742.2L269.8 743.2L270.3 743.5L270.8 744.3L271.3 745.3L271.8 745.6L272.3 745.7L272.8 746.5L273.3 747.5L273.8 747.8L274.3 748.2L274.8 748.0L275.3 748.2L275.8 748.7L276.3 748.6L276.8 747.7L277.3 748.0L277.8 747.3L278.3 747.5L278.8 746.8L279.3 747.1L279.8 747.2L280.3 747.1L280.8 747.4L281.3 747.2L281.8 747.0L282.3 747.3L282.8 747.3L283.3 747.9L283.8 748.5L284.3 748.1L284.8 748.7L285.3 748.7L285.8 749.0L286.3 750.0L286.8 750.7L287.3 751.1L287.8 751.5L288.3 752.1L288.8 752.6L289.3 752.6L289.8 752.6L290.3 752.8L290.8 753.1L291.3 753.1L291.8 753.0L292.3 753.3L292.8 753.0L293.3 753.5L293.8 752.6L294.3 752.7L294.8 753.1L295.3 752.9L295.8 753.0L296.3 752.5L296.8 752.8L297.3 752.5L297.8 752.3L298.3 752.5L298.8 753.1L299.3 753.3L299.8 752.9L300.3 753.2L300.8 754.1L301.3 754.1L301.8 753.8L302.3 754.1L302.8 754.7L303.3 754.8L303.8 754.4L304.3 755.5L304.8 755.5L305.3 755.3L305.8 755.1L306.3 755.1L306.8 755.6L307.3 755.3L307.8 755.1L308.3 755.7L308.8 755.8L309.3 755.8L309.8 755.3L310.3 756.0L310.8 755.6L311.3 755.2L311.8 755.9L312.3 755.5L312.8 755.6L313.3 755.2L313.8 755.7L314.3 755.7L314.8 755.3L315.1 756.7Z" fill="#c65b5b"/>
<path d="M206.0 756.7H208.0V755.5H206.0Z" fill="#c65b5b"/>
<path d="M248.4 775.3L248.4 775.3L248.9 774.1L249.4 774.5L249.9 774.1L250.4 774.4L250.9 774.0L251.4 774.0L251.9 774.3L252.4 774.4L252.9 774.5L253.4 774.5L253.9 774.5L254.4 774.5L254.9 774.1L255.4 774.6L255.9 774.2L256.4 774.2L256.9 774.1L257.4 774.3L257.9 774.0L258.4 773.9L258.9 773.4L259.4 772.4L259.9 771.9L260.4 770.8L260.9 770.1L261.4 769.6L261.9 768.7L262.4 768.4L262.9 767.5L263.4 767.2L263.9 767.1L264.4 766.9L264.9 766.7L265.4 766.6L265.9 767.2L266.4 766.9L266.9 767.9L267.4 768.1L267.9 769.1L268.4 769.5L268.9 770.0L269.4 770.1L269.9 770.4L270.4 770.6L270.9 771.2L271.4 771.6L271.9 771.5L272.4 772.1L272.9 771.8L273.4 772.3L273.9 772.2L274.4 772.8L274.9 772.7L275.4 773.1L275.9 773.3L276.4 773.2L276.9 772.9L277.4 773.4L277.9 773.4L278.4 773.3L278.9 773.2L279.4 773.8L279.9 773.6L280.4 773.6L280.9 773.6L281.4 774.0L281.9 773.9L282.4 773.7L282.9 774.1L283.4 774.0L283.9 773.9L284.4 773.8L284.9 774.3L285.4 773.9L285.9 774.2L286.4 774.1L286.9 773.8L287.4 773.6L287.9 773.5L288.4 773.2L288.9 773.7L289.4 773.4L289.9 773.3L290.4 773.5L290.9 773.0L291.4 773.5L291.9 773.5L292.4 773.6L292.9 773.2L293.4 773.2L293.9 773.5L294.4 773.0L294.9 773.2L295.4 773.6L295.9 773.1L296.4 773.3L296.9 773.7L297.4 773.4L297.9 774.0L298.4 774.0L298.9 774.0L299.4 773.7L299.9 774.2L300.4 774.2L300.9 774.3L301.4 773.8L301.9 774.2L302.4 773.7L302.9 774.0L303.4 773.9L303.9 773.6L304.4 774.0L304.9 773.8L305.4 773.7L305.9 773.7L306.4 773.8L306.9 773.6L307.4 773.8L307.9 773.9L308.4 774.0L308.9 773.6L309.4 773.6L309.9 773.4L310.4 773.8L310.9 773.4L311.4 773.6L311.9 773.5L312.4 773.3L312.9 773.5L313.4 773.6L313.9 773.5L314.4 773.9L314.9 773.4L315.4 773.7L315.9 774.0L316.4 773.7L316.9 773.4L317.4 773.4L317.9 773.8L318.4 774.0L318.9 773.5L319.4 774.0L319.9 774.3L320.4 774.1L320.9 774.0L321.4 773.9L321.9 774.3L322.4 774.2L322.9 773.9L323.1 775.3Z" fill="#c65b5b"/>
<path d="M211.4 775.4H219.0V774.5H211.4Z" fill="#c65b5b"/>
<path d="M268.7 798.3H276.3V796.7H268.7ZM285.8 798.3H293.4V796.7H285.8Z" fill="#5b5bc6"/>
<path d="M256.5 817.1L256.5 817.1L257.0 814.9L257.5 813.4L258.0 811.3L258.5 809.8L259.0 807.9L259.5 807.1L260.0 805.9L260.5 805.1L261.0 803.7L261.5 803.2L262.0 802.7L262.5 802.2L263.0 801.5L263.5 801.4L264.0 801.3L264.5 800.4L265.0 800.2L265.5 801.1L266.0 802.0L266.5 803.1L267.0 803.7L267.5 804.6L268.0 804.7L268.5 805.9L269.0 806.2L269.5 806.8L270.0 807.3L270.5 808.3L271.0 808.9L271.5 810.0L272.0 810.5L272.5 811.1L273.0 812.0L273.5 813.0L274.0 813.0L274.5 814.0L275.0 814.3L275.5 814.9L276.0 814.8L276.5 815.8L277.0 817.1L277.0 817.1Z" fill="#c65b5b"/>
<path d="M281.2 817.1L281.2 817.1L281.7 815.6L282.2 815.7L282.7 815.7L283.2 815.6L283.7 815.5L284.2 815.6L284.7 815.5L285.2 815.5L285.7 815.3L286.2 815.2L286.7 815.1L287.2 815.0L287.7 815.0L288.2 815.1L288.7 815.2L289.2 815.4L289.7 815.4L290.2 815.4L290.7 815.6L291.2 815.5L291.7 815.5L292.2 815.5L292.7 815.7L293.1 817.1Z" fill="#c65b5b"/>
<path d="M301.0 817.1L301.0 817.1L301.5 815.6L302.0 815.6L302.5 815.5L303.0 815.6L303.5 815.6L304.0 815.6L304.5 815.5L305.0 815.5L305.5 815.7L306.0 815.7L306.5 815.6L307.0 815.6L307.5 815.6L307.9 817.1Z" fill="#c65b5b"/>
<path d="M258.8 836.1L258.8 836.1L259.3 834.9L259.8 834.7L260.3 834.6L260.8 834.6L261.3 834.4L261.8 834.4L262.3 834.1L262.8 834.4L263.3 834.0L263.8 834.1L264.3 834.1L264.8 834.2L265.3 833.9L265.8 833.8L266.3 834.0L266.8 833.9L267.3 834.0L267.8 834.2L268.3 834.0L268.8 834.3L269.3 834.2L269.8 834.2L270.3 834.2L270.8 834.3L271.3 834.5L271.8 834.4L272.3 834.8L272.8 834.7L273.3 834.8L273.8 834.7L274.3 834.8L274.5 836.1Z" fill="#c65b5b"/>
<text x="407.40" y="617.00" font-size="12.7" >Telo 5p</text>
<rect x="339.6" y="619.8" width="170" height="14.4" rx="1.5" fill="#fff" stroke="#333" stroke-width="0.9"/>
<text x="342.60" y="629.20" font-size="6.4" font-family='"Liberation Mono", monospace' fill="#2a2a2a" >chr5 (p15.33)</text>
<rect x="397.50" y="623.30" width="109.30" height="7.00" fill="#f2f2f2" stroke="#777" stroke-width="0.5"/>
<rect x="398.50" y="623.30" width="2.00" height="7.00" fill="#999" />
<rect x="402.00" y="623.30" width="2.00" height="7.00" fill="#333" />
<rect x="406.30" y="623.30" width="1.90" height="7.00" fill="#444" />
<rect x="410.00" y="623.30" width="1.50" height="7.00" fill="#000" />
<rect x="413.70" y="623.30" width="1.80" height="7.00" fill="#bbb" />
<rect x="417.40" y="623.30" width="4.50" height="7.00" fill="#666" />
<rect x="428.30" y="623.30" width="3.70" height="7.00" fill="#888" />
<rect x="433.80" y="623.30" width="2.70" height="7.00" fill="#333" />
<rect x="438.40" y="623.30" width="1.80" height="7.00" fill="#888" />
<rect x="442.00" y="623.30" width="2.80" height="7.00" fill="#999" />
<rect x="448.00" y="623.30" width="5.00" height="7.00" fill="#000" />
<rect x="454.80" y="623.30" width="1.80" height="7.00" fill="#222" />
<rect x="458.40" y="623.30" width="1.90" height="7.00" fill="#000" />
<rect x="462.10" y="623.30" width="2.70" height="7.00" fill="#999" />
<rect x="467.60" y="623.30" width="2.70" height="7.00" fill="#000" />
<rect x="473.00" y="623.30" width="2.80" height="7.00" fill="#999" />
<rect x="477.60" y="623.30" width="2.70" height="7.00" fill="#bbb" />
<rect x="482.10" y="623.30" width="3.70" height="7.00" fill="#333" />
<rect x="487.60" y="623.30" width="2.40" height="7.00" fill="#999" />
<rect x="494.40" y="623.30" width="4.70" height="7.00" fill="#000" />
<rect x="501.30" y="623.30" width="1.80" height="7.00" fill="#999" />
<rect x="423.20" y="623.30" width="5.00" height="7.00" fill="#fff" />
<path d="M423.2 623.3L425.7 626.6L428.2 623.3M423.2 630.3L425.7 627L428.2 630.3" fill="none" stroke="#b03030" stroke-width="0.8" />
<line x1="397.20" y1="621.60" x2="397.20" y2="632.40" stroke="#ee2222" stroke-width="1.8" />
<text x="545.20" y="642.40" font-size="13" textLength="77.4" lengthAdjust="spacingAndGlyphs" >Telo Repeats</text>
<path d="M566.2 647H602.1V652.4H619.4L583.7 657.3L548.6 652.4H566.2Z" fill="#c00000" stroke="#2f5597" stroke-width="1.2" />
<text x="383.80" y="679.10" font-size="13" textLength="57" lengthAdjust="spacingAndGlyphs" >ATACseq</text>
<line x1="490.50" y1="663.60" x2="490.50" y2="759.70" stroke="#f2a5a5" stroke-width="1" />
<text x="488.60" y="670.20" font-size="7.3" text-anchor="end" font-family='"Liberation Mono", monospace' fill="#2a2a2a" >Scale</text>
<text x="488.60" y="679.00" font-size="7.3" text-anchor="end" font-family='"Liberation Mono", monospace' fill="#2a2a2a" >chr5:</text>
<text x="497.00" y="670.00" font-size="7.3" font-family='"Liberation Mono", monospace' fill="#2a2a2a" >500 bases</text>
<line x1="539.70" y1="667.30" x2="597.80" y2="667.30" stroke="#333" stroke-width="0.9" />
<line x1="539.70" y1="664.60" x2="539.70" y2="670.00" stroke="#333" stroke-width="0.9" />
<line x1="597.80" y1="664.60" x2="597.80" y2="670.00" stroke="#333" stroke-width="0.9" />
<text x="604.80" y="670.00" font-size="7.3" font-family='"Liberation Mono", monospace' fill="#2a2a2a" >hg19</text>
<line x1="500.80" y1="672.80" x2="500.80" y2="679.50" stroke="#333" stroke-width="0.9" />
<text x="531.90" y="678.40" font-size="7.3" font-family='"Liberation Mono", monospace' fill="#2a2a2a" >11,500</text>
<line x1="560.60" y1="672.50" x2="560.60" y2="679.50" stroke="#333" stroke-width="0.9" />
<text x="589.90" y="678.40" font-size="7.3" font-family='"Liberation Mono", monospace' fill="#2a2a2a" >12,000</text>
<line x1="618.60" y1="672.50" x2="618.60" y2="679.50" stroke="#333" stroke-width="0.9" />
<path d="M403.7 691.9H394.2V761.5H403.7" fill="none" stroke="#111" stroke-width="1.3" />
<text transform="translate(390.30,726.80) rotate(-90)" text-anchor="middle" font-size="10.4" fill="#111">DMSO</text>
<text x="401.90" y="702.14" font-size="10.4" fill="#111" >Control</text>
<text x="402.80" y="728.94" font-size="10.4" fill="#111" >DAXX_KO</text>
<text x="402.80" y="754.34" font-size="10.4" fill="#111" >ATRX_KO</text>
<text x="480.50" y="694.56" font-size="7.4" text-anchor="end" font-family='"Liberation Mono", monospace' fill="#2a2a2a" >15.9829</text>
<line x1="484.30" y1="694.30" x2="487.70" y2="694.30" stroke="#111" stroke-width="0.9" />
<text x="480.50" y="710.66" font-size="7.4" text-anchor="end" font-family='"Liberation Mono", monospace' fill="#2a2a2a" >0</text>
<line x1="484.30" y1="710.40" x2="487.70" y2="710.40" stroke="#111" stroke-width="0.9" />
<text x="480.50" y="718.56" font-size="7.4" text-anchor="end" font-family='"Liberation Mono", monospace' fill="#2a2a2a" >15.9829</text>
<line x1="484.30" y1="718.30" x2="487.70" y2="718.30" stroke="#111" stroke-width="0.9" />
<text x="480.50" y="734.36" font-size="7.4" text-anchor="end" font-family='"Liberation Mono", monospace' fill="#2a2a2a" >0</text>
<line x1="484.30" y1="734.10" x2="487.70" y2="734.10" stroke="#111" stroke-width="0.9" />
<text x="480.50" y="742.56" font-size="7.4" text-anchor="end" font-family='"Liberation Mono", monospace' fill="#2a2a2a" >15.9829</text>
<line x1="484.30" y1="742.30" x2="487.70" y2="742.30" stroke="#111" stroke-width="0.9" />
<text x="480.50" y="758.36" font-size="7.4" text-anchor="end" font-family='"Liberation Mono", monospace' fill="#2a2a2a" >0</text>
<line x1="484.30" y1="758.10" x2="487.70" y2="758.10" stroke="#111" stroke-width="0.9" />
<path d="M564.0 709.6L564.0 709.6L564.5 708.0L565.0 707.8L565.5 707.5L566.0 707.5L566.5 707.3L567.0 707.2L567.5 707.2L568.0 707.5L568.5 707.3L569.0 707.4L569.5 707.4L570.0 707.2L570.5 707.4L571.0 707.4L571.5 707.4L572.0 707.7L572.5 708.0L573.0 708.2L573.5 708.3L573.8 709.6Z" fill="#5b5bc6"/>
<path d="M586.9 709.6L586.9 709.6L587.4 708.5L587.9 708.1L588.4 707.9L588.9 707.9L589.4 707.6L589.9 707.5L590.4 707.6L590.9 707.5L591.4 707.7L591.9 707.7L592.4 707.3L592.9 707.6L593.4 707.6L593.9 707.3L594.4 707.3L594.9 707.6L595.4 707.6L595.9 707.7L596.4 707.9L596.9 708.1L597.4 708.0L597.9 708.3L598.4 708.4L598.8 709.6Z" fill="#5b5bc6"/>
<path d="M607.0 709.6L607.0 709.6L607.5 707.5L608.0 707.3L608.5 707.0L609.0 706.0L609.5 705.8L610.0 705.6L610.5 705.4L611.0 705.0L611.5 704.6L612.0 704.1L612.5 703.8L613.0 703.3L613.5 702.9L614.0 702.5L614.5 701.8L615.0 701.6L615.5 701.2L616.0 700.9L616.5 701.1L617.0 701.3L617.5 701.9L618.0 702.4L618.5 702.6L619.0 703.2L619.5 703.4L620.0 704.4L620.5 704.2L621.0 705.2L621.5 705.2L622.0 705.6L622.5 706.1L623.0 706.0L623.5 706.4L624.0 707.1L624.5 707.5L625.0 708.3L625.5 708.7L626.0 708.7L626.5 708.4L627.0 708.3L627.5 708.5L628.0 708.6L628.5 708.5L629.0 708.7L629.5 708.3L630.0 708.3L630.1 709.6Z" fill="#5b5bc6"/>
<path d="M633.4 709.6L633.4 709.6L633.9 708.6L634.4 708.8L634.9 708.6L635.4 708.4L635.9 708.6L636.4 708.6L636.9 708.6L637.4 708.3L637.9 708.4L638.4 708.4L638.9 708.2L639.4 708.1L639.9 708.0L640.4 707.9L640.9 708.0L641.4 707.8L641.9 707.7L642.4 707.6L642.9 707.6L643.4 707.6L643.9 709.6L643.9 709.6Z" fill="#5b5bc6"/>
<path d="M563.0 733.8L563.0 733.8L563.5 731.3L564.0 729.3L564.5 727.7L565.0 726.5L565.5 725.6L566.0 724.5L566.5 724.1L567.0 723.5L567.5 723.1L568.0 723.0L568.5 723.1L569.0 722.7L569.5 723.4L570.0 722.9L570.5 723.1L571.0 723.9L571.5 724.3L572.0 725.1L572.5 726.1L573.0 726.8L573.5 728.4L574.0 729.3L574.5 730.6L575.0 731.8L575.5 732.6L575.9 733.8Z" fill="#c65b5b"/>
<path d="M588.3 733.8L588.3 733.8L588.8 732.0L589.3 731.0L589.8 730.6L590.3 731.1L590.8 731.1L591.3 730.9L591.8 730.4L592.3 730.4L592.8 730.3L593.3 730.1L593.8 730.3L594.3 730.2L594.8 731.0L595.3 731.1L595.8 730.5L596.3 730.9L596.8 731.4L597.3 732.1L597.8 732.5L598.3 732.8L598.8 732.6L599.3 732.7L599.8 732.9L600.3 733.0L600.8 732.9L601.3 733.0L601.8 733.0L602.3 732.7L602.8 733.0L603.3 732.3L603.8 732.6L604.3 731.2L604.8 728.6L605.3 727.6L605.8 727.1L606.3 726.3L606.8 725.3L607.3 724.0L607.8 722.6L608.3 721.1L608.8 719.1L609.3 718.9L609.8 717.9L610.3 717.3L610.8 716.8L611.3 715.9L611.8 716.1L612.3 716.0L612.8 715.6L613.3 714.4L613.8 714.5L614.3 714.0L614.8 712.4L615.3 712.0L615.8 711.7L616.3 713.0L616.8 713.2L617.3 714.7L617.8 715.3L618.3 715.5L618.8 716.5L619.3 717.0L619.8 718.1L620.3 718.4L620.8 719.9L621.3 720.1L621.8 721.3L622.3 722.1L622.8 722.1L623.3 723.0L623.8 723.0L624.3 723.8L624.8 723.6L625.3 723.8L625.8 724.5L626.3 725.4L626.8 725.4L627.3 725.6L627.8 726.3L628.3 727.0L628.8 727.3L629.3 727.9L629.8 727.4L630.3 728.3L630.8 728.5L631.3 728.9L631.8 729.1L632.3 729.2L632.8 729.3L633.3 729.9L633.8 730.0L634.3 729.9L634.8 730.7L635.3 730.9L635.8 730.8L636.3 730.6L636.8 730.8L637.3 731.3L637.8 731.8L638.3 731.1L638.8 731.0L639.3 731.1L639.8 731.5L640.3 731.7L640.8 731.6L641.3 731.4L641.8 731.2L642.3 731.7L642.8 731.7L643.3 732.0L643.8 733.8L643.8 733.8Z" fill="#c65b5b"/>
<path d="M563.0 758.1L563.0 758.1L563.5 754.2L564.0 751.2L564.5 748.2L565.0 746.1L565.5 743.9L566.0 742.3L566.5 741.4L567.0 740.5L567.5 739.3L568.0 738.7L568.5 738.2L569.0 738.0L569.5 737.9L570.0 738.6L570.5 739.6L571.0 740.1L571.5 741.6L572.0 743.6L572.5 745.0L573.0 747.2L573.5 749.5L574.0 752.2L574.5 753.7L575.0 755.0L575.5 756.2L576.0 757.1L576.1 758.1Z" fill="#c65b5b"/>
<path d="M585.5 758.1L585.5 758.1L586.0 756.9L586.5 756.8L587.0 756.9L587.5 756.9L588.0 756.8L588.5 756.9L589.0 756.9L589.5 756.9L590.0 756.9L590.5 757.0L591.0 756.8L591.5 756.8L592.0 757.0L592.5 756.9L593.0 757.0L593.5 756.9L594.0 756.9L594.5 756.8L595.0 756.9L595.5 756.9L596.0 756.9L596.5 756.9L596.7 758.1Z" fill="#c65b5b"/>
<path d="M602.8 758.1L602.8 758.1L603.3 756.7L603.8 756.5L604.3 756.2L604.8 755.3L605.3 754.8L605.8 754.6L606.3 754.6L606.8 753.4L607.3 753.9L607.8 753.2L608.3 752.8L608.8 752.6L609.3 751.5L609.8 751.4L610.3 751.7L610.8 751.3L611.3 750.4L611.8 750.8L612.3 751.0L612.8 751.1L613.3 751.1L613.8 751.0L614.3 751.4L614.8 751.4L615.3 752.2L615.8 752.0L616.3 752.2L616.8 752.7L617.3 752.4L617.8 752.6L618.3 752.9L618.8 753.0L619.3 753.1L619.8 752.5L620.3 752.4L620.8 751.9L621.3 750.9L621.8 750.6L622.3 749.7L622.8 749.0L623.3 749.3L623.8 748.2L624.3 748.0L624.8 747.1L625.3 746.0L625.8 745.0L626.3 744.9L626.8 745.0L627.3 746.2L627.8 746.3L628.3 747.7L628.8 747.7L629.3 748.8L629.8 748.8L630.3 749.2L630.8 749.5L631.3 750.1L631.8 750.9L632.3 751.5L632.8 751.8L633.3 752.3L633.8 752.8L634.3 752.9L634.8 752.9L635.3 752.7L635.8 753.0L636.3 752.7L636.8 752.9L637.3 753.2L637.8 752.7L638.3 753.0L638.8 752.5L639.3 752.3L639.8 752.2L640.3 752.1L640.8 752.1L641.3 752.0L641.8 752.0L642.3 751.5L642.8 751.0L643.3 751.3L643.7 758.1Z" fill="#c65b5b"/>
<line x1="559.00" y1="759.70" x2="449.80" y2="783.00" stroke="#4472c4" stroke-width="0.9" />
<line x1="584.40" y1="761.60" x2="676.00" y2="786.80" stroke="#4472c4" stroke-width="0.9" />
<text x="413.40" y="793.30" font-size="8.3" font-family='"Liberation Mono", monospace' fill="#2a2a2a" textLength="40.6" lengthAdjust="spacingAndGlyphs" >20 bases</text>
<line x1="456.90" y1="790.80" x2="560.00" y2="790.80" stroke="#333" stroke-width="0.9" />
<line x1="456.90" y1="788.00" x2="456.90" y2="793.50" stroke="#333" stroke-width="0.9" />
<line x1="560.00" y1="788.00" x2="560.00" y2="793.50" stroke="#333" stroke-width="0.9" />
<text x="567.80" y="793.30" font-size="8.3" font-family='"Liberation Mono", monospace' fill="#2a2a2a" textLength="20.3" lengthAdjust="spacingAndGlyphs" >hg19</text>
<text x="412.80" y="803.80" font-size="8.3" font-family='"Liberation Mono", monospace' fill="#2a2a2a" textLength="55.2" lengthAdjust="spacingAndGlyphs" >135,524,650</text>
<line x1="469.90" y1="797.50" x2="469.90" y2="804.50" stroke="#333" stroke-width="1" />
<text x="350.30" y="810.20" font-size="6.6" font-family='"Liberation Mono", monospace' fill="#333" textLength="320.6" lengthAdjust="spacingAndGlyphs" >TGAGGGTCAGGGTGAGGGTGAGGGTGAGGGTGAGGGTTAGGGTGAGGGTTAGGGTTAGGGTT</text>
<text x="349.3" y="839.6" font-size="20" textLength="335" lengthAdjust="spacingAndGlyphs"><tspan fill="#c00000">TGAGGGTTAGGTGAGGG(</tspan><tspan fill="#0070c0">TTAGGG)n</tspan></text>
</svg></body></html>
